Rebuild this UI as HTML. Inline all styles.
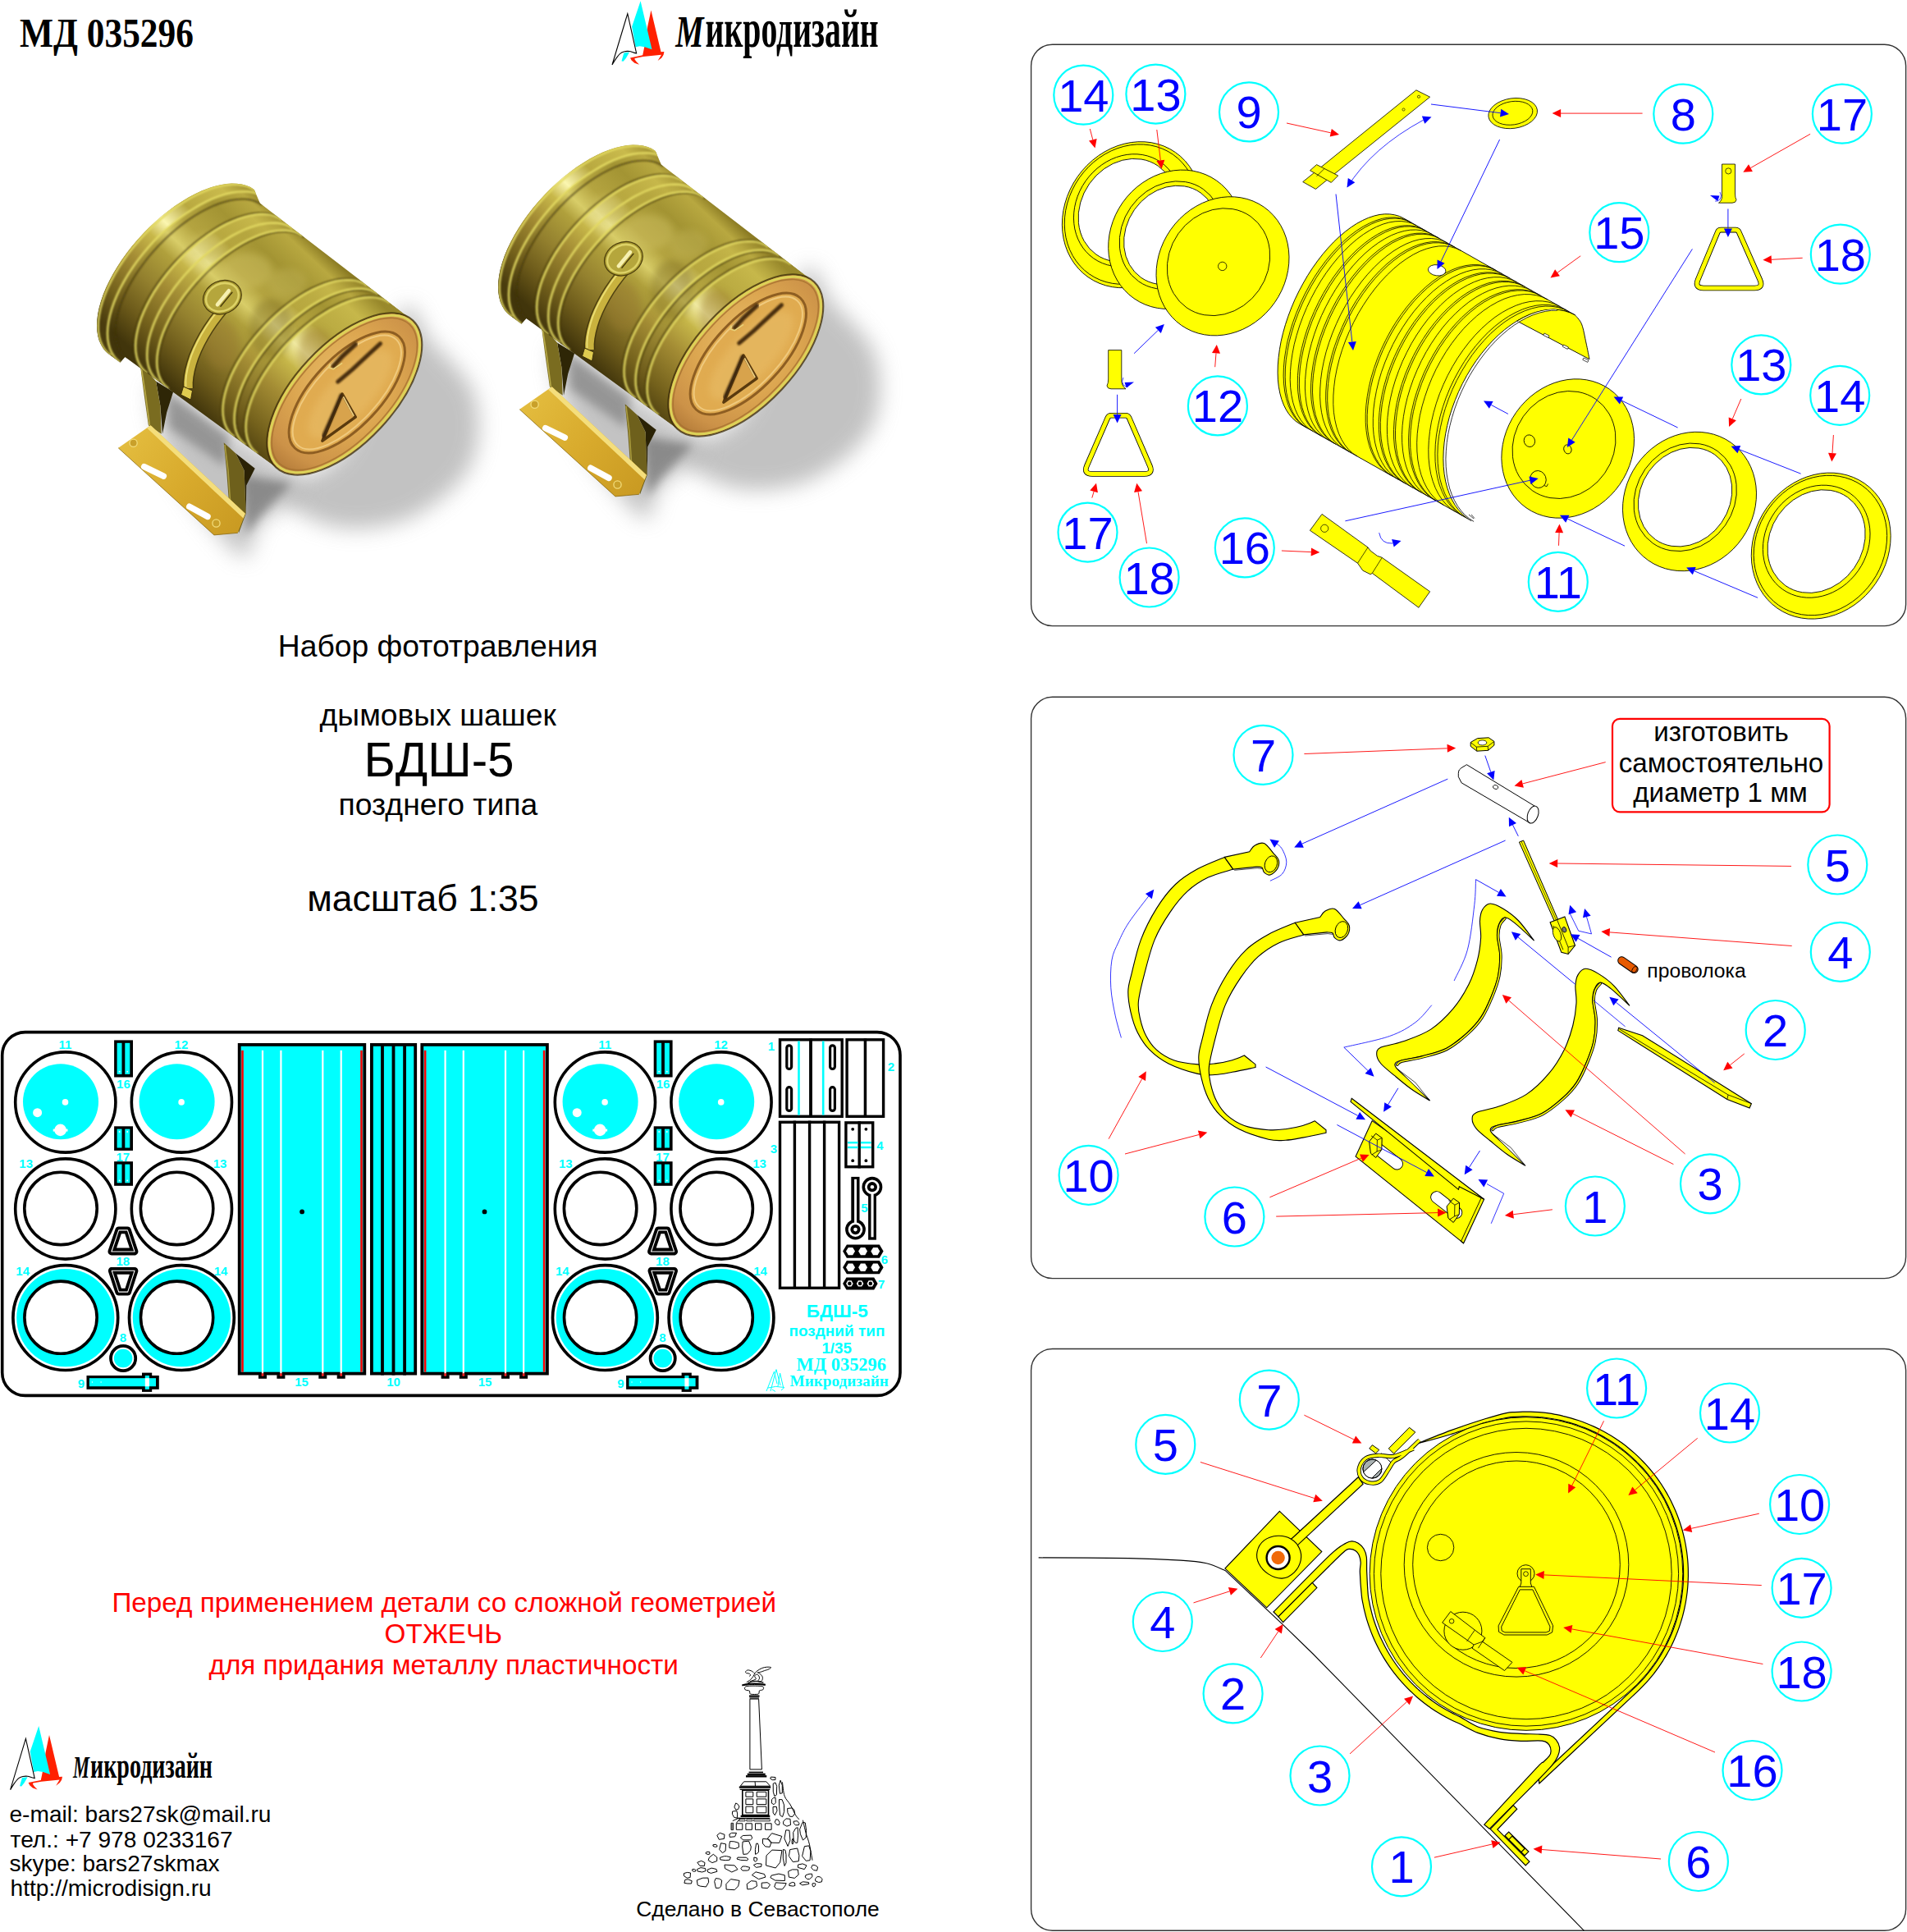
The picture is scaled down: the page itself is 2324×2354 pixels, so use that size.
<!DOCTYPE html>
<html><head><meta charset="utf-8"><title>МД 035296</title>
<style>
html,body{margin:0;padding:0;background:#fff;}
body{width:2324px;height:2354px;overflow:hidden;font-family:"Liberation Sans",sans-serif;}
svg{display:block;position:absolute;left:0;top:0;}
svg text{font-family:"Liberation Sans",sans-serif;}
svg text.sf{font-family:"Liberation Serif",serif;}
</style></head><body>
<svg xmlns="http://www.w3.org/2000/svg" width="2324" height="2354" viewBox="0 0 2324 2354">
<defs>
<linearGradient id="gBody" gradientUnits="userSpaceOnUse" x1="406.4" y1="316.4" x2="237.2" y2="497.6">
<stop offset="0" stop-color="#8c7c24"/><stop offset="0.07" stop-color="#b8a840"/><stop offset="0.2" stop-color="#a39433"/>
<stop offset="0.36" stop-color="#b4a440"/><stop offset="0.46" stop-color="#d8cd68"/><stop offset="0.54" stop-color="#b0a03c"/>
<stop offset="0.7" stop-color="#93802e"/><stop offset="0.86" stop-color="#6c5a1a"/><stop offset="1" stop-color="#41350b"/>
</linearGradient>
<linearGradient id="gBand" gradientUnits="userSpaceOnUse" x1="406.4" y1="316.4" x2="237.2" y2="497.6">
<stop offset="0" stop-color="#9a8a2c"/><stop offset="0.12" stop-color="#c9ba4c"/><stop offset="0.3" stop-color="#b9a940"/><stop offset="0.43" stop-color="#fbf6b0"/>
<stop offset="0.52" stop-color="#c8b84a"/><stop offset="0.66" stop-color="#a48c34"/><stop offset="0.85" stop-color="#75621c"/><stop offset="1" stop-color="#4a3c0e"/>
</linearGradient>
<radialGradient id="gFace" gradientUnits="userSpaceOnUse" cx="430" cy="470" r="125">
<stop offset="0" stop-color="#e8bd68"/><stop offset="0.5" stop-color="#dca650"/><stop offset="0.85" stop-color="#cc9248"/><stop offset="1" stop-color="#b9803c"/>
</radialGradient>
<linearGradient id="gPlate" gradientUnits="userSpaceOnUse" x1="150" y1="540" x2="290" y2="650">
<stop offset="0" stop-color="#e3bc3e"/><stop offset="0.5" stop-color="#d8aa2c"/><stop offset="1" stop-color="#c99a22"/>
</linearGradient>
<filter id="fBlur1" x="-10%" y="-10%" width="120%" height="120%"><feGaussianBlur stdDeviation="0.9"/></filter>
<filter id="fBlur3" x="-20%" y="-20%" width="140%" height="140%"><feGaussianBlur stdDeviation="4"/></filter>
<filter id="fSh" x="-30%" y="-30%" width="160%" height="160%"><feGaussianBlur stdDeviation="13"/></filter>
<filter id="fSh2" x="-30%" y="-30%" width="160%" height="160%"><feGaussianBlur stdDeviation="6"/></filter>
<clipPath id="cBody"><path d="M309.7 230.9 L305.2 228.1 L300.2 226 L294.7 224.5 L288.7 223.7 L282.3 223.5 L275.6 224 L268.5 225.2 L261.1 227 L253.5 229.5 L245.6 232.6 L237.7 236.3 L229.6 240.6 L221.5 245.4 L213.3 250.8 L205.3 256.7 L197.3 263.1 L189.5 269.8 L181.8 277 L174.5 284.4 L167.4 292.2 L160.6 300.2 L154.2 308.4 L148.3 316.8 L142.8 325.2 L137.7 333.7 L133.2 342.2 L129.2 350.6 L125.8 358.8 L123 367 L120.8 374.8 L119.2 382.5 L118.3 389.8 L118 396.7 L118.3 403.3 L119.3 409.4 L120.8 415 L123.1 420.1 L125.9 424.7 L129.3 428.7 L133.3 432.1 L146.5 441.7 L152.4 435 L339.4 571.6 L343.5 574.1 L348.1 576 L353.1 577.3 L358.5 578 L364.3 578.1 L370.4 577.6 L376.8 576.6 L383.5 574.9 L390.4 572.6 L397.5 569.8 L404.8 566.4 L412.1 562.5 L419.5 558 L426.9 553.1 L434.2 547.7 L441.5 542 L448.6 535.8 L455.5 529.3 L462.2 522.5 L468.7 515.4 L474.8 508.1 L480.6 500.6 L486.1 493 L491.1 485.4 L495.7 477.7 L499.8 470 L503.5 462.3 L506.6 454.8 L509.2 447.5 L511.2 440.3 L512.7 433.4 L513.6 426.7 L513.9 420.4 L513.6 414.5 L512.8 409 L511.3 403.9 L509.4 399.2 L506.8 395.1 L503.8 391.5 L500.2 388.4 L316.8 247.6Z"/></clipPath>
<g id="barrel">
<path d="M489 379.3 C506.5 357.4 510.8 399 525.7 416 C540.6 433 570.3 456.2 578.2 481.5 C586.1 506.8 586 543.1 572.9 568 C559.8 592.9 527 618.8 499.5 631 C472 643.2 433.9 646.8 407.7 641.5 C381.5 636.2 340 615.2 342.2 599.5 C344.4 583.8 396.3 583.8 420.8 547.1 C445.3 510.4 471.5 401.2 489 379.3Z" fill="#9a9a9a" filter="url(#fSh)" opacity="0.6"/>
<path d="M192.7 468.4 C208.4 468.4 260.5 513.9 289.8 534 C319.1 554.1 364 571.5 368.4 589 C372.8 606.5 328.2 623.9 316 638.8 C303.8 653.7 309.9 684.8 295 678.2 C280.1 671.7 243.4 623.5 226.8 599.5 C210.2 575.5 201.1 555.9 195.4 534 C189.7 512.1 177 468.4 192.7 468.4Z" fill="#a4a4a4" filter="url(#fSh)" opacity="0.65"/>
<path d="M203.2 476.3 L279.3 531.3 L274 568 L205.9 520.8Z" fill="#6e6e6e" filter="url(#fSh2)" opacity="0.55"/>
<path d="M295 578.5 L355.3 589 L316 631 L300.2 651.9Z" fill="#5c5c5c" filter="url(#fSh2)" opacity="0.55"/>
<path d="M190.1 464.5 L211.1 477.6 L203.2 502.5 L198 528.7 L195.4 494.6Z" fill="#2e2606"/>
<path d="M170.5 442.2 L190.1 464.5 L195.4 494.6 L196.7 528.7 L180.9 518.2 L175.7 481.5Z" fill="#7a6c20"/>
<path d="M171.8 444.8 L177.5 481.5 L182.3 518.2" fill="none" stroke="#b8aa48" stroke-width="1.6"/>
<path d="M287.1 552.3 L310.7 570.7 L300.2 591.6 L299.7 625.7 L297.6 573.3Z" fill="#2a2205"/>
<path d="M272.7 539.2 L287.1 552.3 L297.6 573.3 L299.7 625.7 L291.1 649.3 L279.8 623.1 L276.1 573.3Z" fill="#6e601c"/>
<path d="M274 541.8 L278 573.3 L281.4 623.1" fill="none" stroke="#a89a3e" stroke-width="1.6"/>
<path d="M144.2 545.8 L183.6 518.2 L298.9 625.7 L289.8 649.3 L260.9 651.9Z" fill="url(#gPlate)"/>
<path d="M183.6 518.2 L298.9 625.7 L296.6 631.5 L179.1 521.6Z" fill="#f4de7c"/>
<path d="M144.2 545.8 L260.9 651.9 L289.8 649.3" fill="none" stroke="#8a6a10" stroke-width="0.8"/>
<path d="M175.7 568.6 L199.3 580.1" stroke="#fff" stroke-width="7.5" stroke-linecap="round"/>
<path d="M230.8 617.3 L253 629.4" stroke="#fff" stroke-width="7.5" stroke-linecap="round"/>
<circle cx="162.6" cy="539.7" r="4.6" fill="#c9a02a" stroke="#f2dc7a" stroke-width="1.3"/>
<circle cx="263.5" cy="637.5" r="4.6" fill="#c9a02a" stroke="#f2dc7a" stroke-width="1.3"/>
<path d="M309.7 230.9 L305.2 228.1 L300.2 226 L294.7 224.5 L288.7 223.7 L282.3 223.5 L275.6 224 L268.5 225.2 L261.1 227 L253.5 229.5 L245.6 232.6 L237.7 236.3 L229.6 240.6 L221.5 245.4 L213.3 250.8 L205.3 256.7 L197.3 263.1 L189.5 269.8 L181.8 277 L174.5 284.4 L167.4 292.2 L160.6 300.2 L154.2 308.4 L148.3 316.8 L142.8 325.2 L137.7 333.7 L133.2 342.2 L129.2 350.6 L125.8 358.8 L123 367 L120.8 374.8 L119.2 382.5 L118.3 389.8 L118 396.7 L118.3 403.3 L119.3 409.4 L120.8 415 L123.1 420.1 L125.9 424.7 L129.3 428.7 L133.3 432.1 L146.5 441.7 L152.4 435 L339.4 571.6 L343.5 574.1 L348.1 576 L353.1 577.3 L358.5 578 L364.3 578.1 L370.4 577.6 L376.8 576.6 L383.5 574.9 L390.4 572.6 L397.5 569.8 L404.8 566.4 L412.1 562.5 L419.5 558 L426.9 553.1 L434.2 547.7 L441.5 542 L448.6 535.8 L455.5 529.3 L462.2 522.5 L468.7 515.4 L474.8 508.1 L480.6 500.6 L486.1 493 L491.1 485.4 L495.7 477.7 L499.8 470 L503.5 462.3 L506.6 454.8 L509.2 447.5 L511.2 440.3 L512.7 433.4 L513.6 426.7 L513.9 420.4 L513.6 414.5 L512.8 409 L511.3 403.9 L509.4 399.2 L506.8 395.1 L503.8 391.5 L500.2 388.4 L316.8 247.6Z" fill="url(#gBody)"/>
<g clip-path="url(#cBody)">
<path d="M309.7 230.9 L305.2 228.1 L300.2 226 L294.7 224.5 L288.7 223.7 L282.3 223.5 L275.6 224 L268.5 225.2 L261.1 227 L253.5 229.5 L245.6 232.6 L237.7 236.3 L229.6 240.6 L221.5 245.4 L213.3 250.8 L205.3 256.7 L197.3 263.1 L189.5 269.8 L181.8 277 L174.5 284.4 L167.4 292.2 L160.6 300.2 L154.2 308.4 L148.3 316.8 L142.8 325.2 L137.7 333.7 L133.2 342.2 L129.2 350.6 L125.8 358.8 L123 367 L120.8 374.8 L119.2 382.5 L118.3 389.8 L118 396.7 L118.3 403.3 L119.3 409.4 L120.8 415 L123.1 420.1 L125.9 424.7 L129.3 428.7 L133.3 432.1 L146.3 441.6 L142.3 438.2 L138.9 434.2 L136.1 429.7 L133.9 424.6 L132.3 418.9 L131.3 412.8 L131 406.3 L131.3 399.4 L132.3 392.1 L133.9 384.5 L136.1 376.6 L138.9 368.5 L142.3 360.2 L146.3 351.8 L150.8 343.4 L155.8 334.9 L161.3 326.5 L167.2 318.1 L173.6 309.9 L180.4 301.9 L187.4 294.2 L194.8 286.7 L202.4 279.6 L210.2 272.8 L218.2 266.5 L226.3 260.6 L234.4 255.2 L242.5 250.4 L250.5 246.1 L258.5 242.4 L266.3 239.3 L273.9 236.9 L281.3 235 L288.4 233.9 L295.1 233.4 L301.5 233.5 L307.5 234.3 L313 235.8 L318 237.9 L322.5 240.7Z" fill="url(#gBand)" opacity="1"/>
<path d="M343.1 267.8 L338.9 265.3 L334.2 263.3 L329.1 261.9 L323.6 261.2 L317.7 261 L311.4 261.5 L304.8 262.6 L298 264.3 L290.9 266.6 L283.6 269.5 L276.2 272.9 L268.7 276.9 L261.2 281.4 L253.7 286.4 L246.2 291.9 L238.8 297.7 L231.5 304 L224.4 310.7 L217.6 317.6 L211 324.8 L204.7 332.3 L198.8 339.9 L193.3 347.6 L188.1 355.5 L183.5 363.3 L179.3 371.2 L175.6 379 L172.4 386.7 L169.8 394.2 L167.8 401.5 L166.3 408.6 L165.4 415.4 L165.1 421.8 L165.4 427.9 L166.3 433.5 L167.7 438.8 L169.8 443.5 L172.4 447.7 L175.5 451.4 L179.2 454.6 L193.2 464.8 L189.6 461.7 L186.4 458 L183.8 453.8 L181.8 449 L180.3 443.8 L179.4 438.2 L179.2 432.1 L179.5 425.7 L180.3 418.9 L181.8 411.8 L183.9 404.5 L186.5 397 L189.6 389.4 L193.3 381.6 L197.5 373.7 L202.2 365.9 L207.3 358.1 L212.8 350.3 L218.7 342.7 L225 335.3 L231.6 328.1 L238.4 321.2 L245.5 314.5 L252.7 308.3 L260.1 302.4 L267.6 296.9 L275.1 291.9 L282.6 287.4 L290.1 283.5 L297.5 280 L304.7 277.1 L311.8 274.8 L318.6 273.2 L325.2 272.1 L331.5 271.6 L337.4 271.7 L342.9 272.5 L348 273.8 L352.7 275.8 L356.8 278.4Z" fill="url(#gBand)" opacity="0.9"/>
<path d="M356.8 278.4 L352.7 275.8 L348 273.8 L342.9 272.5 L337.4 271.7 L331.5 271.6 L325.2 272.1 L318.6 273.2 L311.8 274.8 L304.7 277.1 L297.5 280 L290.1 283.5 L282.6 287.4 L275.1 291.9 L267.6 296.9 L260.1 302.4 L252.7 308.3 L245.5 314.5 L238.4 321.2 L231.6 328.1 L225 335.3 L218.7 342.7 L212.8 350.3 L207.3 358.1 L202.2 365.9 L197.5 373.7 L193.3 381.6 L189.6 389.4 L186.5 397 L183.9 404.5 L181.8 411.8 L180.3 418.9 L179.5 425.7 L179.2 432.1 L179.4 438.2 L180.3 443.8 L181.8 449 L183.8 453.8 L186.4 458 L189.6 461.7 L193.2 464.8 L205.3 473.6 L201.6 470.5 L198.5 466.8 L195.9 462.6 L193.8 457.8 L192.4 452.6 L191.5 447 L191.2 440.9 L191.5 434.5 L192.4 427.8 L193.9 420.7 L195.9 413.4 L198.5 405.9 L201.7 398.3 L205.4 390.5 L209.5 382.7 L214.2 374.8 L219.3 367 L224.8 359.3 L230.7 351.7 L237 344.3 L243.6 337.1 L250.4 330.2 L257.4 323.6 L264.7 317.3 L272.1 311.4 L279.5 306 L287 301 L294.5 296.5 L302 292.5 L309.4 289.1 L316.6 286.2 L323.7 283.9 L330.5 282.2 L337 281.1 L343.3 280.6 L349.2 280.8 L354.7 281.5 L359.8 282.9 L364.4 284.9 L368.6 287.4Z" fill="url(#gBand)" opacity="0.6"/>
<path d="M447.2 347.7 L443 345.2 L438.4 343.3 L433.4 341.9 L428 341.2 L422.1 341.1 L416 341.6 L409.5 342.6 L402.7 344.3 L395.8 346.6 L388.6 349.5 L381.3 352.9 L373.9 356.8 L366.5 361.3 L359.1 366.2 L351.7 371.6 L344.4 377.4 L337.2 383.6 L330.2 390.2 L323.5 397.1 L317 404.2 L310.8 411.5 L304.9 419 L299.4 426.7 L294.4 434.4 L289.7 442.2 L285.6 449.9 L281.9 457.6 L278.8 465.2 L276.2 472.6 L274.2 479.8 L272.7 486.8 L271.8 493.5 L271.5 499.8 L271.8 505.8 L272.7 511.4 L274.1 516.5 L276.1 521.2 L278.6 525.4 L281.7 529 L285.4 532.1 L299.4 542.3 L295.8 539.2 L292.7 535.6 L290.1 531.4 L288.1 526.8 L286.7 521.7 L285.8 516.1 L285.6 510.1 L285.9 503.8 L286.8 497.1 L288.2 490.2 L290.3 483 L292.9 475.5 L296 468 L299.6 460.3 L303.8 452.6 L308.4 444.8 L313.5 437.1 L318.9 429.5 L324.8 422 L330.9 414.7 L337.4 407.5 L344.2 400.7 L351.2 394.2 L358.3 388 L365.6 382.2 L373 376.8 L380.4 371.8 L387.8 367.4 L395.2 363.4 L402.5 360 L409.6 357.2 L416.6 354.9 L423.3 353.2 L429.8 352.1 L435.9 351.7 L441.7 351.8 L447.2 352.5 L452.2 353.8 L456.8 355.8 L460.9 358.3Z" fill="url(#gBand)" opacity="0.8"/>
<path d="M474.6 368.8 L470.5 366.3 L466 364.4 L461 363.1 L455.5 362.4 L449.7 362.2 L443.6 362.7 L437.1 363.8 L430.4 365.5 L423.4 367.8 L416.3 370.6 L409.1 374 L401.7 377.9 L394.3 382.4 L386.9 387.3 L379.5 392.7 L372.3 398.5 L365.1 404.7 L358.2 411.2 L351.4 418 L344.9 425.1 L338.8 432.5 L332.9 439.9 L327.5 447.6 L322.4 455.3 L317.8 463 L313.7 470.7 L310 478.4 L306.9 485.9 L304.3 493.3 L302.3 500.5 L300.8 507.4 L299.9 514.1 L299.6 520.4 L299.9 526.4 L300.8 531.9 L302.2 537.1 L304.2 541.7 L306.7 545.9 L309.8 549.5 L313.4 552.5 L339.4 571.6 L335.8 568.5 L332.8 564.9 L330.2 560.8 L328.3 556.1 L326.8 551 L326 545.5 L325.7 539.6 L326 533.3 L326.9 526.6 L328.4 519.7 L330.4 512.5 L333 505.2 L336.1 497.7 L339.8 490 L343.9 482.3 L348.5 474.6 L353.5 467 L359 459.4 L364.8 451.9 L370.9 444.6 L377.4 437.5 L384.1 430.7 L391 424.2 L398.1 418 L405.4 412.3 L412.7 406.9 L420.1 402 L427.5 397.5 L434.8 393.6 L442.1 390.2 L449.2 387.4 L456.1 385.1 L462.8 383.4 L469.2 382.4 L475.3 381.9 L481.1 382 L486.5 382.7 L491.5 384 L496.1 385.9 L500.2 388.4Z" fill="url(#gBand)" opacity="0.9"/>
<g filter="url(#fBlur3)" opacity="0.4">
<ellipse cx="300" cy="330" rx="32" ry="22" fill="#d2c466"/>
<ellipse cx="330" cy="400" rx="26" ry="36" fill="#7a6a22"/>
<ellipse cx="270" cy="420" rx="20" ry="30" fill="#9a7a30"/>
<ellipse cx="350" cy="345" rx="24" ry="18" fill="#c4b658"/>
<ellipse cx="385" cy="430" rx="22" ry="30" fill="#9c7c34"/>
<ellipse cx="250" cy="300" rx="22" ry="16" fill="#c9bc5c"/>
</g>
<g fill="none" stroke="#40340a" stroke-width="1.8" opacity="0.75" filter="url(#fBlur1)">
<path d="M319.1 249.4 L314.9 246.9 L310.3 244.9 L305.1 243.5 L299.6 242.7 L293.6 242.6 L287.3 243.1 L280.7 244.1 L273.9 245.8 L266.8 248.1 L259.5 251 L252.1 254.5 L244.5 258.5 L237 263 L229.4 268 L221.9 273.5 L214.5 279.4 L207.2 285.7 L200.1 292.4 L193.2 299.3 L186.6 306.6 L180.3 314 L174.4 321.7 L168.8 329.4 L163.7 337.3 L159 345.2 L154.8 353.1 L151.1 360.9 L147.9 368.6 L145.3 376.1 L143.3 383.5 L141.8 390.6 L140.9 397.4 L140.6 403.8 L140.9 409.9 L141.8 415.6 L143.3 420.9 L145.3 425.6 L147.9 429.9 L151.1 433.6 L154.8 436.7"/>
<path d="M341.1 266.3 L336.9 263.7 L332.3 261.8 L327.2 260.4 L321.6 259.6 L315.7 259.5 L309.4 260 L302.8 261.1 L296 262.8 L288.9 265.1 L281.7 267.9 L274.3 271.4 L266.8 275.4 L259.2 279.9 L251.7 284.9 L244.2 290.4 L236.8 296.2 L229.5 302.5 L222.5 309.2 L215.6 316.1 L209 323.3 L202.7 330.8 L196.8 338.4 L191.3 346.1 L186.1 354 L181.5 361.8 L177.3 369.7 L173.6 377.5 L170.4 385.2 L167.8 392.7 L165.8 400 L164.3 407.1 L163.4 413.9 L163.1 420.3 L163.4 426.4 L164.3 432.1 L165.7 437.3 L167.8 442 L170.4 446.3 L173.5 450 L177.2 453.1"/>
<path d="M370.6 288.9 L366.4 286.4 L361.8 284.4 L356.7 283.1 L351.2 282.3 L345.3 282.2 L339 282.6 L332.5 283.7 L325.6 285.4 L318.6 287.7 L311.4 290.6 L304 294 L296.5 298 L289 302.5 L281.5 307.5 L274 312.9 L266.7 318.8 L259.4 325.1 L252.4 331.7 L245.6 338.6 L239 345.8 L232.7 353.2 L226.8 360.8 L221.3 368.5 L216.2 376.3 L211.5 384.2 L207.4 392 L203.7 399.7 L200.5 407.4 L197.9 414.9 L195.9 422.2 L194.4 429.2 L193.5 436 L193.2 442.4 L193.5 448.5 L194.4 454.1 L195.8 459.3 L197.9 464 L200.5 468.2 L203.6 471.9 L207.3 475"/>
<path d="M445.2 346.2 L441.1 343.7 L436.5 341.8 L431.4 340.4 L426 339.7 L420.2 339.6 L414 340 L407.5 341.1 L400.7 342.8 L393.8 345.1 L386.6 348 L379.3 351.4 L371.9 355.3 L364.5 359.8 L357.1 364.7 L349.7 370.1 L342.4 375.9 L335.2 382.1 L328.2 388.7 L321.5 395.6 L315 402.7 L308.8 410 L302.9 417.5 L297.4 425.2 L292.4 432.9 L287.7 440.7 L283.6 448.4 L279.9 456.1 L276.8 463.7 L274.2 471.1 L272.2 478.3 L270.7 485.3 L269.8 492 L269.5 498.4 L269.8 504.3 L270.6 509.9 L272.1 515.1 L274.1 519.7 L276.6 523.9 L279.7 527.5 L283.4 530.6"/>
<path d="M462.9 359.8 L458.8 357.3 L454.2 355.4 L449.2 354 L443.7 353.3 L437.9 353.2 L431.7 353.6 L425.3 354.7 L418.5 356.4 L411.6 358.7 L404.4 361.5 L397.2 365 L389.8 368.9 L382.4 373.3 L375 378.3 L367.6 383.7 L360.3 389.5 L353.2 395.7 L346.2 402.2 L339.4 409 L332.9 416.2 L326.8 423.5 L320.9 431 L315.5 438.6 L310.4 446.3 L305.8 454.1 L301.6 461.8 L298 469.5 L294.9 477 L292.3 484.4 L290.3 491.6 L288.8 498.6 L287.9 505.3 L287.6 511.6 L287.9 517.6 L288.7 523.1 L290.1 528.3 L292.1 532.9 L294.7 537.1 L297.8 540.7 L301.4 543.8"/>
<path d="M472.7 367.3 L468.6 364.8 L464 362.9 L459 361.6 L453.6 360.8 L447.8 360.7 L441.6 361.2 L435.1 362.3 L428.4 364 L421.5 366.2 L414.3 369.1 L407.1 372.5 L399.7 376.4 L392.3 380.9 L384.9 385.8 L377.5 391.2 L370.3 397 L363.1 403.2 L356.2 409.7 L349.4 416.5 L342.9 423.6 L336.8 431 L330.9 438.5 L325.5 446.1 L320.4 453.8 L315.8 461.5 L311.7 469.2 L308 476.9 L304.9 484.4 L302.3 491.8 L300.3 499 L298.8 506 L297.9 512.6 L297.6 519 L297.9 524.9 L298.7 530.5 L300.2 535.6 L302.2 540.2 L304.7 544.4 L307.8 548 L311.4 551.1"/>
</g>
<g fill="none" stroke="#e3da62" stroke-width="2.4" filter="url(#fBlur1)">
<path d="M311.3 232.1 L306.8 229.3 L301.8 227.2 L296.2 225.7 L290.3 224.9 L283.9 224.7 L277.1 225.2 L270 226.4 L262.7 228.2 L255 230.7 L247.2 233.8 L239.2 237.5 L231.2 241.8 L223.1 246.7 L214.9 252 L206.9 257.9 L198.9 264.3 L191.1 271 L183.4 278.2 L176.1 285.6 L169 293.4 L162.2 301.4 L155.8 309.6 L149.9 318 L144.4 326.4 L139.3 334.9 L134.8 343.4 L130.8 351.7 L127.4 360 L124.6 368.1 L122.4 376 L120.9 383.7 L119.9 391 L119.6 397.9 L119.9 404.5 L120.9 410.6 L122.5 416.2 L124.7 421.3 L127.5 425.9 L130.9 429.9 L134.9 433.3"/>
<path d="M322.5 240.7 L318 237.9 L313 235.8 L307.5 234.3 L301.5 233.5 L295.1 233.4 L288.4 233.9 L281.3 235 L273.9 236.9 L266.3 239.3 L258.5 242.4 L250.5 246.1 L242.5 250.4 L234.4 255.2 L226.3 260.6 L218.2 266.5 L210.2 272.8 L202.4 279.6 L194.8 286.7 L187.4 294.2 L180.4 301.9 L173.6 309.9 L167.2 318.1 L161.3 326.5 L155.8 334.9 L150.8 343.4 L146.3 351.8 L142.3 360.2 L138.9 368.5 L136.1 376.6 L133.9 384.5 L132.3 392.1 L131.3 399.4 L131 406.3 L131.3 412.8 L132.3 418.9 L133.9 424.6 L136.1 429.7 L138.9 434.2 L142.3 438.2 L146.3 441.6"/>
<path d="M343.1 267.8 L338.9 265.3 L334.2 263.3 L329.1 261.9 L323.6 261.2 L317.7 261 L311.4 261.5 L304.8 262.6 L298 264.3 L290.9 266.6 L283.6 269.5 L276.2 272.9 L268.7 276.9 L261.2 281.4 L253.7 286.4 L246.2 291.9 L238.8 297.7 L231.5 304 L224.4 310.7 L217.6 317.6 L211 324.8 L204.7 332.3 L198.8 339.9 L193.3 347.6 L188.1 355.5 L183.5 363.3 L179.3 371.2 L175.6 379 L172.4 386.7 L169.8 394.2 L167.8 401.5 L166.3 408.6 L165.4 415.4 L165.1 421.8 L165.4 427.9 L166.3 433.5 L167.7 438.8 L169.8 443.5 L172.4 447.7 L175.5 451.4 L179.2 454.6"/>
<path d="M356.8 278.4 L352.7 275.8 L348 273.8 L342.9 272.5 L337.4 271.7 L331.5 271.6 L325.2 272.1 L318.6 273.2 L311.8 274.8 L304.7 277.1 L297.5 280 L290.1 283.5 L282.6 287.4 L275.1 291.9 L267.6 296.9 L260.1 302.4 L252.7 308.3 L245.5 314.5 L238.4 321.2 L231.6 328.1 L225 335.3 L218.7 342.7 L212.8 350.3 L207.3 358.1 L202.2 365.9 L197.5 373.7 L193.3 381.6 L189.6 389.4 L186.5 397 L183.9 404.5 L181.8 411.8 L180.3 418.9 L179.5 425.7 L179.2 432.1 L179.4 438.2 L180.3 443.8 L181.8 449 L183.8 453.8 L186.4 458 L189.6 461.7 L193.2 464.8"/>
<path d="M368.6 287.4 L364.4 284.9 L359.8 282.9 L354.7 281.5 L349.2 280.8 L343.3 280.6 L337 281.1 L330.5 282.2 L323.7 283.9 L316.6 286.2 L309.4 289.1 L302 292.5 L294.5 296.5 L287 301 L279.5 306 L272.1 311.4 L264.7 317.3 L257.4 323.6 L250.4 330.2 L243.6 337.1 L237 344.3 L230.7 351.7 L224.8 359.3 L219.3 367 L214.2 374.8 L209.5 382.7 L205.4 390.5 L201.7 398.3 L198.5 405.9 L195.9 413.4 L193.9 420.7 L192.4 427.8 L191.5 434.5 L191.2 440.9 L191.5 447 L192.4 452.6 L193.8 457.8 L195.9 462.6 L198.5 466.8 L201.6 470.5 L205.3 473.6"/>
<path d="M447.2 347.7 L443 345.2 L438.4 343.3 L433.4 341.9 L428 341.2 L422.1 341.1 L416 341.6 L409.5 342.6 L402.7 344.3 L395.8 346.6 L388.6 349.5 L381.3 352.9 L373.9 356.8 L366.5 361.3 L359.1 366.2 L351.7 371.6 L344.4 377.4 L337.2 383.6 L330.2 390.2 L323.5 397.1 L317 404.2 L310.8 411.5 L304.9 419 L299.4 426.7 L294.4 434.4 L289.7 442.2 L285.6 449.9 L281.9 457.6 L278.8 465.2 L276.2 472.6 L274.2 479.8 L272.7 486.8 L271.8 493.5 L271.5 499.8 L271.8 505.8 L272.7 511.4 L274.1 516.5 L276.1 521.2 L278.6 525.4 L281.7 529 L285.4 532.1"/>
<path d="M460.9 358.3 L456.8 355.8 L452.2 353.8 L447.2 352.5 L441.7 351.8 L435.9 351.7 L429.8 352.1 L423.3 353.2 L416.6 354.9 L409.6 357.2 L402.5 360 L395.2 363.4 L387.8 367.4 L380.4 371.8 L373 376.8 L365.6 382.2 L358.3 388 L351.2 394.2 L344.2 400.7 L337.4 407.5 L330.9 414.7 L324.8 422 L318.9 429.5 L313.5 437.1 L308.4 444.8 L303.8 452.6 L299.6 460.3 L296 468 L292.9 475.5 L290.3 483 L288.2 490.2 L286.8 497.1 L285.9 503.8 L285.6 510.1 L285.8 516.1 L286.7 521.7 L288.1 526.8 L290.1 531.4 L292.7 535.6 L295.8 539.2 L299.4 542.3"/>
<path d="M474.6 368.8 L470.5 366.3 L466 364.4 L461 363.1 L455.5 362.4 L449.7 362.2 L443.6 362.7 L437.1 363.8 L430.4 365.5 L423.4 367.8 L416.3 370.6 L409.1 374 L401.7 377.9 L394.3 382.4 L386.9 387.3 L379.5 392.7 L372.3 398.5 L365.1 404.7 L358.2 411.2 L351.4 418 L344.9 425.1 L338.8 432.5 L332.9 439.9 L327.5 447.6 L322.4 455.3 L317.8 463 L313.7 470.7 L310 478.4 L306.9 485.9 L304.3 493.3 L302.3 500.5 L300.8 507.4 L299.9 514.1 L299.6 520.4 L299.9 526.4 L300.8 531.9 L302.2 537.1 L304.2 541.7 L306.7 545.9 L309.8 549.5 L313.4 552.5"/>
</g>
</g>
<path d="M272.9 375.2 L266.1 383.5 L259.8 391.9 L253.9 400.5 L248.6 409.2 L243.9 417.9 L239.8 426.4 L236.3 434.9 L233.6 443.2 L231.5 451.2 L230.1 458.8 L229.4 466.1 L229.5 473" fill="none" stroke="#3e320a" stroke-width="13.5" opacity="0.8"/>
<path d="M272.9 375.2 L266.1 383.5 L259.8 391.9 L253.9 400.5 L248.6 409.2 L243.9 417.9 L239.8 426.4 L236.3 434.9 L233.6 443.2 L231.5 451.2 L230.1 458.8 L229.4 466.1 L229.5 473" fill="none" stroke="#c9b23e" stroke-width="10.5"/>
<path d="M272.9 375.2 L266.1 383.5 L259.8 391.9 L253.9 400.5 L248.6 409.2 L243.9 417.9 L239.8 426.4 L236.3 434.9 L233.6 443.2 L231.5 451.2 L230.1 458.8 L229.4 466.1 L229.5 473" fill="none" stroke="#e9dc70" stroke-width="2" transform="translate(-3,-2)"/>
<path d="M223.5 471 l11 5 l-2 11 l-12 -6Z" fill="#e0cc50" stroke="#3e320a" stroke-width="1"/>
<ellipse cx="270.9" cy="362.2" rx="24" ry="20" fill="#a5962f" stroke="#4a3c0c" stroke-width="1.2" transform="rotate(-25 270.9 362.2)"/>
<ellipse cx="270.9" cy="362.2" rx="20.5" ry="16.5" fill="#b5a63c" stroke="#ddd266" stroke-width="2.6" transform="rotate(-25 270.9 362.2)"/>
<path d="M264.9 371.2 l14 -17" stroke="#f6f0b0" stroke-width="4.5" stroke-linecap="round"/>
<path d="M268.9 373.2 l14 -17" stroke="#4a3c0c" stroke-width="1.4" stroke-linecap="round"/>
<ellipse cx="419.8" cy="480.0" rx="122.0" ry="60.0" fill="url(#gFace)" transform="rotate(-47 419.8 480.0)"/>
<ellipse cx="419.8" cy="480.0" rx="122.5" ry="60.5" fill="none" stroke="#3a2c08" stroke-width="2" opacity="0.75" transform="rotate(-47 419.8 480.0)"/>
<ellipse cx="419.8" cy="480.0" rx="119.5" ry="57.5" fill="none" stroke="#dcd257" stroke-width="3" transform="rotate(-47 419.8 480.0)"/>
<ellipse cx="419.8" cy="480.0" rx="116.0" ry="54.5" fill="none" stroke="#a5702e" stroke-width="1.6" opacity="0.8" transform="rotate(-47 419.8 480.0)"/>
<ellipse cx="422.8" cy="478.0" rx="93" ry="42" fill="#e0ab50" stroke="#8e5e22" stroke-width="3" transform="rotate(-47 422.8 478.0)"/>
<ellipse cx="422.8" cy="478.0" rx="88" ry="37.5" fill="none" stroke="#f2cf86" stroke-width="2" opacity="0.85" transform="rotate(-47 422.8 478.0)"/>
<ellipse cx="426.8" cy="480.0" rx="70" ry="26" fill="#e8bc66" opacity="0.6" filter="url(#fBlur3)" transform="rotate(-47 426.8 480.0)"/>
<path d="M463.5 418.7 L448 432.9 L429.2 450.4 L411.7 465.2" fill="none" stroke="#4a2e0a" stroke-width="5" stroke-linecap="round" filter="url(#fBlur1)"/>
<path d="M433.2 419.4 L417.1 434.2 L406.3 446.3" fill="none" stroke="#4a2e0a" stroke-width="5.5" stroke-linecap="round" filter="url(#fBlur1)"/>
<path d="M417.1 442.3 L406.3 449.7 L400.3 447.7 L402.3 443.6" fill="none" stroke="#e8d27a" stroke-width="1.6"/>
<path d="M417.1 480 L433.2 508.2 L392.9 537.2Z" fill="#d8a34c" stroke="#5a3a0e" stroke-width="3.5" stroke-linejoin="round"/>
<path d="M418.4 483.3 L431.2 506.9" fill="none" stroke="#f0d486" stroke-width="1.6"/>
<path d="M415.7 481.3 L407.7 500.2 L394.2 531.1" fill="none" stroke="#3c260a" stroke-width="4" stroke-linecap="round" filter="url(#fBlur1)"/>
</g><clipPath id="cPin"><circle cx="1672.4" cy="1789.6" r="11.5"/></clipPath></defs>
<rect width="2324" height="2354" fill="#fff"/>
<g id="sec_photo">
<use href="#barrel"/>
<use href="#barrel" transform="translate(489,-47)"/>
</g>
<g id="sec_text">
<text x="24" y="57.2" class="sf" font-weight="bold" font-size="50" textLength="212" lengthAdjust="spacingAndGlyphs" fill="#000">МД 035296</text>
<text x="823.2" y="56.8" class="sf" font-weight="bold" font-style="italic" font-size="54.4" textLength="34.3" lengthAdjust="spacingAndGlyphs" fill="#000">М</text><text x="859.5" y="56.8" class="sf" font-weight="bold" font-size="65.5" textLength="211.2" lengthAdjust="spacingAndGlyphs" fill="#000">икродизайн</text>
<text x="533.6" y="799.8" font-size="37.3" fill="#000" text-anchor="middle" >Набор фототравления</text>
<text x="533.7" y="883.7" font-size="37.3" fill="#000" text-anchor="middle" >дымовых шашек</text>
<text x="535" y="945.8" font-size="58.3" fill="#000" text-anchor="middle" >БДШ-5</text>
<text x="533.9" y="993" font-size="37.3" fill="#000" text-anchor="middle" >позднего типа</text>
<text x="515.4" y="1109.7" font-size="44.5" fill="#000" text-anchor="middle" >масштаб 1:35</text>
<text x="541.2" y="1964" font-size="33.25" fill="#f00" text-anchor="middle" >Перед применением детали со сложной геометрией</text>
<text x="540.3" y="2001.5" font-size="33.25" fill="#f00" text-anchor="middle" >ОТЖЕЧЬ</text>
<text x="540.7" y="2039.8" font-size="33.25" fill="#f00" text-anchor="middle" >для придания металлу пластичности</text>
<text x="89.1" y="2165.6" class="sf" font-weight="bold" font-style="italic" font-size="37.5" textLength="20" lengthAdjust="spacingAndGlyphs" fill="#000">М</text><text x="110.1" y="2165.6" class="sf" font-weight="bold" font-size="43.5" textLength="148.9" lengthAdjust="spacingAndGlyphs" fill="#000">икродизайн</text>
<text x="11.5" y="2219.5" font-size="28.1" fill="#000" text-anchor="start" >e-mail: bars27sk@mail.ru</text>
<text x="12.6" y="2251" font-size="28.1" fill="#000" text-anchor="start" >тел.: +7 978 0233167</text>
<text x="11.5" y="2280.3" font-size="28.1" fill="#000" text-anchor="start" >skype: bars27skmax</text>
<text x="12.6" y="2310.3" font-size="28.1" fill="#000" text-anchor="start" >http://microdisign.ru</text>
<text x="775.2" y="2335.1" font-size="26.4" fill="#000" text-anchor="start" >Сделано в Севастополе</text>
</g>
<g id="sec_logo">
<path d="M60 2114.1 L72.1 2165 L76 2164.7 L75.2 2168.4 L72.9 2172.1 L68.2 2175.8 L72.6 2168.4 L50.3 2170.8 L40.4 2172.6 L39.9 2173.7 L42 2176.8 L45.6 2180.5 L39.9 2178.4 L36.2 2175.2 L34.6 2172.1 L49.8 2168.9 L51.9 2158.7 L55.8 2134.3Z" fill="#ff2000"/>
<path d="M47.2 2102.9 L61.1 2161.9 L52.4 2158.9 L46.1 2157.9 L41.2 2159 L36.7 2134.3Z" fill="#0ff"/>
<path d="M27 2166.1 L33.6 2165.3 L29.4 2172.6 L26.2 2176.5 L24.1 2176.3 L25.2 2172.1Z" fill="#0ff"/>
<path d="M42.2 2166.6 L31.4 2118.3 L12.6 2180.7 L12.6 2180.7 C13.4 2179.4 15.7 2175.4 17.3 2173.1 C18.9 2170.8 20.8 2168.2 22.5 2166.8 C24.2 2165.4 25.9 2164.9 27.8 2164.5 C29.7 2164.1 31.8 2164 33.6 2164.2 C35.4 2164.4 37.4 2165.4 38.8 2165.8 C40.2 2166.2 41.6 2166.5 42.2 2166.6Z" fill="#fff" stroke="#000" stroke-width="1.1" stroke-linejoin="miter"/>
<path d="M793.4 12.4 L805.5 63.3 L809.4 63 L808.6 66.7 L806.3 70.4 L801.6 74.1 L806 66.7 L783.7 69.1 L773.8 70.9 L773.3 72 L775.4 75.1 L779 78.8 L773.3 76.7 L769.6 73.5 L768 70.4 L783.2 67.2 L785.3 57 L789.2 32.6Z" fill="#ff2000"/>
<path d="M780.6 1.2 L794.5 60.2 L785.8 57.2 L779.5 56.2 L774.6 57.3 L770.1 32.6Z" fill="#0ff"/>
<path d="M760.4 64.4 L767 63.6 L762.8 70.9 L759.6 74.8 L757.5 74.6 L758.6 70.4Z" fill="#0ff"/>
<path d="M775.6 64.9 L764.8 16.6 L746 79 L746 79 C746.8 77.7 749.1 73.7 750.7 71.4 C752.4 69.1 754.1 66.5 755.9 65.1 C757.6 63.7 759.4 63.2 761.2 62.8 C763.1 62.4 765.2 62.3 767 62.5 C768.8 62.7 770.8 63.7 772.2 64.1 C773.6 64.5 775 64.8 775.6 64.9Z" fill="#fff" stroke="#000" stroke-width="1.1" stroke-linejoin="miter"/>
</g>
<g id="sec_fret">
<rect x="2.7" y="1257.6" width="1094.3" height="442.8" rx="28" ry="28" fill="#fff" stroke="#000" stroke-width="3.6"/>
<circle cx="79.8" cy="1343" r="61.1" fill="#fff" stroke="#000" stroke-width="3.6"/>
<circle cx="74" cy="1342.3" r="46" fill="#0ff"/>
<circle cx="221.4" cy="1343" r="61.1" fill="#fff" stroke="#000" stroke-width="3.6"/>
<circle cx="215.6" cy="1342.3" r="46" fill="#0ff"/>
<circle cx="79.5" cy="1342.9" r="3.8" fill="#fff"/>
<circle cx="45.6" cy="1355.7" r="5.5" fill="#fff"/>
<circle cx="73.6" cy="1376.9" r="7.3" fill="#fff"/>
<rect x="64.7" y="1375.6" width="17.8" height="3" fill="#fff"/>
<circle cx="221.1" cy="1342.9" r="3.8" fill="#fff"/>
<circle cx="79.8" cy="1473" r="61.1" fill="#fff" stroke="#000" stroke-width="3.6"/>
<circle cx="74" cy="1472.4" r="44.2" fill="#fff" stroke="#000" stroke-width="3.6"/>
<circle cx="221.4" cy="1473" r="61.1" fill="#fff" stroke="#000" stroke-width="3.6"/>
<circle cx="215.6" cy="1472.4" r="44.2" fill="#fff" stroke="#000" stroke-width="3.6"/>
<circle cx="79.8" cy="1605.6" r="63.9" fill="#fff" stroke="#000" stroke-width="3.7"/>
<circle cx="79.8" cy="1605.6" r="59.6" fill="#0ff"/>
<circle cx="74" cy="1605.2" r="44.1" fill="#fff" stroke="#000" stroke-width="3.6"/>
<circle cx="221.4" cy="1605.6" r="63.9" fill="#fff" stroke="#000" stroke-width="3.7"/>
<circle cx="221.4" cy="1605.6" r="59.6" fill="#0ff"/>
<circle cx="215.6" cy="1605.2" r="44.1" fill="#fff" stroke="#000" stroke-width="3.6"/>
<rect x="139.1" y="1267.4" width="22.9" height="45.1" fill="#000"/>
<rect x="142.6" y="1270.8" width="5.9" height="38.1" fill="#0ff"/>
<rect x="152.3" y="1270.8" width="6" height="38.1" fill="#0ff"/>
<circle cx="145.6" cy="1305.7" r="0.9" fill="#fff"/>
<circle cx="155.2" cy="1305.7" r="0.9" fill="#fff"/>
<rect x="139.1" y="1372.3" width="22.9" height="29.6" fill="#000"/>
<rect x="142.6" y="1375.6" width="5.9" height="22.9" fill="#0ff"/>
<rect x="152.3" y="1375.6" width="6" height="22.9" fill="#0ff"/>
<circle cx="145.6" cy="1379" r="0.9" fill="#fff"/>
<circle cx="155.2" cy="1379" r="0.9" fill="#fff"/>
<rect x="139.1" y="1415.2" width="22.9" height="29.6" fill="#000"/>
<rect x="142.6" y="1418.6" width="5.9" height="22.7" fill="#0ff"/>
<rect x="152.3" y="1418.6" width="6" height="22.7" fill="#0ff"/>
<circle cx="145.6" cy="1438.4" r="0.9" fill="#fff"/>
<circle cx="155.2" cy="1438.4" r="0.9" fill="#fff"/>
<path d="M144.7 1498.9 L155.4 1498.9 L164 1525 L135.9 1525Z" fill="#fff" stroke="#000" stroke-width="8.8" stroke-linejoin="round"/>
<path d="M144.7 1498.9 L155.4 1498.9 L164 1525 L135.9 1525Z" fill="none" stroke="#fff" stroke-width="1.1" stroke-linejoin="round"/>
<path d="M136.3 1548.3 L164 1548.3 L155.7 1574.1 L144.7 1574.1Z" fill="#fff" stroke="#000" stroke-width="8.8" stroke-linejoin="round"/>
<path d="M136.3 1548.3 L164 1548.3 L155.7 1574.1 L144.7 1574.1Z" fill="none" stroke="#fff" stroke-width="1.1" stroke-linejoin="round"/>
<circle cx="150.1" cy="1655" r="15.1" fill="#fff" stroke="#000" stroke-width="3.8"/>
<circle cx="150.1" cy="1655" r="11.3" fill="#0ff"/>
<rect x="105.5" y="1676" width="88.3" height="16.8" fill="#000"/>
<rect x="173" y="1672.6" width="12.2" height="23.3" fill="#000"/>
<rect x="108.9" y="1679.2" width="81.1" height="10" fill="#0ff"/>
<rect x="176.8" y="1676" width="5.1" height="16.8" fill="#0ff"/>
<rect x="176.8" y="1679.2" width="5.1" height="10" fill="#fff"/>
<circle cx="112.4" cy="1684" r="0.7" fill="#fff"/><circle cx="123.1" cy="1684" r="0.7" fill="#fff"/>
<text x="79.5" y="1277.7" font-size="15" font-weight="bold" fill="#0ff" text-anchor="middle">11</text>
<text x="220.9" y="1278.3" font-size="15" font-weight="bold" fill="#0ff" text-anchor="middle">12</text>
<text x="150.4" y="1325.5" font-size="15" font-weight="bold" fill="#0ff" text-anchor="middle">16</text>
<text x="149.8" y="1414.9" font-size="15" font-weight="bold" fill="#0ff" text-anchor="middle">17</text>
<text x="31.7" y="1423.4" font-size="15" font-weight="bold" fill="#0ff" text-anchor="middle">13</text>
<text x="268" y="1423.4" font-size="15" font-weight="bold" fill="#0ff" text-anchor="middle">13</text>
<text x="27.7" y="1554.3" font-size="15" font-weight="bold" fill="#0ff" text-anchor="middle">14</text>
<text x="269" y="1554.3" font-size="15" font-weight="bold" fill="#0ff" text-anchor="middle">14</text>
<text x="149.8" y="1542.4" font-size="15" font-weight="bold" fill="#0ff" text-anchor="middle">18</text>
<text x="149.8" y="1634.9" font-size="15" font-weight="bold" fill="#0ff" text-anchor="middle">8</text>
<text x="98.8" y="1690.5" font-size="15" font-weight="bold" fill="#0ff" text-anchor="middle">9</text>
<circle cx="737.4" cy="1343" r="61.1" fill="#fff" stroke="#000" stroke-width="3.6"/>
<circle cx="731.6" cy="1342.3" r="46" fill="#0ff"/>
<circle cx="879" cy="1343" r="61.1" fill="#fff" stroke="#000" stroke-width="3.6"/>
<circle cx="873.2" cy="1342.3" r="46" fill="#0ff"/>
<circle cx="737.1" cy="1342.9" r="3.8" fill="#fff"/>
<circle cx="703.2" cy="1355.7" r="5.5" fill="#fff"/>
<circle cx="731.2" cy="1376.9" r="7.3" fill="#fff"/>
<rect x="722.3" y="1375.6" width="17.8" height="3" fill="#fff"/>
<circle cx="878.7" cy="1342.9" r="3.8" fill="#fff"/>
<circle cx="737.4" cy="1473" r="61.1" fill="#fff" stroke="#000" stroke-width="3.6"/>
<circle cx="731.6" cy="1472.4" r="44.2" fill="#fff" stroke="#000" stroke-width="3.6"/>
<circle cx="879" cy="1473" r="61.1" fill="#fff" stroke="#000" stroke-width="3.6"/>
<circle cx="873.2" cy="1472.4" r="44.2" fill="#fff" stroke="#000" stroke-width="3.6"/>
<circle cx="737.4" cy="1605.6" r="63.9" fill="#fff" stroke="#000" stroke-width="3.7"/>
<circle cx="737.4" cy="1605.6" r="59.6" fill="#0ff"/>
<circle cx="731.6" cy="1605.2" r="44.1" fill="#fff" stroke="#000" stroke-width="3.6"/>
<circle cx="879" cy="1605.6" r="63.9" fill="#fff" stroke="#000" stroke-width="3.7"/>
<circle cx="879" cy="1605.6" r="59.6" fill="#0ff"/>
<circle cx="873.2" cy="1605.2" r="44.1" fill="#fff" stroke="#000" stroke-width="3.6"/>
<rect x="796.7" y="1267.4" width="22.9" height="45.1" fill="#000"/>
<rect x="800.2" y="1270.8" width="5.9" height="38.1" fill="#0ff"/>
<rect x="809.9" y="1270.8" width="6" height="38.1" fill="#0ff"/>
<circle cx="803.2" cy="1305.7" r="0.9" fill="#fff"/>
<circle cx="812.8" cy="1305.7" r="0.9" fill="#fff"/>
<rect x="796.7" y="1372.3" width="22.9" height="29.6" fill="#000"/>
<rect x="800.2" y="1375.6" width="5.9" height="22.9" fill="#0ff"/>
<rect x="809.9" y="1375.6" width="6" height="22.9" fill="#0ff"/>
<circle cx="803.2" cy="1379" r="0.9" fill="#fff"/>
<circle cx="812.8" cy="1379" r="0.9" fill="#fff"/>
<rect x="796.7" y="1415.2" width="22.9" height="29.6" fill="#000"/>
<rect x="800.2" y="1418.6" width="5.9" height="22.7" fill="#0ff"/>
<rect x="809.9" y="1418.6" width="6" height="22.7" fill="#0ff"/>
<circle cx="803.2" cy="1438.4" r="0.9" fill="#fff"/>
<circle cx="812.8" cy="1438.4" r="0.9" fill="#fff"/>
<path d="M802.3 1498.9 L813 1498.9 L821.6 1525 L793.5 1525Z" fill="#fff" stroke="#000" stroke-width="8.8" stroke-linejoin="round"/>
<path d="M802.3 1498.9 L813 1498.9 L821.6 1525 L793.5 1525Z" fill="none" stroke="#fff" stroke-width="1.1" stroke-linejoin="round"/>
<path d="M793.9 1548.3 L821.6 1548.3 L813.3 1574.1 L802.3 1574.1Z" fill="#fff" stroke="#000" stroke-width="8.8" stroke-linejoin="round"/>
<path d="M793.9 1548.3 L821.6 1548.3 L813.3 1574.1 L802.3 1574.1Z" fill="none" stroke="#fff" stroke-width="1.1" stroke-linejoin="round"/>
<circle cx="807.7" cy="1655" r="15.1" fill="#fff" stroke="#000" stroke-width="3.8"/>
<circle cx="807.7" cy="1655" r="11.3" fill="#0ff"/>
<rect x="763.1" y="1676" width="88.3" height="16.8" fill="#000"/>
<rect x="830.6" y="1672.6" width="12.2" height="23.3" fill="#000"/>
<rect x="766.5" y="1679.2" width="81.1" height="10" fill="#0ff"/>
<rect x="834.4" y="1676" width="5.1" height="16.8" fill="#0ff"/>
<rect x="834.4" y="1679.2" width="5.1" height="10" fill="#fff"/>
<circle cx="770" cy="1684" r="0.7" fill="#fff"/><circle cx="780.7" cy="1684" r="0.7" fill="#fff"/>
<text x="737.1" y="1277.7" font-size="15" font-weight="bold" fill="#0ff" text-anchor="middle">11</text>
<text x="878.5" y="1278.3" font-size="15" font-weight="bold" fill="#0ff" text-anchor="middle">12</text>
<text x="808" y="1325.5" font-size="15" font-weight="bold" fill="#0ff" text-anchor="middle">16</text>
<text x="807.4" y="1414.9" font-size="15" font-weight="bold" fill="#0ff" text-anchor="middle">17</text>
<text x="689.3" y="1423.4" font-size="15" font-weight="bold" fill="#0ff" text-anchor="middle">13</text>
<text x="925.6" y="1423.4" font-size="15" font-weight="bold" fill="#0ff" text-anchor="middle">13</text>
<text x="685.3" y="1554.3" font-size="15" font-weight="bold" fill="#0ff" text-anchor="middle">14</text>
<text x="926.6" y="1554.3" font-size="15" font-weight="bold" fill="#0ff" text-anchor="middle">14</text>
<text x="807.4" y="1542.4" font-size="15" font-weight="bold" fill="#0ff" text-anchor="middle">18</text>
<text x="807.4" y="1634.9" font-size="15" font-weight="bold" fill="#0ff" text-anchor="middle">8</text>
<text x="756.4" y="1690.5" font-size="15" font-weight="bold" fill="#0ff" text-anchor="middle">9</text>
<rect x="291.7" y="1272.9" width="152.6" height="400.7" fill="#0ff" stroke="#000" stroke-width="3.8"/>
<rect x="318.9" y="1279.8" width="2.2" height="393.8" fill="#fff"/>
<rect x="315" y="1675.2" width="10" height="4.6" fill="#000"/>
<rect x="318.7" y="1673.3" width="2.6" height="3.4" fill="#f22"/>
<rect x="341.3" y="1279.8" width="2.2" height="393.8" fill="#fff"/>
<rect x="337.4" y="1675.2" width="10" height="4.6" fill="#000"/>
<rect x="341.1" y="1673.3" width="2.6" height="3.4" fill="#f22"/>
<rect x="392.2" y="1279.8" width="2.2" height="393.8" fill="#fff"/>
<rect x="388.3" y="1675.2" width="10" height="4.6" fill="#000"/>
<rect x="392" y="1673.3" width="2.6" height="3.4" fill="#f22"/>
<rect x="414.6" y="1279.8" width="2.2" height="393.8" fill="#fff"/>
<rect x="410.7" y="1675.2" width="10" height="4.6" fill="#000"/>
<rect x="414.4" y="1673.3" width="2.6" height="3.4" fill="#f22"/>
<rect x="294.2" y="1279.8" width="2.6" height="391.9" fill="#f00"/>
<rect x="439.2" y="1279.8" width="2.6" height="391.9" fill="#f00"/>
<circle cx="368.1" cy="1476.4" r="2.9" fill="#000"/>
<rect x="514.3" y="1272.9" width="152.6" height="400.7" fill="#0ff" stroke="#000" stroke-width="3.8"/>
<rect x="541.5" y="1279.8" width="2.2" height="393.8" fill="#fff"/>
<rect x="537.6" y="1675.2" width="10" height="4.6" fill="#000"/>
<rect x="541.3" y="1673.3" width="2.6" height="3.4" fill="#f22"/>
<rect x="563.7" y="1279.8" width="2.2" height="393.8" fill="#fff"/>
<rect x="559.8" y="1675.2" width="10" height="4.6" fill="#000"/>
<rect x="563.5" y="1673.3" width="2.6" height="3.4" fill="#f22"/>
<rect x="614.9" y="1279.8" width="2.2" height="393.8" fill="#fff"/>
<rect x="611" y="1675.2" width="10" height="4.6" fill="#000"/>
<rect x="614.7" y="1673.3" width="2.6" height="3.4" fill="#f22"/>
<rect x="637" y="1279.8" width="2.2" height="393.8" fill="#fff"/>
<rect x="633.1" y="1675.2" width="10" height="4.6" fill="#000"/>
<rect x="636.8" y="1673.3" width="2.6" height="3.4" fill="#f22"/>
<rect x="516.8" y="1279.8" width="2.6" height="391.9" fill="#f00"/>
<rect x="661.8" y="1279.8" width="2.6" height="391.9" fill="#f00"/>
<circle cx="590.5" cy="1476.4" r="2.9" fill="#000"/>
<rect x="452.9" y="1272.9" width="53.3" height="400.7" fill="#0ff" stroke="#000" stroke-width="3.8"/>
<rect x="464.1" y="1271" width="3.8" height="404.5" fill="#000"/>
<rect x="477.6" y="1271" width="3.8" height="404.5" fill="#000"/>
<rect x="491.2" y="1271" width="3.8" height="404.5" fill="#000"/>
<text x="367.6" y="1688.5" font-size="15" font-weight="bold" fill="#0ff" text-anchor="middle">15</text>
<text x="479.5" y="1688.5" font-size="15" font-weight="bold" fill="#0ff" text-anchor="middle">10</text>
<text x="591" y="1688.5" font-size="15" font-weight="bold" fill="#0ff" text-anchor="middle">15</text>
<rect x="950.5" y="1266.8" width="75.7" height="93.5" fill="#fff" stroke="#000" stroke-width="3.4"/>
<rect x="986.1" y="1265.1" width="3.8" height="96.9" fill="#000"/>
<path d="M961.7 1276.7 V1299.6" stroke="#000" stroke-width="9" stroke-linecap="round"/>
<path d="M961.7 1276.7 V1299.6" stroke="#fff" stroke-width="2.6" stroke-linecap="round"/>
<path d="M961.7 1327.6 V1350.5" stroke="#000" stroke-width="9" stroke-linecap="round"/>
<path d="M961.7 1327.6 V1350.5" stroke="#fff" stroke-width="2.6" stroke-linecap="round"/>
<path d="M1014.5 1276.7 V1299.6" stroke="#000" stroke-width="9" stroke-linecap="round"/>
<path d="M1014.5 1276.7 V1299.6" stroke="#fff" stroke-width="2.6" stroke-linecap="round"/>
<path d="M1014.5 1327.6 V1350.5" stroke="#000" stroke-width="9" stroke-linecap="round"/>
<path d="M1014.5 1327.6 V1350.5" stroke="#fff" stroke-width="2.6" stroke-linecap="round"/>
<rect x="972.2" y="1268.5" width="2.6" height="90.1" fill="#0ff"/>
<rect x="1001.9" y="1268.5" width="2.6" height="90.1" fill="#0ff"/>
<rect x="1032.1" y="1266.8" width="44.5" height="93.5" fill="#fff" stroke="#000" stroke-width="3.4"/>
<rect x="1052.7" y="1265.1" width="3.5" height="96.9" fill="#000"/>
<rect x="950.5" y="1367.3" width="72.1" height="202" fill="#fff" stroke="#000" stroke-width="3.4"/>
<rect x="966.7" y="1365.6" width="3.4" height="205.4" fill="#000"/>
<rect x="984.9" y="1365.6" width="3.4" height="205.4" fill="#000"/>
<rect x="1002.9" y="1365.6" width="3.4" height="205.4" fill="#000"/>
<rect x="1030.9" y="1367.9" width="32.8" height="53.8" fill="#fff" stroke="#000" stroke-width="3.4"/>
<rect x="1045.5" y="1366.2" width="3.4" height="57.2" fill="#000"/>
<circle cx="1039.2" cy="1375.8" r="1.9" fill="#000"/>
<circle cx="1039.2" cy="1414.2" r="1.9" fill="#000"/>
<circle cx="1055.4" cy="1375.8" r="1.9" fill="#000"/>
<circle cx="1055.4" cy="1414.2" r="1.9" fill="#000"/>
<rect x="1033.1" y="1391" width="12.4" height="2.4" fill="#0ff"/>
<rect x="1048.9" y="1391" width="12.7" height="2.4" fill="#0ff"/>
<rect x="1033.1" y="1396.8" width="12.4" height="2.4" fill="#0ff"/>
<rect x="1048.9" y="1396.8" width="12.7" height="2.4" fill="#0ff"/>
<rect x="1037.3" y="1433.9" width="10.2" height="60" fill="#000"/>
<circle cx="1042.5" cy="1498.1" r="12.4" fill="#000"/>
<circle cx="1042.5" cy="1498.1" r="8.8" fill="#fff"/>
<rect x="1041.1" y="1436.8" width="2.9" height="54" fill="#fff"/>
<circle cx="1042.5" cy="1498.1" r="6.1" fill="#000"/>
<circle cx="1042.5" cy="1498.1" r="2.3" fill="#fff"/>
<rect x="1058.1" y="1450" width="9.8" height="60.7" fill="#000"/>
<circle cx="1062.9" cy="1446.2" r="12.4" fill="#000"/>
<circle cx="1062.9" cy="1446.2" r="8.8" fill="#fff"/>
<rect x="1061.5" y="1453" width="3.1" height="54.3" fill="#fff"/>
<circle cx="1062.9" cy="1446.2" r="6.1" fill="#000"/>
<circle cx="1062.9" cy="1446.2" r="2.3" fill="#fff"/>
<path d="M1027.1 1524.6 L1031.9 1516.5 L1071.8 1516.5 L1076.6 1524.6 L1071.8 1532.7 L1031.9 1532.7Z" fill="#000"/>
<path d="M1042 1524.6 L1039.2 1529.3 L1033.8 1529.3 L1031 1524.6 L1033.8 1519.9 L1039.2 1519.9Z" fill="#fff"/>
<path d="M1057 1524.6 L1054.3 1529.3 L1048.9 1529.3 L1046.1 1524.6 L1048.9 1519.9 L1054.3 1519.9Z" fill="#fff"/>
<path d="M1072.2 1524.6 L1069.5 1529.3 L1064.1 1529.3 L1061.3 1524.6 L1064.1 1519.9 L1069.5 1519.9Z" fill="#fff"/>
<path d="M1027.1 1544.2 L1031.9 1536.1 L1071.8 1536.1 L1076.6 1544.2 L1071.8 1552.3 L1031.9 1552.3Z" fill="#000"/>
<path d="M1042 1544.2 L1039.2 1548.9 L1033.8 1548.9 L1031 1544.2 L1033.8 1539.5 L1039.2 1539.5Z" fill="#fff"/>
<path d="M1057 1544.2 L1054.3 1548.9 L1048.9 1548.9 L1046.1 1544.2 L1048.9 1539.5 L1054.3 1539.5Z" fill="#fff"/>
<path d="M1072.2 1544.2 L1069.5 1548.9 L1064.1 1548.9 L1061.3 1544.2 L1064.1 1539.5 L1069.5 1539.5Z" fill="#fff"/>
<path d="M1027.1 1563.9 L1031.5 1556.4 L1065.2 1556.4 L1069.6 1563.9 L1065.2 1571.4 L1031.5 1571.4Z" fill="#000"/>
<path d="M1039.7 1563.9 L1037.6 1567.6 L1033.2 1567.6 L1031.1 1563.9 L1033.2 1560.2 L1037.6 1560.2Z" fill="#fff"/>
<circle cx="1035.4" cy="1563.9" r="2.3" fill="#000"/>
<path d="M1052.4 1563.9 L1050.2 1567.6 L1045.9 1567.6 L1043.8 1563.9 L1045.9 1560.2 L1050.2 1560.2Z" fill="#fff"/>
<circle cx="1048.1" cy="1563.9" r="2.3" fill="#000"/>
<path d="M1065.1 1563.9 L1063 1567.6 L1058.6 1567.6 L1056.5 1563.9 L1058.6 1560.2 L1063 1560.2Z" fill="#fff"/>
<circle cx="1060.8" cy="1563.9" r="2.3" fill="#000"/>
<text x="939.8" y="1280" font-size="15" font-weight="bold" fill="#0ff" text-anchor="middle">1</text>
<text x="1085.8" y="1304.9" font-size="15" font-weight="bold" fill="#0ff" text-anchor="middle">2</text>
<text x="942.9" y="1404.5" font-size="15" font-weight="bold" fill="#0ff" text-anchor="middle">3</text>
<text x="1072.4" y="1401.4" font-size="15" font-weight="bold" fill="#0ff" text-anchor="middle">4</text>
<text x="1053.3" y="1476.7" font-size="15" font-weight="bold" fill="#0ff" text-anchor="middle">5</text>
<text x="1078" y="1539.6" font-size="15" font-weight="bold" fill="#0ff" text-anchor="middle">6</text>
<text x="1074.2" y="1570" font-size="15" font-weight="bold" fill="#0ff" text-anchor="middle">7</text>
<text x="1020.3" y="1604.9" font-size="22.6" font-weight="bold" fill="#0ff" text-anchor="middle">БДШ-5</text>
<text x="1020" y="1627.8" font-size="19" font-weight="bold" fill="#0ff" text-anchor="middle">поздний тип</text>
<text x="1019.7" y="1649.1" font-size="18.8" font-weight="bold" fill="#0ff" text-anchor="middle">1/35</text>
<text x="970.5" y="1670" class="sf" font-weight="bold" font-size="24" textLength="109.5" lengthAdjust="spacingAndGlyphs" fill="#0ff">МД 035296</text>
<text x="962.5" y="1689.4" class="sf" font-weight="bold" font-size="19" textLength="120.3" lengthAdjust="spacingAndGlyphs" fill="#0ff">Микродизайн</text>
<path d="M934 1695 L943.5 1671 L947 1686 M939 1695 L946 1668.6 L951 1688 M948 1689 L950.6 1673 L954.5 1690 M936 1691 Q945 1688 955.9 1690.5 L952 1694 M941 1693 L945 1695.5" fill="none" stroke="#0ff" stroke-width="1"/>
</g>
<g id="sec_monument">
<path d="M913.9 2070.1 L924.6 2070.1 L928.4 2155.9 L913.9 2155.9Z" fill="none" stroke="#000" stroke-width="1.0" />
<path d="M913 2066.6 L925.5 2066.6" fill="none" stroke="#000" stroke-width="2.2" />
<path d="M913.4 2069 L925 2069" fill="none" stroke="#000" stroke-width="1.2" />
<path d="M914.5 2064.1 C913.2 2063.6 914.1 2060.8 913.4 2060.2 C912.7 2059.6 909.2 2059.5 908.5 2059.1 C907.8 2058.7 907.3 2057 907.4 2056.5 C907.5 2056 908.5 2054.9 909.7 2054.6 C910.9 2054.3 915.9 2054.1 918 2054.1 C920.1 2054.1 926.4 2054.2 927.9 2054.4 C929.4 2054.6 930.4 2055.5 930.6 2056 C930.8 2056.5 930.2 2058.4 929.6 2058.9 C929 2059.4 926.1 2059.3 925.5 2059.9 C924.9 2060.5 925.5 2063.6 924.2 2064.1 C922.9 2064.6 915.8 2064.6 914.5 2064.1Z" fill="none" stroke="#000" stroke-width="1.0" />
<path d="M904.3 2053.3 C905.5 2053.1 908.8 2052.2 911.4 2051.9 C914 2051.6 917 2051.3 919.7 2051.3 C922.5 2051.3 925.7 2051.7 927.9 2051.9 C930.1 2052.1 932.1 2052.6 932.9 2052.7" fill="none" stroke="#000" stroke-width="1.8" />
<path d="M904.7 2053.8 C906.1 2053.6 910.5 2052.9 913 2052.7 C915.5 2052.5 917.5 2052.5 919.7 2052.5 C921.9 2052.5 924.2 2052.6 926.3 2052.7 C928.4 2052.8 931.5 2053.2 932.5 2053.3" fill="none" stroke="#000" stroke-width="1.0" />
<path d="M909.7 2049.8 C910.5 2049.2 913.3 2047.7 914.7 2046.5 C916.1 2045.3 917.2 2043.6 918 2042.4 C918.8 2041.2 918.9 2040.2 919.7 2039.1 C920.5 2038 921.5 2036.8 923 2035.7 C924.5 2034.6 926.9 2033.2 928.8 2032.4 C930.7 2031.7 932.8 2031.3 934.6 2031.2 C936.4 2031.1 939.1 2031.2 939.5 2031.6 C939.9 2032 938.5 2033 937.1 2033.7 C935.7 2034.4 933.1 2035.1 931.3 2035.7 C929.5 2036.3 927.7 2037.1 926.3 2037.4 C924.9 2037.8 923.5 2037.7 923 2037.8" fill="none" stroke="#000" stroke-width="1.0" />
<path d="M919.7 2039.1 C919.1 2038.6 917.7 2036.9 916.3 2036.2 C914.9 2035.5 912.7 2034.8 911.4 2034.9 C910.1 2035 908.8 2036.4 908.5 2037 C908.2 2037.6 909 2038.2 909.7 2038.6 C910.5 2038.9 912.2 2038.7 913 2039.1 C913.8 2039.5 914.7 2040.5 914.7 2041.1 C914.7 2041.6 913.3 2042.2 913 2042.4" fill="none" stroke="#000" stroke-width="1.0" />
<path d="M923 2037.8 C923.5 2038.1 925.3 2038.6 926.3 2039.5 C927.3 2040.4 928.8 2041.9 929.2 2043.2 C929.6 2044.5 929.3 2046.3 928.8 2047.3 C928.3 2048.3 927.1 2048.8 926.3 2049 C925.5 2049.2 923.9 2048.9 923.8 2048.2 C923.7 2047.5 925.4 2046.1 925.5 2044.9 C925.6 2043.7 924.9 2041.9 924.2 2041.1 C923.5 2040.3 922 2040.1 921.3 2040.3 C920.5 2040.5 919.7 2041.5 919.7 2042.4 C919.7 2043.3 921.6 2044.9 921.3 2045.7 C921 2046.5 919.2 2046.8 918 2047.3 C916.8 2047.8 914.6 2048.4 913.9 2048.6" fill="none" stroke="#000" stroke-width="1.0" />
<path d="M911.4 2050.7 C912.5 2050.3 915.8 2048.9 918 2048.6 C920.2 2048.2 922.5 2048.3 924.6 2048.6 C926.7 2048.9 929.4 2049.9 930.4 2050.2" fill="none" stroke="#000" stroke-width="1.4" />
<path d="M912.6 2159.4 L930 2159.4" fill="none" stroke="#000" stroke-width="1.6" />
<path d="M910.7 2161.8 L932.7 2161.8" fill="none" stroke="#000" stroke-width="2.2" />
<path d="M909 2164.3 L934.3 2164.3" fill="none" stroke="#000" stroke-width="2.4" />
<path d="M906.6 2170.8 L933.8 2170.8 L938.6 2176.2 L902.3 2176.2Z" fill="none" stroke="#000" stroke-width="1.0" />
<path d="M920.1 2170.8 L920.5 2176.2" fill="none" stroke="#000" stroke-width="1.0" />
<path d="M900.8 2177.6 L939.2 2177.6" fill="none" stroke="#000" stroke-width="2.2" />
<path d="M901.7 2180.3 L938.3 2180.3" fill="none" stroke="#000" stroke-width="1.2" />
<path d="M904.8 2181.2 L936.5 2181.2 L936.5 2211.5 L904.8 2211.5Z" fill="none" stroke="#000" stroke-width="1.6" />
<path d="M908.9 2183.3 L917.8 2183.3 L917.8 2189.2 L908.9 2189.2Z" fill="none" stroke="#000" stroke-width="1.0" />
<path d="M908.9 2191.9 L917.8 2191.9 L917.8 2198.6 L908.9 2198.6Z" fill="none" stroke="#000" stroke-width="1.0" />
<path d="M908.9 2201.1 L917.8 2201.1 L917.8 2208.8 L908.9 2208.8Z" fill="none" stroke="#000" stroke-width="1.0" />
<path d="M922.2 2183.3 L933.8 2183.3 L933.8 2189.2 L922.2 2189.2Z" fill="none" stroke="#000" stroke-width="1.0" />
<path d="M922.2 2191.9 L933.8 2191.9 L933.8 2198.6 L922.2 2198.6Z" fill="none" stroke="#000" stroke-width="1.0" />
<path d="M922.2 2201.1 L933.8 2201.1 L933.8 2208.8 L922.2 2208.8Z" fill="none" stroke="#000" stroke-width="1.0" />
<path d="M902.6 2212.9 L938.3 2212.9" fill="none" stroke="#000" stroke-width="2.4" />
<path d="M898.2 2215.4 L938.3 2215.4" fill="none" stroke="#000" stroke-width="1.2" />
<path d="M902.6 2215 L897.3 2221.3M900.8 2215 L892.8 2218.6" fill="none" stroke="#000" stroke-width="1.0" />
<path d="M897.3 2221.8 L904.8 2221.8 L904.8 2229.3 L897.3 2229.3Z" fill="none" stroke="#000" stroke-width="1.0" />
<path d="M908.9 2221.8 L916.4 2221.8 L916.4 2229.3 L908.9 2229.3Z" fill="none" stroke="#000" stroke-width="1.0" />
<path d="M920.5 2221.8 L927.9 2221.8 L927.9 2229.3 L920.5 2229.3Z" fill="none" stroke="#000" stroke-width="1.0" />
<path d="M932.6 2221.8 L940.1 2221.8 L940.1 2229.3 L932.6 2229.3Z" fill="none" stroke="#000" stroke-width="1.0" />
<path d="M891 2221.3 L893.7 2221.3 L893.7 2229.6 L891 2229.6Z" fill="#888" stroke="#000" stroke-width="0.8" />
<path d="M900.8 2216.8 L908 2216.8 L908 2218.9 L900.8 2218.9Z" fill="none" stroke="#000" stroke-width="0.8" />
<path d="M909.8 2216.8 L916.9 2216.8 L916.9 2218.9 L909.8 2218.9Z" fill="none" stroke="#000" stroke-width="0.8" />
<path d="M918.7 2216.8 L938.3 2216.8 L938.3 2218.9 L918.7 2218.9Z" fill="none" stroke="#000" stroke-width="0.8" />
<path d="M946.7 2176.4 L946.4 2186.8 L943.9 2188.6 L942.3 2183.2 L942.2 2173.2 L945 2172Z" fill="none" stroke="#000" stroke-width="1.0" stroke-linejoin="round"/>
<path d="M953.3 2175.2 L953.3 2184.8 L950.4 2185.3 L949.3 2175.1 L951.1 2169.2Z" fill="none" stroke="#000" stroke-width="1.0" stroke-linejoin="round"/>
<path d="M940.5 2192.6 L942.5 2190.7 L945 2190.1 L945.3 2196.4 L943.1 2198.7 L940.3 2197Z" fill="none" stroke="#000" stroke-width="1.0" stroke-linejoin="round"/>
<path d="M950.6 2211.7 L949.6 2201.1 L949.5 2192.6 L953.1 2192.7 L955.5 2199.1 L955.6 2207.3 L953.6 2213.7Z" fill="none" stroke="#000" stroke-width="1.0" stroke-linejoin="round"/>
<path d="M968.6 2209.7 L966 2213.4 L962.4 2213.2 L959.9 2208.7 L959.6 2203.5 L965.2 2202.9 L967.8 2205.1Z" fill="none" stroke="#000" stroke-width="1.0" stroke-linejoin="round"/>
<path d="M945.7 2216.7 L948.2 2217.1 L950.1 2220.3 L949.6 2223.4 L946.6 2223.3 L944.2 2220.3Z" fill="none" stroke="#000" stroke-width="1.0" stroke-linejoin="round"/>
<path d="M954.6 2222.7 L954.7 2219.2 L957.9 2215.9 L963 2216.3 L963.5 2223.5 L958.9 2225.2Z" fill="none" stroke="#000" stroke-width="1.0" stroke-linejoin="round"/>
<path d="M973.5 2223.6 L969.4 2223.8 L967.3 2221.4 L967.1 2219.2 L971.6 2218.7 L973.9 2221.6Z" fill="none" stroke="#000" stroke-width="1.0" stroke-linejoin="round"/>
<path d="M955.9 2240 L957.8 2229.8 L962 2230.2 L962.9 2242.3 L960.1 2249.5Z" fill="none" stroke="#000" stroke-width="1.0" stroke-linejoin="round"/>
<path d="M971.8 2245.2 L969.7 2245.5 L967.1 2242 L966.7 2232.6 L969.8 2227.4 L972.2 2226.8 L972.5 2236.9Z" fill="none" stroke="#000" stroke-width="1.0" stroke-linejoin="round"/>
<path d="M982.6 2230.3 L982.2 2238.9 L978.5 2242 L975.4 2234.7 L974.6 2228.9 L978 2220.5 L981.3 2220.9Z" fill="none" stroke="#000" stroke-width="1.0" stroke-linejoin="round"/>
<path d="M973.9 2260.8 L973.3 2267.7 L966.3 2268.6 L961.4 2261.5 L962.7 2253.6 L971.7 2252Z" fill="none" stroke="#000" stroke-width="1.0" stroke-linejoin="round"/>
<path d="M985.8 2248.9 L987.9 2255.7 L987.1 2266.7 L982.3 2267.3 L977.6 2261.6 L980.4 2249.7Z" fill="none" stroke="#000" stroke-width="1.0" stroke-linejoin="round"/>
<path d="M958 2259.8 L958 2269.8 L956.1 2273.5 L954.3 2264.1 L954.4 2253.4 L957 2254.3Z" fill="none" stroke="#000" stroke-width="1.0" stroke-linejoin="round"/>
<path d="M883 2235.3 L882.4 2240.4 L876.3 2241.3 L873.8 2236.3 L877.3 2233.3Z" fill="none" stroke="#000" stroke-width="1.0" stroke-linejoin="round"/>
<path d="M891.6 2233.3 L897.5 2233.4 L895.6 2237.8 L889.4 2238.4 L888.8 2235Z" fill="none" stroke="#000" stroke-width="1.0" stroke-linejoin="round"/>
<path d="M916.8 2239.7 L914.5 2241.8 L905.8 2241.9 L902.4 2239 L905.3 2236.5 L915.3 2236.1Z" fill="none" stroke="#000" stroke-width="1.0" stroke-linejoin="round"/>
<path d="M871.4 2250.4 L869 2249.3 L868.9 2247.8 L872.1 2247.3 L873.9 2248.5 L873.9 2250Z" fill="none" stroke="#000" stroke-width="1.0" stroke-linejoin="round"/>
<path d="M884.6 2246.9 L884.1 2255.1 L880.5 2257.6 L876.7 2253.5 L878.6 2245.7Z" fill="none" stroke="#000" stroke-width="1.0" stroke-linejoin="round"/>
<path d="M894.7 2243.8 L900.1 2245.4 L900.5 2250.7 L895.9 2252.5 L888.9 2251.5 L888.8 2247.8 L889.6 2243.6Z" fill="none" stroke="#000" stroke-width="1.0" stroke-linejoin="round"/>
<path d="M904.7 2250 L905.1 2244 L912.5 2243.2 L915.3 2250 L914.7 2254.3 L910.8 2258.9 L905.9 2259.4Z" fill="none" stroke="#000" stroke-width="1.0" stroke-linejoin="round"/>
<path d="M924.4 2256.8 L922.4 2258.5 L920.5 2259.3 L920.4 2253.7 L921.6 2246.3 L923.3 2246 L924.5 2248.9Z" fill="none" stroke="#000" stroke-width="1.0" stroke-linejoin="round"/>
<path d="M938.1 2250.4 L932.7 2249.9 L929.4 2246 L929.6 2240.4 L936.9 2241 L939.9 2244.7Z" fill="none" stroke="#000" stroke-width="1.0" stroke-linejoin="round"/>
<path d="M949.7 2245.4 L939.5 2245.2 L935.3 2240.2 L940.6 2233.7 L952.8 2237.4Z" fill="none" stroke="#000" stroke-width="1.0" stroke-linejoin="round"/>
<path d="M933.5 2272.9 L934 2260.8 L940.9 2254.1 L952.9 2254.6 L950.7 2269.2 L945.2 2276Z" fill="none" stroke="#000" stroke-width="1.0" stroke-linejoin="round"/>
<path d="M865 2258.9 L863 2259.5 L860.2 2258.5 L860 2257.4 L862 2256.3 L864.7 2256.4Z" fill="none" stroke="#000" stroke-width="1.0" stroke-linejoin="round"/>
<path d="M873.8 2263 L873.7 2267.5 L867.9 2269.6 L863.1 2266.6 L864.4 2263.2 L869.3 2259.3Z" fill="none" stroke="#000" stroke-width="1.0" stroke-linejoin="round"/>
<path d="M884.2 2266.7 L877.8 2265.9 L877.4 2263.4 L882.5 2261.7 L885.5 2261.7 L890.4 2262.9 L889.2 2266.2Z" fill="none" stroke="#000" stroke-width="1.0" stroke-linejoin="round"/>
<path d="M911.8 2265 L910.7 2266.8 L902.7 2266.4 L898 2265 L899 2263.1 L909.2 2263.2Z" fill="none" stroke="#000" stroke-width="1.0" stroke-linejoin="round"/>
<path d="M918.8 2267 L918.9 2263 L922.5 2263.9 L922.7 2266.5 L920.7 2268.2Z" fill="none" stroke="#000" stroke-width="1.0" stroke-linejoin="round"/>
<path d="M852.9 2273.4 L849.8 2269.3 L854.7 2267.3 L859 2269.5 L858.4 2273.5Z" fill="none" stroke="#000" stroke-width="1.0" stroke-linejoin="round"/>
<path d="M845.1 2280.2 L843.4 2279.1 L844 2277.4 L846.7 2277.6 L847.8 2278.4 L847.7 2280Z" fill="none" stroke="#000" stroke-width="1.0" stroke-linejoin="round"/>
<path d="M860 2279.6 L855.5 2281 L850 2279.9 L849.5 2277.6 L854 2275.6 L859.6 2276.5Z" fill="none" stroke="#000" stroke-width="1.0" stroke-linejoin="round"/>
<path d="M873.9 2280.3 L866.5 2282.4 L862.7 2281 L862 2278.2 L867.2 2276.1 L873 2277.5Z" fill="none" stroke="#000" stroke-width="1.0" stroke-linejoin="round"/>
<path d="M883 2272.1 L895.2 2272.9 L899 2277.7 L891.8 2281 L883.5 2276.6Z" fill="none" stroke="#000" stroke-width="1.0" stroke-linejoin="round"/>
<path d="M912.7 2278.5 L910.3 2279.1 L904.8 2279.1 L902.8 2276.7 L904.9 2274 L908.3 2274 L913.6 2275.3Z" fill="none" stroke="#000" stroke-width="1.0" stroke-linejoin="round"/>
<path d="M922.3 2270.6 L928.1 2271 L927.7 2274.4 L921.5 2275.3 L918.4 2272.4Z" fill="none" stroke="#000" stroke-width="1.0" stroke-linejoin="round"/>
<path d="M924.6 2289.6 L916.4 2284.6 L921 2280.8 L931.5 2283.5 L932.9 2287.1Z" fill="none" stroke="#000" stroke-width="1.0" stroke-linejoin="round"/>
<path d="M956.3 2284.8 L956.4 2291.5 L944.6 2291.1 L938.9 2287.7 L940 2285.2 L949 2283.1Z" fill="none" stroke="#000" stroke-width="1.0" stroke-linejoin="round"/>
<path d="M965.6 2277.9 L972.3 2278 L973.2 2284.2 L968.3 2288.4 L961.4 2287.1 L960.6 2280.2Z" fill="none" stroke="#000" stroke-width="1.0" stroke-linejoin="round"/>
<path d="M972.4 2275.4 L972.6 2272 L978.2 2270.9 L983 2273 L980.3 2277.6Z" fill="none" stroke="#000" stroke-width="1.0" stroke-linejoin="round"/>
<path d="M996.6 2274.9 L995.6 2279.2 L991.5 2278.6 L988.6 2275.8 L990.2 2272.3 L993.4 2272.7Z" fill="none" stroke="#000" stroke-width="1.0" stroke-linejoin="round"/>
<path d="M981.2 2287 L981.9 2284.8 L986 2283.3 L989.5 2283.2 L990 2286.5 L986.7 2289.5 L983.7 2289.5Z" fill="none" stroke="#000" stroke-width="1.0" stroke-linejoin="round"/>
<path d="M1001.4 2292.9 L997.7 2293.5 L993.9 2292 L993.5 2289.1 L996.2 2286.5 L999.6 2286.9 L1002 2289.5Z" fill="none" stroke="#000" stroke-width="1.0" stroke-linejoin="round"/>
<path d="M837.2 2288.2 L833.5 2285.7 L833.4 2282.6 L837.5 2281.4 L841.5 2282 L841.1 2287.6Z" fill="none" stroke="#000" stroke-width="1.0" stroke-linejoin="round"/>
<path d="M842.5 2295 L837.9 2295 L833.9 2294.3 L834.9 2290.3 L838.5 2289.9 L843.2 2291.7Z" fill="none" stroke="#000" stroke-width="1.0" stroke-linejoin="round"/>
<path d="M863.7 2293.2 L860.4 2299 L853.2 2298.1 L850.2 2296.9 L849.3 2290.9 L856.3 2288.2 L862.9 2288.1Z" fill="none" stroke="#000" stroke-width="1.0" stroke-linejoin="round"/>
<path d="M878.6 2298.4 L876.4 2300.3 L872.4 2300.5 L870.7 2292.4 L872.3 2288.6 L876.7 2289.2 L879.7 2291.1Z" fill="none" stroke="#000" stroke-width="1.0" stroke-linejoin="round"/>
<path d="M885.1 2302.1 L884.9 2295.6 L890.6 2289.6 L901.1 2291.4 L899.7 2298 L895.2 2302.7Z" fill="none" stroke="#000" stroke-width="1.0" stroke-linejoin="round"/>
<path d="M922.5 2298.1 L916.5 2301.5 L910.8 2301.9 L910.2 2295.6 L915.5 2291.7 L921.7 2292.3Z" fill="none" stroke="#000" stroke-width="1.0" stroke-linejoin="round"/>
<path d="M935.1 2293.7 L938.6 2296.4 L935.4 2300.7 L928.3 2300.1 L928.2 2294.2Z" fill="none" stroke="#000" stroke-width="1.0" stroke-linejoin="round"/>
<path d="M945.4 2293.8 L952.1 2294.3 L958.2 2294.7 L956.6 2298 L953.4 2302 L946.9 2301.7 L943.7 2299Z" fill="none" stroke="#000" stroke-width="1.0" stroke-linejoin="round"/>
<path d="M965.7 2293.4 L968.4 2294.1 L968.9 2297.5 L966.5 2298.1 L961.8 2297.5 L962 2295.1Z" fill="none" stroke="#000" stroke-width="1.0" stroke-linejoin="round"/>
<path d="M985.9 2295.4 L977.9 2296.9 L974.5 2294.8 L978.4 2292.8 L985.4 2293.5Z" fill="none" stroke="#000" stroke-width="1.0" stroke-linejoin="round"/>
<path d="M992.5 2298.6 L991 2298.8 L990 2296.9 L990.1 2294.9 L992.1 2294.6 L993.9 2295.1 L993.6 2296.8Z" fill="none" stroke="#000" stroke-width="1.0" stroke-linejoin="round"/>
<path d="M945 2165.5 L944.9 2168.6 L941.2 2168.7 L938.7 2167.1 L939.5 2165.1Z" fill="none" stroke="#000" stroke-width="1.0" stroke-linejoin="round"/>
<path d="M947 2206.2 L944.3 2211.7 L942.2 2208.9 L942 2201.5 L946.4 2201.5Z" fill="none" stroke="#000" stroke-width="1.0" stroke-linejoin="round"/>
<path d="M897.8 2206.3 L898.7 2210 L898.3 2215.1 L894.7 2214.4 L892.4 2210.3 L892.6 2207.1Z" fill="none" stroke="#000" stroke-width="1.0" stroke-linejoin="round"/>
<path d="M899.5 2204.6 L896.9 2205.1 L894.9 2201.9 L896.6 2197 L898.6 2197.8 L901 2201Z" fill="none" stroke="#000" stroke-width="1.0" stroke-linejoin="round"/>
<path d="M966.1 2240.1 L966.8 2240.3 L966.8 2245 L966 2247.1 L965.1 2246.1 L965.2 2242.3Z" fill="none" stroke="#000" stroke-width="1.0" stroke-linejoin="round"/>
<path d="M953.4 2171.3 C953.9 2174.1 954.5 2183.7 956.1 2188.3 C957.7 2192.9 961 2195.1 963.2 2199 C965.4 2202.9 967.7 2208.5 969.5 2211.5 C971.3 2214.5 973.2 2215.9 973.9 2216.8" fill="none" stroke="#000" stroke-width="1.0" />
<path d="M978.4 2217.7 C979 2220.2 980.7 2228 982 2232.9 C983.3 2237.8 985.1 2241.5 986.4 2247.1 C987.7 2252.7 989.4 2263.4 990 2266.7" fill="none" stroke="#000" stroke-width="1.0" />
</g>
<g id="sec_p1">
<rect x="1256.6" y="54.2" width="1066" height="708.4" rx="26" ry="26" fill="#fff" stroke="#333" stroke-width="1.4"/>
<ellipse cx="1379.3" cy="261.7" rx="92.8" ry="80.8" fill="#ff0" stroke="#000" stroke-width="0.8" transform="rotate(-55 1379.3 261.7)"/>
<ellipse cx="1378.5" cy="261.1" rx="88.9" ry="77.2" fill="none" stroke="#000" stroke-width="0.8" transform="rotate(-55 1378.5 261.1)"/>
<ellipse cx="1373.8" cy="256.3" rx="71.5" ry="62.1" fill="#ff0" stroke="#000" stroke-width="0.8" transform="rotate(-55 1373.8 256.3)"/>
<ellipse cx="1373.7" cy="256.2" rx="65.8" ry="56.3" fill="#fff" stroke="#000" stroke-width="0.8" transform="rotate(-55 1373.7 256.2)"/>
<ellipse cx="1432.2" cy="291.8" rx="87.7" ry="78.3" fill="#ff0" stroke="#000" stroke-width="0.8" transform="rotate(-55 1432.2 291.8)"/>
<ellipse cx="1426.9" cy="286.6" rx="68.6" ry="59.6" fill="#ff0" stroke="#000" stroke-width="0.8" transform="rotate(-55 1426.9 286.6)"/>
<ellipse cx="1426.8" cy="286.5" rx="63.1" ry="54.1" fill="#fff" stroke="#000" stroke-width="0.8" transform="rotate(-55 1426.8 286.5)"/>
<ellipse cx="1490" cy="324.3" rx="87.9" ry="77.4" fill="#ff0" stroke="#000" stroke-width="0.8" transform="rotate(-55 1490 324.3)"/>
<ellipse cx="1485" cy="319.2" rx="67.9" ry="60" fill="none" stroke="#000" stroke-width="0.8" transform="rotate(-55 1485 319.2)"/>
<circle cx="1489.7" cy="324.4" r="5.2" fill="#ff0" stroke="#000" stroke-width="0.8"/>
<ellipse cx="1910.7" cy="546.5" rx="88.3" ry="76.9" fill="#ff0" stroke="#000" stroke-width="0.8" transform="rotate(-55 1910.7 546.5)"/>
<ellipse cx="1906" cy="542" rx="67.8" ry="60.5" fill="none" stroke="#000" stroke-width="0.8" transform="rotate(-55 1906 542)"/>
<ellipse cx="1863.9" cy="537.2" rx="6.6" ry="7.4" fill="#ff0" stroke="#000" stroke-width="0.8" transform="rotate(-20 1863.9 537.2)"/>
<ellipse cx="1910.4" cy="547.4" rx="4.6" ry="5.6" fill="#ff0" stroke="#000" stroke-width="0.8" transform="rotate(-20 1910.4 547.4)"/>
<ellipse cx="1874.5" cy="584" rx="9.6" ry="10.6" fill="#ff0" stroke="#000" stroke-width="0.8" transform="rotate(-20 1874.5 584)"/>
<path d="M1881.5 591.5 l3.5 1.2 l1.5 -3.2" fill="#ff0" stroke="#000" stroke-width="0.8"/>
<ellipse cx="2059" cy="611" rx="87.7" ry="78.3" fill="#ff0" stroke="#000" stroke-width="0.8" transform="rotate(-55 2059 611)"/>
<ellipse cx="2053.7" cy="605.8" rx="68.6" ry="59.6" fill="#ff0" stroke="#000" stroke-width="0.8" transform="rotate(-55 2053.7 605.8)"/>
<ellipse cx="2053.6" cy="605.7" rx="63.1" ry="54.1" fill="#fff" stroke="#000" stroke-width="0.8" transform="rotate(-55 2053.6 605.7)"/>
<ellipse cx="2219.2" cy="665.1" rx="92.8" ry="80.8" fill="#ff0" stroke="#000" stroke-width="0.8" transform="rotate(-55 2219.2 665.1)"/>
<ellipse cx="2218.4" cy="664.5" rx="88.9" ry="77.2" fill="none" stroke="#000" stroke-width="0.8" transform="rotate(-55 2218.4 664.5)"/>
<ellipse cx="2213.7" cy="659.7" rx="71.5" ry="62.1" fill="#ff0" stroke="#000" stroke-width="0.8" transform="rotate(-55 2213.7 659.7)"/>
<ellipse cx="2213.6" cy="659.6" rx="65.8" ry="56.3" fill="#fff" stroke="#000" stroke-width="0.8" transform="rotate(-55 2213.6 659.6)"/>
<path d="M1710.5 265.9 L1705.3 263.4 L1699.6 261.8 L1693.7 260.9 L1687.5 260.8 L1681 261.5 L1674.4 263.1 L1667.5 265.4 L1660.6 268.5 L1653.5 272.3 L1646.5 276.9 L1639.4 282.2 L1632.3 288.2 L1625.4 294.8 L1618.6 302 L1612 309.7 L1605.6 318 L1599.4 326.7 L1593.6 335.7 L1588.1 345.2 L1582.9 354.9 L1578.1 364.8 L1573.8 374.9 L1569.9 385.2 L1566.5 395.4 L1563.6 405.6 L1561.2 415.7 L1559.4 425.7 L1558.1 435.5 L1557.3 445 L1557.1 454.1 L1557.4 462.9 L1558.3 471.2 L1559.8 479.1 L1561.8 486.4 L1564.3 493.1 L1567.3 499.2 L1570.8 504.6 L1574.8 509.3 L1579.2 513.3 L1584.1 516.5 L1793.1 634.5 L1787.5 630.8 L1782.3 626.4 L1777.6 621.3 L1773.3 615.5 L1769.6 609 L1766.4 601.9 L1763.7 594.2 L1761.6 586 L1760.1 577.4 L1759.2 568.3 L1758.9 558.8 L1759.2 549.1 L1760.1 539.1 L1761.6 528.9 L1763.7 518.6 L1766.3 508.2 L1769.5 497.9 L1773.3 487.6 L1777.5 477.4 L1782.2 467.5 L1787.4 457.8 L1793 448.4 L1799 439.4 L1805.4 430.8 L1812.1 422.7 L1819 415.1 L1826.2 408.1 L1833.5 401.8 L1841 396.1 L1848.6 391.1 L1856.3 386.8 L1863.9 383.3 L1871.5 380.6 L1879 378.6 L1886.3 377.5 L1893.5 377.1 L1900.5 377.6 L1907.1 378.9 L1913.5 381 L1919.5 383.9Z" fill="#ff0" stroke="#000" stroke-width="0.9" />
<path d="M1919.5 383.9 C1920.8 385.7 1925.2 389.2 1927.5 394.9 C1929.8 400.6 1931.4 410.9 1933 418 C1934.6 425.1 1936.3 434.4 1937 437.7 L1848.7 391.1 L1856.3 386.8 L1863.9 383.3 L1871.5 380.5 L1879 378.6 L1886.4 377.5 L1893.5 377.1 L1900.5 377.6 L1907.1 378.9 L1913.5 381 L1919.5 383.9Z" fill="#ff0" stroke="#000" stroke-width="0.9" />
<path d="M1717.8 270 L1711.9 267.3 L1705.6 265.6 L1698.9 264.9 L1691.9 265.1 L1684.5 266.3 L1677 268.6 L1669.3 271.8 L1661.4 275.9 L1653.5 280.9 L1645.6 286.8 L1637.8 293.6 L1630.2 301.1 L1622.7 309.3 L1615.4 318.2 L1608.4 327.7 L1601.8 337.6 L1595.6 348.1 L1589.9 358.8 L1584.6 369.9 L1579.9 381.2 L1575.7 392.5 L1572.2 403.9 L1569.2 415.2 L1567 426.4 L1565.3 437.3 L1564.4 447.9 L1564.1 458.1 L1564.6 467.9 L1565.7 477 L1567.5 485.6 L1570 493.5 L1573.1 500.6 L1576.8 506.9 L1581.1 512.4 L1586 517 L1591.4 520.6" fill="none" stroke="#000" stroke-width="0.8" />
<path d="M1719.9 271.2 L1714 268.5 L1707.7 266.8 L1701 266 L1693.9 266.3 L1686.6 267.5 L1679 269.7 L1671.3 272.9 L1663.4 277 L1655.5 282.1 L1647.7 288 L1639.8 294.7 L1632.2 302.2 L1624.7 310.4 L1617.4 319.3 L1610.4 328.8 L1603.8 338.8 L1597.6 349.2 L1591.9 360 L1586.6 371 L1581.9 382.3 L1577.7 393.6 L1574.2 405 L1571.2 416.3 L1569 427.5 L1567.3 438.4 L1566.4 449.1 L1566.2 459.3 L1566.6 469 L1567.7 478.2 L1569.6 486.8 L1572 494.6 L1575.1 501.8 L1578.9 508.1 L1583.2 513.6 L1588.1 518.1 L1593.5 521.8" fill="none" stroke="#000" stroke-width="0.8" />
<path d="M1726.2 274.8 L1720.3 272 L1713.9 270.3 L1707.2 269.5 L1700.1 269.8 L1692.7 271 L1685.1 273.2 L1677.4 276.4 L1669.5 280.5 L1661.6 285.5 L1653.7 291.4 L1645.9 298.1 L1638.2 305.6 L1630.7 313.8 L1623.4 322.7 L1616.4 332.2 L1609.8 342.1 L1603.6 352.6 L1597.9 363.3 L1592.6 374.4 L1587.9 385.7 L1583.7 397 L1580.2 408.4 L1577.2 419.7 L1575 430.9 L1573.4 441.8 L1572.5 452.5 L1572.2 462.7 L1572.7 472.4 L1573.9 481.6 L1575.7 490.2 L1578.2 498.1 L1581.3 505.2 L1585.1 511.6 L1589.4 517.1 L1594.3 521.7 L1599.8 525.4" fill="none" stroke="#000" stroke-width="0.8" />
<path d="M1735.6 280.1 L1729.6 277.3 L1723.2 275.5 L1716.5 274.8 L1709.3 275 L1702 276.2 L1694.3 278.4 L1686.5 281.5 L1678.7 285.6 L1670.7 290.6 L1662.8 296.5 L1654.9 303.2 L1647.2 310.7 L1639.7 318.9 L1632.4 327.8 L1625.4 337.2 L1618.8 347.2 L1612.6 357.6 L1606.8 368.4 L1601.6 379.5 L1596.8 390.7 L1592.7 402.1 L1589.2 413.5 L1586.3 424.8 L1584 436 L1582.4 447 L1581.5 457.6 L1581.3 467.8 L1581.8 477.6 L1583 486.8 L1584.9 495.4 L1587.4 503.3 L1590.6 510.5 L1594.4 516.8 L1598.8 522.3 L1603.7 527 L1609.2 530.7" fill="none" stroke="#000" stroke-width="0.8" />
<path d="M1737.7 281.2 L1731.7 278.5 L1725.3 276.7 L1718.5 275.9 L1711.4 276.1 L1704 277.3 L1696.4 279.5 L1688.6 282.7 L1680.7 286.8 L1672.7 291.8 L1664.8 297.6 L1656.9 304.4 L1649.2 311.8 L1641.7 320 L1634.4 328.9 L1627.4 338.4 L1620.8 348.3 L1614.6 358.8 L1608.8 369.5 L1603.6 380.6 L1598.8 391.9 L1594.7 403.2 L1591.2 414.6 L1588.3 426 L1586 437.1 L1584.4 448.1 L1583.6 458.7 L1583.4 469 L1583.9 478.7 L1585 488 L1586.9 496.5 L1589.4 504.5 L1592.6 511.6 L1596.4 518 L1600.8 523.5 L1605.8 528.1 L1611.3 531.8" fill="none" stroke="#000" stroke-width="0.8" />
<path d="M1745 285.4 L1739 282.6 L1732.6 280.8 L1725.8 280 L1718.6 280.2 L1711.2 281.4 L1703.5 283.6 L1695.7 286.7 L1687.8 290.8 L1679.8 295.8 L1671.9 301.6 L1664 308.3 L1656.2 315.8 L1648.7 324 L1641.4 332.9 L1634.4 342.3 L1627.8 352.3 L1621.6 362.7 L1615.8 373.5 L1610.5 384.5 L1605.8 395.8 L1601.7 407.2 L1598.2 418.6 L1595.3 429.9 L1593 441.1 L1591.5 452.1 L1590.6 462.7 L1590.4 473 L1591 482.7 L1592.2 492 L1594.1 500.6 L1596.6 508.5 L1599.8 515.7 L1603.7 522.1 L1608.1 527.6 L1613.1 532.3 L1618.6 536" fill="none" stroke="#000" stroke-width="0.8" />
<path d="M1752.3 289.5 L1746.3 286.7 L1739.8 284.9 L1733 284.1 L1725.8 284.3 L1718.3 285.4 L1710.7 287.6 L1702.8 290.7 L1694.9 294.8 L1686.9 299.8 L1678.9 305.6 L1671 312.3 L1663.3 319.8 L1655.7 328 L1648.4 336.8 L1641.4 346.3 L1634.8 356.2 L1628.5 366.6 L1622.8 377.4 L1617.5 388.5 L1612.8 399.7 L1608.7 411.1 L1605.2 422.5 L1602.3 433.9 L1600.1 445.1 L1598.5 456 L1597.7 466.7 L1597.5 477 L1598 486.8 L1599.3 496 L1601.2 504.6 L1603.8 512.6 L1607 519.8 L1610.9 526.2 L1615.3 531.7 L1620.4 536.4 L1625.9 540.1" fill="none" stroke="#000" stroke-width="0.8" />
<path d="M1754.4 290.7 L1748.4 287.9 L1741.9 286.1 L1735 285.3 L1727.9 285.4 L1720.4 286.6 L1712.7 288.7 L1704.9 291.9 L1696.9 295.9 L1688.9 300.9 L1680.9 306.8 L1673 313.4 L1665.3 320.9 L1657.7 329.1 L1650.4 337.9 L1643.4 347.4 L1636.7 357.3 L1630.5 367.8 L1624.8 378.5 L1619.5 389.6 L1614.8 400.9 L1610.7 412.2 L1607.2 423.6 L1604.3 435 L1602.1 446.2 L1600.5 457.2 L1599.7 467.8 L1599.5 478.1 L1600.1 487.9 L1601.3 497.1 L1603.2 505.8 L1605.8 513.7 L1609.1 520.9 L1613 527.3 L1617.4 532.9 L1622.4 537.5 L1628 541.3" fill="none" stroke="#000" stroke-width="0.8" />
<path d="M1763.8 296 L1757.7 293.2 L1751.2 291.3 L1744.3 290.5 L1737.1 290.7 L1729.6 291.8 L1721.9 293.9 L1714 297 L1706 301.1 L1698 306 L1690 311.9 L1682.1 318.5 L1674.3 326 L1666.7 334.2 L1659.4 343 L1652.4 352.5 L1645.7 362.4 L1639.5 372.8 L1633.7 383.6 L1628.5 394.7 L1623.8 405.9 L1619.7 417.3 L1616.1 428.7 L1613.3 440.1 L1611.1 451.3 L1609.6 462.3 L1608.8 473 L1608.6 483.2 L1609.2 493 L1610.5 502.3 L1612.4 511 L1615.1 518.9 L1618.3 526.1 L1622.2 532.6 L1626.7 538.1 L1631.8 542.8 L1637.4 546.6" fill="none" stroke="#000" stroke-width="0.8" />
<path d="M1771.1 300.1 L1765 297.3 L1758.5 295.4 L1751.6 294.6 L1744.3 294.7 L1736.8 295.9 L1729 298 L1721.1 301.1 L1713.1 305.1 L1705.1 310 L1697.1 315.9 L1689.1 322.5 L1681.3 330 L1673.7 338.1 L1666.4 347 L1659.4 356.4 L1652.7 366.4 L1646.5 376.8 L1640.7 387.5 L1635.5 398.6 L1630.8 409.9 L1626.6 421.3 L1623.1 432.7 L1620.3 444 L1618.1 455.3 L1616.6 466.3 L1615.8 476.9 L1615.7 487.2 L1616.3 497.1 L1617.6 506.3 L1619.6 515 L1622.2 523 L1625.5 530.2 L1629.5 536.6 L1634 542.2 L1639.1 546.9 L1644.7 550.7" fill="none" stroke="#000" stroke-width="0.8" />
<path d="M1773.2 301.3 L1767.1 298.5 L1760.6 296.6 L1753.6 295.8 L1746.4 295.9 L1738.8 297 L1731.1 299.1 L1723.2 302.2 L1715.2 306.2 L1707.1 311.2 L1699.1 317 L1691.1 323.7 L1683.3 331.1 L1675.7 339.3 L1668.4 348.1 L1661.4 357.5 L1654.7 367.5 L1648.5 377.9 L1642.7 388.7 L1637.4 399.7 L1632.7 411 L1628.6 422.4 L1625.1 433.8 L1622.3 445.2 L1620.1 456.4 L1618.6 467.4 L1617.8 478.1 L1617.7 488.4 L1618.3 498.2 L1619.6 507.5 L1621.6 516.1 L1624.3 524.1 L1627.6 531.4 L1631.5 537.8 L1636.1 543.4 L1641.2 548.1 L1646.8 551.9" fill="none" stroke="#000" stroke-width="0.8" />
<path d="M1780.5 305.4 L1774.4 302.6 L1767.8 300.7 L1760.9 299.8 L1753.6 299.9 L1746 301.1 L1738.2 303.2 L1730.3 306.2 L1722.3 310.2 L1714.2 315.2 L1706.1 321 L1698.2 327.6 L1690.3 335.1 L1682.7 343.2 L1675.4 352 L1668.3 361.5 L1661.7 371.4 L1655.4 381.8 L1649.7 392.6 L1644.4 403.7 L1639.7 414.9 L1635.6 426.3 L1632.1 437.8 L1629.3 449.1 L1627.1 460.4 L1625.7 471.4 L1624.9 482.1 L1624.8 492.4 L1625.4 502.2 L1626.8 511.5 L1628.8 520.2 L1631.5 528.2 L1634.8 535.4 L1638.8 541.9 L1643.3 547.5 L1648.5 552.2 L1654.1 556" fill="none" stroke="#000" stroke-width="0.8" />
<path d="M1821.3 328.4 L1815 325.5 L1808.2 323.5 L1801.1 322.6 L1793.7 322.6 L1786 323.6 L1778 325.6 L1770 328.6 L1761.8 332.6 L1753.6 337.4 L1745.4 343.2 L1737.4 349.8 L1729.5 357.2 L1721.8 365.3 L1714.4 374.1 L1707.3 383.5 L1700.6 393.4 L1694.3 403.8 L1688.6 414.6 L1683.3 425.6 L1678.6 436.9 L1674.6 448.3 L1671.1 459.8 L1668.4 471.2 L1666.3 482.5 L1664.9 493.5 L1664.2 504.3 L1664.2 514.6 L1665 524.5 L1666.4 533.9 L1668.6 542.7 L1671.4 550.7 L1674.9 558.1 L1679 564.6 L1683.8 570.3 L1689.1 575.1 L1694.9 579" fill="none" stroke="#000" stroke-width="0.8" />
<path d="M1823.4 329.6 L1817.1 326.7 L1810.3 324.7 L1803.2 323.7 L1795.7 323.8 L1788 324.8 L1780.1 326.8 L1772 329.8 L1763.8 333.7 L1755.6 338.6 L1747.5 344.3 L1739.4 350.9 L1731.5 358.3 L1723.8 366.4 L1716.4 375.2 L1709.3 384.6 L1702.6 394.5 L1696.3 404.9 L1690.5 415.7 L1685.3 426.7 L1680.6 438 L1676.6 449.4 L1673.1 460.9 L1670.4 472.3 L1668.3 483.6 L1666.9 494.6 L1666.2 505.4 L1666.2 515.8 L1667 525.7 L1668.5 535.1 L1670.6 543.8 L1673.5 551.9 L1677 559.2 L1681.1 565.8 L1685.8 571.5 L1691.1 576.3 L1697 580.2" fill="none" stroke="#000" stroke-width="0.8" />
<path d="M1830.7 333.7 L1824.3 330.8 L1817.6 328.8 L1810.4 327.8 L1802.9 327.8 L1795.2 328.8 L1787.2 330.8 L1779.1 333.8 L1770.9 337.7 L1762.7 342.6 L1754.5 348.3 L1746.4 354.9 L1738.5 362.3 L1730.8 370.4 L1723.4 379.1 L1716.3 388.5 L1709.6 398.5 L1703.3 408.8 L1697.5 419.6 L1692.3 430.7 L1687.6 442 L1683.5 453.4 L1680.1 464.9 L1677.4 476.3 L1675.3 487.6 L1673.9 498.6 L1673.3 509.4 L1673.3 519.8 L1674.1 529.7 L1675.6 539.1 L1677.8 547.8 L1680.6 555.9 L1684.2 563.3 L1688.3 569.9 L1693.1 575.6 L1698.4 580.4 L1704.3 584.3" fill="none" stroke="#000" stroke-width="0.8" />
<path d="M1838 337.9 L1831.6 334.9 L1824.8 332.9 L1817.6 331.9 L1810.1 331.9 L1802.4 332.9 L1794.4 334.9 L1786.2 337.8 L1778 341.7 L1769.8 346.6 L1761.6 352.3 L1753.5 358.9 L1745.5 366.2 L1737.8 374.3 L1730.4 383.1 L1723.2 392.5 L1716.5 402.4 L1710.3 412.8 L1704.5 423.6 L1699.3 434.6 L1694.6 445.9 L1690.5 457.3 L1687.1 468.8 L1684.4 480.2 L1682.3 491.5 L1681 502.6 L1680.3 513.4 L1680.4 523.8 L1681.2 533.7 L1682.7 543.1 L1684.9 551.9 L1687.8 560 L1691.4 567.4 L1695.6 574 L1700.3 579.7 L1705.7 584.5 L1711.6 588.5" fill="none" stroke="#000" stroke-width="0.8" />
<path d="M1840.1 339.1 L1833.7 336.1 L1826.9 334.1 L1819.7 333.1 L1812.2 333 L1804.4 334 L1796.4 336 L1788.3 339 L1780 342.9 L1771.8 347.7 L1763.6 353.4 L1755.5 360 L1747.5 367.3 L1739.8 375.4 L1732.4 384.2 L1725.2 393.6 L1718.5 403.5 L1712.3 413.9 L1706.5 424.7 L1701.3 435.8 L1696.6 447 L1692.5 458.5 L1689.1 469.9 L1686.4 481.4 L1684.3 492.6 L1683 503.7 L1682.3 514.5 L1682.4 524.9 L1683.2 534.8 L1684.7 544.2 L1687 553 L1689.9 561.2 L1693.4 568.5 L1697.6 575.1 L1702.4 580.9 L1707.8 585.7 L1713.7 589.7" fill="none" stroke="#000" stroke-width="0.8" />
<path d="M1848.4 343.8 L1842 340.8 L1835.2 338.8 L1828 337.7 L1820.4 337.7 L1812.6 338.7 L1804.6 340.6 L1796.4 343.6 L1788.2 347.5 L1779.9 352.3 L1771.6 358 L1763.5 364.5 L1755.5 371.9 L1747.8 380 L1740.3 388.7 L1733.2 398.1 L1726.5 408 L1720.2 418.4 L1714.5 429.2 L1709.2 440.3 L1704.6 451.6 L1700.5 463 L1697.1 474.4 L1694.4 485.9 L1692.3 497.2 L1691 508.3 L1690.4 519.1 L1690.5 529.5 L1691.3 539.4 L1692.9 548.8 L1695.1 557.6 L1698.1 565.8 L1701.6 573.2 L1705.9 579.8 L1710.7 585.5 L1716.1 590.4 L1722 594.4" fill="none" stroke="#000" stroke-width="0.8" />
<path d="M1856.8 348.5 L1850.4 345.5 L1843.5 343.4 L1836.2 342.4 L1828.6 342.3 L1820.8 343.3 L1812.8 345.2 L1804.6 348.2 L1796.3 352 L1788 356.8 L1779.7 362.5 L1771.6 369.1 L1763.6 376.4 L1755.8 384.5 L1748.3 393.3 L1741.2 402.6 L1734.5 412.5 L1728.2 422.9 L1722.4 433.7 L1717.2 444.8 L1712.5 456.1 L1708.5 467.5 L1705.1 479 L1702.4 490.4 L1700.4 501.7 L1699.1 512.8 L1698.5 523.6 L1698.6 534 L1699.4 544 L1701 553.4 L1703.3 562.3 L1706.2 570.4 L1709.9 577.8 L1714.1 584.4 L1719 590.2 L1724.4 595.1 L1730.4 599.1" fill="none" stroke="#000" stroke-width="0.8" />
<path d="M1858.9 349.7 L1852.4 346.7 L1845.6 344.6 L1838.3 343.6 L1830.7 343.5 L1822.9 344.4 L1814.8 346.4 L1806.6 349.3 L1798.3 353.2 L1790 358 L1781.7 363.7 L1773.6 370.2 L1765.6 377.5 L1757.8 385.6 L1750.3 394.4 L1743.2 403.8 L1736.5 413.7 L1730.2 424 L1724.4 434.8 L1719.2 445.9 L1714.5 457.2 L1710.5 468.6 L1707.1 480.1 L1704.4 491.5 L1702.4 502.8 L1701.1 513.9 L1700.5 524.8 L1700.6 535.2 L1701.5 545.1 L1703 554.6 L1705.3 563.4 L1708.3 571.6 L1711.9 579 L1716.2 585.6 L1721.1 591.4 L1726.5 596.3 L1732.5 600.3" fill="none" stroke="#000" stroke-width="0.8" />
<path d="M1867.2 354.4 L1860.8 351.4 L1853.8 349.3 L1846.6 348.2 L1838.9 348.1 L1831.1 349.1 L1823 351 L1814.7 353.9 L1806.4 357.8 L1798.1 362.5 L1789.8 368.2 L1781.6 374.8 L1773.6 382.1 L1765.8 390.1 L1758.3 398.9 L1751.2 408.3 L1744.5 418.2 L1738.2 428.5 L1732.4 439.3 L1727.2 450.4 L1722.5 461.7 L1718.5 473.1 L1715.1 484.6 L1712.4 496.1 L1710.4 507.4 L1709.1 518.5 L1708.5 529.3 L1708.7 539.7 L1709.6 549.7 L1711.2 559.2 L1713.5 568 L1716.5 576.2 L1720.2 583.6 L1724.5 590.3 L1729.4 596.1 L1734.8 601 L1740.8 605" fill="none" stroke="#000" stroke-width="0.8" />
<path d="M1875.6 359.1 L1869.1 356.1 L1862.1 354 L1854.8 352.9 L1847.2 352.8 L1839.2 353.7 L1831.1 355.6 L1822.9 358.5 L1814.5 362.3 L1806.2 367.1 L1797.9 372.8 L1789.7 379.3 L1781.6 386.6 L1773.8 394.7 L1766.3 403.4 L1759.2 412.8 L1752.4 422.7 L1746.2 433.1 L1740.4 443.8 L1735.1 454.9 L1730.5 466.2 L1726.5 477.6 L1723.1 489.1 L1720.4 500.6 L1718.4 511.9 L1717.2 523 L1716.6 533.9 L1716.8 544.3 L1717.7 554.3 L1719.3 563.8 L1721.7 572.6 L1724.7 580.8 L1728.4 588.3 L1732.7 594.9 L1737.7 600.8 L1743.2 605.7 L1749.2 609.7" fill="none" stroke="#000" stroke-width="0.8" />
<path d="M1877.7 360.3 L1871.2 357.2 L1864.2 355.1 L1856.9 354 L1849.2 354 L1841.3 354.9 L1833.2 356.8 L1824.9 359.6 L1816.6 363.5 L1808.2 368.3 L1799.9 373.9 L1791.7 380.4 L1783.6 387.7 L1775.8 395.8 L1768.3 404.5 L1761.2 413.9 L1754.4 423.8 L1748.2 434.2 L1742.4 444.9 L1737.1 456 L1732.5 467.3 L1728.5 478.8 L1725.1 490.3 L1722.4 501.7 L1720.4 513 L1719.2 524.2 L1718.6 535 L1718.8 545.5 L1719.7 555.5 L1721.4 564.9 L1723.7 573.8 L1726.7 582 L1730.4 589.4 L1734.8 596.1 L1739.7 601.9 L1745.3 606.9 L1751.3 610.9" fill="none" stroke="#000" stroke-width="0.8" />
<path d="M1886.1 365 L1879.5 361.9 L1872.5 359.8 L1865.1 358.7 L1857.4 358.6 L1849.5 359.5 L1841.3 361.4 L1833 364.2 L1824.7 368.1 L1816.3 372.8 L1807.9 378.5 L1799.7 385 L1791.7 392.3 L1783.8 400.3 L1776.3 409.1 L1769.2 418.4 L1762.4 428.3 L1756.1 438.7 L1750.3 449.4 L1745.1 460.5 L1740.5 471.8 L1736.5 483.3 L1733.1 494.8 L1730.4 506.2 L1728.5 517.6 L1727.2 528.7 L1726.7 539.6 L1726.9 550 L1727.8 560 L1729.5 569.5 L1731.9 578.4 L1734.9 586.6 L1738.7 594.1 L1743 600.8 L1748 606.6 L1753.6 611.6 L1759.7 615.6" fill="none" stroke="#000" stroke-width="0.8" />
<path d="M1900.7 373.3 L1894.1 370.2 L1887 368 L1879.6 366.9 L1871.8 366.7 L1863.8 367.6 L1855.6 369.4 L1847.3 372.3 L1838.9 376.1 L1830.4 380.8 L1822 386.4 L1813.8 392.9 L1805.7 400.2 L1797.9 408.2 L1790.3 417 L1783.2 426.3 L1776.4 436.2 L1770.1 446.6 L1764.3 457.3 L1759.1 468.4 L1754.4 479.7 L1750.4 491.2 L1747.1 502.7 L1744.4 514.1 L1742.5 525.5 L1741.3 536.7 L1740.8 547.5 L1741 558 L1742 568 L1743.7 577.6 L1746.2 586.5 L1749.3 594.7 L1753.1 602.2 L1757.5 608.9 L1762.5 614.8 L1768.2 619.8 L1774.3 623.9" fill="none" stroke="#000" stroke-width="0.8" />
<path d="M1909 378 L1902.4 374.9 L1895.3 372.7 L1887.9 371.5 L1880.1 371.4 L1872 372.2 L1863.8 374.1 L1855.4 376.9 L1847 380.7 L1838.5 385.4 L1830.1 391 L1821.8 397.5 L1813.7 404.7 L1805.9 412.8 L1798.3 421.5 L1791.1 430.8 L1784.4 440.7 L1778.1 451.1 L1772.3 461.8 L1767 472.9 L1762.4 484.2 L1758.4 495.7 L1755.1 507.2 L1752.5 518.7 L1750.5 530 L1749.3 541.2 L1748.9 552.1 L1749.1 562.6 L1750.1 572.6 L1751.9 582.2 L1754.3 591.1 L1757.5 599.3 L1761.3 606.9 L1765.8 613.6 L1770.8 619.5 L1776.5 624.5 L1782.6 628.6" fill="none" stroke="#000" stroke-width="0.8" />
<path d="M1912.2 379.8 L1905.5 376.6 L1898.4 374.5 L1891 373.3 L1883.2 373.1 L1875.1 373.9 L1866.9 375.8 L1858.5 378.6 L1850 382.4 L1841.5 387.1 L1833.1 392.7 L1824.8 399.2 L1816.7 406.4 L1808.9 414.5 L1801.3 423.2 L1794.1 432.5 L1787.4 442.4 L1781.1 452.8 L1775.3 463.5 L1770 474.6 L1765.4 485.9 L1761.4 497.4 L1758.1 508.9 L1755.5 520.4 L1753.5 531.7 L1752.3 542.9 L1751.9 553.8 L1752.2 564.3 L1753.2 574.3 L1754.9 583.9 L1757.4 592.8 L1760.6 601.1 L1764.4 608.6 L1768.9 615.3 L1773.9 621.3 L1779.6 626.3 L1785.8 630.4" fill="none" stroke="#000" stroke-width="0.8" />
<path d="M1896.8 377.7 L1889.6 377.8 L1882.3 378.9 L1874.7 380.7 L1867.1 383.3 L1859.4 386.7 L1851.8 390.9 L1844.1 395.8 L1836.6 401.4 L1829.2 407.7 L1821.9 414.7 L1814.9 422.2 L1808.2 430.3 L1801.8 438.8 L1795.7 447.9 L1790 457.2 L1784.7 467 L1779.9 477 L1775.6 487.1 L1771.8 497.5 L1768.6 507.9 L1765.9 518.3 L1763.7 528.7 L1762.2 538.9 L1761.3 549 L1760.9 558.8 L1761.2 568.3 L1762.1 577.5 L1763.6 586.2 L1765.6 594.4 L1768.3 602.2 L1771.5 609.3 L1775.2 615.8 L1779.5 621.7 L1784.2 626.9 L1789.5 631.3 L1795.1 635" fill="none" stroke="#fff" stroke-width="1.2" />
<path d="M1897.8 378.2 L1890.6 378.3 L1883.3 379.4 L1875.7 381.2 L1868.1 383.8 L1860.4 387.2 L1852.8 391.4 L1845.1 396.3 L1837.6 401.9 L1830.2 408.2 L1822.9 415.2 L1815.9 422.7 L1809.2 430.8 L1802.8 439.3 L1796.7 448.4 L1791 457.7 L1785.7 467.5 L1780.9 477.5 L1776.6 487.6 L1772.8 498 L1769.6 508.4 L1766.9 518.8 L1764.7 529.2 L1763.2 539.4 L1762.3 549.5 L1761.9 559.3 L1762.2 568.8 L1763.1 578 L1764.6 586.7 L1766.6 594.9 L1769.3 602.7 L1772.5 609.8 L1776.2 616.3 L1780.5 622.2 L1785.2 627.4 L1790.5 631.8 L1796.1 635.5" fill="none" stroke="#000" stroke-width="0.8" />
<path d="M1793 627 L1797 631.5 M1790 627 L1796 632" fill="none" stroke="#000" stroke-width="0.7" />
<path d="M1882 406 l6 3 l-1.2 2.4 l-6 -3 Z" fill="#fff" stroke="#000" stroke-width="0.7"/>
<path d="M1905.5 420 l6 3 l-1.2 2.4 l-6 -3 Z" fill="#fff" stroke="#000" stroke-width="0.7"/>
<path d="M1930 436 l6 3 l-1.2 2.4 l-6 -3 Z" fill="#fff" stroke="#000" stroke-width="0.7"/>
<ellipse cx="1751.2" cy="329.3" rx="10.8" ry="6.6" fill="#fff" stroke="#000" stroke-width="0.8" transform="rotate(8 1751.2 329.3)"/>
<path d="M1725.9 109.8 L1742.6 118.2 L1603.4 230.4 L1587.7 221.6Z" fill="#ff0" stroke="#000" stroke-width="0.8" />
<path d="M1604.5 200.6 L1630.7 214 L1622.3 222.4 L1596.5 207.7Z" fill="#ff0" stroke="#000" stroke-width="0.8" />
<path d="M1613.9 205.6 L1604.5 214.7" fill="none" stroke="#000" stroke-width="0.7" />
<circle cx="1729" cy="117.8" r="1.6" fill="#ff0" stroke="#000" stroke-width="0.6"/>
<circle cx="1710.5" cy="133.5" r="1.6" fill="#ff0" stroke="#000" stroke-width="0.6"/>
<ellipse cx="1843.7" cy="138.1" rx="30" ry="18.3" fill="#ff0" stroke="#000" stroke-width="0.8" transform="rotate(-8 1843.7 138.1)"/>
<ellipse cx="1843.4" cy="137.8" rx="24.6" ry="14.2" fill="none" stroke="#000" stroke-width="0.8" transform="rotate(-8 1843.4 137.8)"/>
<path d="M2098.5 200 H2114.5 V236 Q2114.5 241 2116 243.5 Q2115.5 247.2 2111 247.2 H2094.5 Q2099.5 244 2098.5 236 Z" fill="#ff0" stroke="#000" stroke-width="0.8" />
<circle cx="2106.3" cy="208.4" r="3.6" fill="#ff0" stroke="#000" stroke-width="0.7"/>
<path d="M2093.2 282.9 Q2094.3 280.1 2097.3 280.1 L2115 280.1 Q2118 280.1 2119.2 282.8 L2144.8 340.9 Q2149.2 351 2138.2 351 L2076 351 Q2065 351 2069.2 340.8Z" fill="none" stroke="#000" stroke-width="6.6" stroke-linejoin="round"/><path d="M2093.2 282.9 Q2094.3 280.1 2097.3 280.1 L2115 280.1 Q2118 280.1 2119.2 282.8 L2144.8 340.9 Q2149.2 351 2138.2 351 L2076 351 Q2065 351 2069.2 340.8Z" fill="none" stroke="#ff0" stroke-width="5" stroke-linejoin="round"/>
<path d="M1350.7 426.6 H1366.8 V462 Q1366.5 470 1372 473.8 H1354 Q1349.5 473.8 1349 470 Q1350.7 467 1350.7 462 Z" fill="#ff0" stroke="#000" stroke-width="0.8" />
<path d="M1349.9 509.1 Q1351.1 506.3 1354.1 506.3 L1371.8 506.3 Q1374.8 506.3 1376 509.1 L1401.2 567.4 Q1405.6 577.5 1394.6 577.5 L1331.1 577.5 Q1320.1 577.5 1324.5 567.4Z" fill="none" stroke="#000" stroke-width="6.6" stroke-linejoin="round"/><path d="M1349.9 509.1 Q1351.1 506.3 1354.1 506.3 L1371.8 506.3 Q1374.8 506.3 1376 509.1 L1401.2 567.4 Q1405.6 577.5 1394.6 577.5 L1331.1 577.5 Q1320.1 577.5 1324.5 567.4Z" fill="none" stroke="#ff0" stroke-width="5" stroke-linejoin="round"/>
<path d="M1611 626.4 L1667 666.9 L1670.2 671.1 L1678.6 677.4 L1683.8 679.1 L1742.6 720.8 L1728.9 740.3 L1672.3 698.4 L1670.2 699.8 L1660.8 695.2 L1654.5 686.2 L1596.4 646.3Z" fill="#ff0" stroke="#000" stroke-width="0.8" />
<path d="M1667 666.9 L1654.5 686.2M1684.2 679.5 L1672.3 698.4" fill="none" stroke="#000" stroke-width="0.7" />
<circle cx="1614.2" cy="643.8" r="4.6" fill="#ff0" stroke="#000" stroke-width="0.7"/>
<path d="M1328.3 157 L1331.8 170.3" stroke="#f00" stroke-width="0.9" fill="none"/><path d="M1334.5 180.4 L1327 171.5 L1336.6 169 Z" fill="#f00"/>
<path d="M1409.8 158 L1414.3 195.3" stroke="#f00" stroke-width="0.9" fill="none"/><path d="M1415.6 205.7 L1409.4 195.9 L1419.3 194.7 Z" fill="#f00"/>
<path d="M1568 150 L1621.7 161.8" stroke="#f00" stroke-width="0.9" fill="none"/><path d="M1632 164 L1620.7 166.6 L1622.8 156.9 Z" fill="#f00"/>
<path d="M2001.6 138.1 L1902.1 138.1" stroke="#f00" stroke-width="0.9" fill="none"/><path d="M1891.6 138.1 L1902.1 133.1 L1902.1 143.1 Z" fill="#f00"/>
<path d="M2206.1 163.3 L2133.4 204.6" stroke="#f00" stroke-width="0.9" fill="none"/><path d="M2124.3 209.8 L2131 200.3 L2135.9 209 Z" fill="#f00"/>
<path d="M2196.7 314.3 L2158.9 316.3" stroke="#f00" stroke-width="0.9" fill="none"/><path d="M2148.4 316.8 L2158.6 311.3 L2159.1 321.3 Z" fill="#f00"/>
<path d="M1926.2 311.8 L1898 332.2" stroke="#f00" stroke-width="0.9" fill="none"/><path d="M1889.5 338.4 L1895.1 328.2 L1900.9 336.3 Z" fill="#f00"/>
<path d="M2121.8 486 L2111.3 510.4" stroke="#f00" stroke-width="0.9" fill="none"/><path d="M2107.1 520 L2106.7 508.4 L2115.9 512.3 Z" fill="#f00"/>
<path d="M2234.4 530 L2233 552.1" stroke="#f00" stroke-width="0.9" fill="none"/><path d="M2232.3 562.6 L2228 551.8 L2238 552.4 Z" fill="#f00"/>
<path d="M1480.7 447.2 L1482 430.4" stroke="#f00" stroke-width="0.9" fill="none"/><path d="M1482.8 419.9 L1487 430.8 L1477 430 Z" fill="#f00"/>
<path d="M1330.8 606.6 L1333.1 598.9" stroke="#f00" stroke-width="0.9" fill="none"/><path d="M1336 588.8 L1337.9 600.3 L1328.3 597.5 Z" fill="#f00"/>
<path d="M1397.5 662.2 L1387 599.2" stroke="#f00" stroke-width="0.9" fill="none"/><path d="M1385.3 588.8 L1392 598.3 L1382.1 600 Z" fill="#f00"/>
<path d="M1561.9 671 L1597.8 672.6" stroke="#f00" stroke-width="0.9" fill="none"/><path d="M1608.3 673.1 L1597.6 677.6 L1598 667.6 Z" fill="#f00"/>
<path d="M1899.5 664.8 L1900.1 649.1" stroke="#f00" stroke-width="0.9" fill="none"/><path d="M1900.5 638.6 L1905.1 649.3 L1895.1 648.9 Z" fill="#f00"/>
<path d="M1744 127 L1828.6 137.7" stroke="#00f" stroke-width="0.9" fill="none"/><path d="M1839 139 L1828 142.6 L1829.2 132.7 Z" fill="#00f"/>
<path d="M1628 236.5 L1647.8 416.6" stroke="#00f" stroke-width="0.9" fill="none"/><path d="M1649 427 L1642.9 417.1 L1652.8 416 Z" fill="#00f"/>
<path d="M1827.6 170 L1756.1 318.5" stroke="#00f" stroke-width="0.9" fill="none"/><path d="M1751.5 328 L1751.6 316.4 L1760.6 320.7 Z" fill="#00f"/>
<path d="M2105.9 254.5 L2105.9 278.6" stroke="#00f" stroke-width="0.9" fill="none"/><path d="M2105.9 289.1 L2100.9 278.6 L2110.9 278.6 Z" fill="#00f"/>
<path d="M2062.4 303.4 L1915.5 536.1" stroke="#00f" stroke-width="0.9" fill="none"/><path d="M1909.9 545 L1911.3 533.5 L1919.7 538.8 Z" fill="#00f"/>
<path d="M1382.1 430.7 L1411.4 402.3" stroke="#00f" stroke-width="0.9" fill="none"/><path d="M1418.9 395 L1414.8 405.9 L1407.9 398.7 Z" fill="#00f"/>
<path d="M1361.6 480.8 L1361.6 504.9" stroke="#00f" stroke-width="0.9" fill="none"/><path d="M1361.6 515.4 L1356.6 504.9 L1366.6 504.9 Z" fill="#00f"/>
<path d="M1639.4 634.8 L1864.4 585.3" stroke="#00f" stroke-width="0.9" fill="none"/><path d="M1874.7 583 L1865.5 590.1 L1863.4 580.4 Z" fill="#00f"/>
<path d="M1980 665.2 L1910.4 632.2" stroke="#00f" stroke-width="0.9" fill="none"/><path d="M1900.9 627.7 L1912.5 627.7 L1908.2 636.7 Z" fill="#00f"/>
<path d="M2044.6 521 L1976.1 488" stroke="#00f" stroke-width="0.9" fill="none"/><path d="M1966.6 483.5 L1978.2 483.5 L1973.9 492.6 Z" fill="#00f"/>
<path d="M2194.6 577.2 L2119.4 547.6" stroke="#00f" stroke-width="0.9" fill="none"/><path d="M2109.6 543.7 L2121.2 542.9 L2117.5 552.2 Z" fill="#00f"/>
<path d="M2142.1 728.3 L2064.8 695.7" stroke="#00f" stroke-width="0.9" fill="none"/><path d="M2055.1 691.6 L2066.7 691.1 L2062.8 700.3 Z" fill="#00f"/>
<path d="M1837.9 504.4 L1817.3 493.4" stroke="#00f" stroke-width="0.9" fill="none"/><path d="M1808 488.4 L1819.6 488.9 L1814.9 497.8 Z" fill="#00f"/>
<path d="M1642 228 Q1672 180 1735 146" fill="none" stroke="#00f" stroke-width="0.8" />
<path d="M1744.5 142.5 L1736.3 150.8 L1732.9 141.4 Z" fill="#00f"/>
<path d="M1641.5 228.5 L1642.8 216.9 L1651.3 222.2 Z" fill="#00f"/>
<path d="M2096 234 q3 5 0 9 q-3 3 -6 2" fill="none" stroke="#00f" stroke-width="0.7" />
<path d="M2084 238 L2095.5 238.6 L2093.2 245 Z" fill="#00f"/>
<path d="M1369 460 q-3 5 0 9 q3 3 6 2" fill="none" stroke="#00f" stroke-width="0.7" />
<path d="M1382 465.5 L1372.8 472.5 L1370.5 466.1 Z" fill="#00f"/>
<path d="M1680.7 649.1 Q1683 663 1697 662" fill="none" stroke="#00f" stroke-width="0.8" />
<path d="M1707.5 659 L1698.7 666.5 L1696.1 656.9 Z" fill="#00f"/>
<circle cx="1320.3" cy="115.7" r="36" fill="#fff" stroke="#0ff" stroke-width="2.2"/><text x="1320.3" y="135.7" font-size="56" fill="#00f" text-anchor="middle">14</text>
<circle cx="1408.4" cy="114.6" r="36" fill="#fff" stroke="#0ff" stroke-width="2.2"/><text x="1408.4" y="134.6" font-size="56" fill="#00f" text-anchor="middle">13</text>
<circle cx="1522" cy="136.4" r="36" fill="#fff" stroke="#0ff" stroke-width="2.2"/><text x="1522" y="156.4" font-size="56" fill="#00f" text-anchor="middle">9</text>
<circle cx="2051.3" cy="138.7" r="36" fill="#fff" stroke="#0ff" stroke-width="2.2"/><text x="2051.3" y="158.7" font-size="56" fill="#00f" text-anchor="middle">8</text>
<circle cx="2244.9" cy="138.7" r="36" fill="#fff" stroke="#0ff" stroke-width="2.2"/><text x="2244.9" y="158.7" font-size="56" fill="#00f" text-anchor="middle">17</text>
<circle cx="1973.3" cy="283.2" r="36" fill="#fff" stroke="#0ff" stroke-width="2.2"/><text x="1973.3" y="303.2" font-size="56" fill="#00f" text-anchor="middle">15</text>
<circle cx="2242.8" cy="309.7" r="36" fill="#fff" stroke="#0ff" stroke-width="2.2"/><text x="2242.8" y="329.7" font-size="56" fill="#00f" text-anchor="middle">18</text>
<circle cx="2146.3" cy="444.4" r="36" fill="#fff" stroke="#0ff" stroke-width="2.2"/><text x="2146.3" y="464.4" font-size="56" fill="#00f" text-anchor="middle">13</text>
<circle cx="2242.2" cy="481.8" r="36" fill="#fff" stroke="#0ff" stroke-width="2.2"/><text x="2242.2" y="501.8" font-size="56" fill="#00f" text-anchor="middle">14</text>
<circle cx="1483.9" cy="494.4" r="36" fill="#fff" stroke="#0ff" stroke-width="2.2"/><text x="1483.9" y="514.4" font-size="56" fill="#00f" text-anchor="middle">12</text>
<circle cx="1325.5" cy="648.6" r="36" fill="#fff" stroke="#0ff" stroke-width="2.2"/><text x="1325.5" y="668.6" font-size="56" fill="#00f" text-anchor="middle">17</text>
<circle cx="1400.6" cy="703.5" r="36" fill="#fff" stroke="#0ff" stroke-width="2.2"/><text x="1400.6" y="723.5" font-size="56" fill="#00f" text-anchor="middle">18</text>
<circle cx="1516.8" cy="667.4" r="36" fill="#fff" stroke="#0ff" stroke-width="2.2"/><text x="1516.8" y="687.4" font-size="56" fill="#00f" text-anchor="middle">16</text>
<circle cx="1898.8" cy="708.9" r="36" fill="#fff" stroke="#0ff" stroke-width="2.2"/><text x="1898.8" y="728.9" font-size="56" fill="#00f" text-anchor="middle">11</text>
</g>
<g id="sec_p2">
<rect x="1256.6" y="849.3" width="1066" height="708.3" rx="26" ry="26" fill="#fff" stroke="#333" stroke-width="1.4"/>
<rect x="1965" y="875.8" width="264.6" height="113.5" rx="9" ry="9" fill="#fff" stroke="#f00" stroke-width="2.2"/>
<text x="2097.6" y="902.5" font-size="33.15" fill="#000" text-anchor="middle" >изготовить</text>
<text x="2097.5" y="940.7" font-size="33.15" fill="#000" text-anchor="middle" >самостоятельно</text>
<text x="2096.5" y="977.4" font-size="33.15" fill="#000" text-anchor="middle" >диаметр 1 мм</text>
<text x="2007.3" y="1191.3" font-size="24.7" fill="#000" text-anchor="start" >проволока</text>
<path d="M1492.3 1044.4 C1486.9 1046.8 1469.8 1053.1 1459.8 1058.6 C1449.8 1064.1 1440.9 1069.5 1432.5 1077.5 C1424.1 1085.5 1416.4 1095.7 1409.4 1106.9 C1402.4 1118.1 1395.6 1131.3 1390.5 1144.6 C1385.4 1157.9 1381.6 1176.1 1379 1186.6 C1376.4 1197.1 1375 1200.1 1374.8 1207.8 C1374.6 1215.5 1376 1224.5 1377.9 1232.9 C1379.8 1241.3 1382.5 1250.4 1386.3 1258.1 C1390.1 1265.8 1394.7 1272.8 1401 1279.1 C1407.3 1285.4 1414.3 1291 1424.1 1295.9 C1433.9 1300.8 1450.4 1306.1 1459.8 1308.4 C1469.2 1310.7 1473.7 1309.8 1480.7 1309.5 C1487.7 1309.2 1493.5 1307.8 1501.7 1306.3 C1509.9 1304.8 1525.3 1301.5 1530 1300.5 L1530 1296.9 L1516.4 1286 C1514 1287 1507.7 1290 1501.7 1291.7 C1495.8 1293.4 1487.7 1295 1480.7 1295.9 C1473.7 1296.8 1468.2 1297.6 1459.8 1296.9 C1451.4 1296.2 1438.8 1294.7 1430.4 1291.7 C1422 1288.7 1415 1284 1409.4 1279.1 C1403.8 1274.2 1400.1 1268.6 1396.8 1262.3 C1393.5 1256 1391.1 1248.3 1389.5 1241.3 C1387.9 1234.3 1386.5 1229.4 1387.4 1220.3 C1388.3 1211.2 1391.4 1199.2 1394.7 1186.6 C1398 1174 1402 1157.2 1407.3 1144.6 C1412.5 1132 1419.5 1120.9 1426.2 1111.1 C1432.9 1101.3 1439.5 1092.9 1447.2 1085.9 C1454.9 1078.9 1463 1073.6 1472.3 1069.1 C1481.6 1064.6 1497.7 1060.8 1502.8 1059.1Z" fill="#ff0" stroke="#000" stroke-width="1.1" />
<path d="M1492.3 1044.4 L1522.7 1037.7 L1522.7 1037.7 C1523.8 1036.5 1526 1032 1529 1030.3 C1532 1028.6 1536.7 1026 1540.5 1027.6 C1544.3 1029.2 1549 1036.4 1552 1039.8 C1555 1043.2 1557.5 1045 1558.3 1048.1 C1559.1 1051.2 1558.4 1055.6 1556.7 1058.6 C1555 1061.6 1550.6 1065.3 1547.9 1066 C1545.2 1066.7 1542.2 1064.3 1540.5 1062.8 C1538.8 1061.3 1539.4 1058.1 1537.8 1057 C1536.2 1055.9 1532.2 1056.2 1531.1 1056.1 L1502.8 1059.1 Z" fill="#ff0" stroke="#000" stroke-width="1.1" />
<ellipse cx="1548.9" cy="1052.8" rx="7.4" ry="10.2" fill="#ff0" stroke="#000" stroke-width="0.9" transform="rotate(20 1548.9 1052.8)"/>
<path d="M1504.2 1060.3 L1532.1 1057.8 L1538.4 1058.6" fill="none" stroke="#000" stroke-width="0.7" />
<path d="M1578.3 1124.2 C1572.9 1126.6 1555.8 1132.9 1545.8 1138.4 C1535.8 1143.9 1526.9 1149.2 1518.5 1157.3 C1510.1 1165.3 1502.4 1175.5 1495.4 1186.7 C1488.4 1197.9 1481.6 1211.1 1476.5 1224.4 C1471.4 1237.7 1467.6 1255.9 1465 1266.4 C1462.4 1276.9 1461 1279.9 1460.8 1287.6 C1460.6 1295.3 1462 1304.3 1463.9 1312.7 C1465.8 1321.1 1468.5 1330.2 1472.3 1337.9 C1476.1 1345.6 1480.7 1352.6 1487 1358.9 C1493.3 1365.2 1500.3 1370.8 1510.1 1375.7 C1519.9 1380.6 1536.4 1385.9 1545.8 1388.2 C1555.2 1390.5 1559.7 1389.7 1566.7 1389.3 C1573.7 1388.9 1579.5 1387.6 1587.7 1386.1 C1595.9 1384.6 1611.3 1381.3 1616 1380.3 L1616 1376.7 L1602.4 1365.8 C1600 1366.8 1593.7 1369.8 1587.7 1371.5 C1581.8 1373.2 1573.7 1374.8 1566.7 1375.7 C1559.7 1376.6 1554.2 1377.4 1545.8 1376.7 C1537.4 1376 1524.8 1374.5 1516.4 1371.5 C1508 1368.5 1501 1363.8 1495.4 1358.9 C1489.8 1354 1486.1 1348.4 1482.8 1342.1 C1479.5 1335.8 1477.1 1328.1 1475.5 1321.1 C1473.9 1314.1 1472.5 1309.2 1473.4 1300.1 C1474.3 1291 1477.4 1279 1480.7 1266.4 C1484 1253.8 1488 1237 1493.3 1224.4 C1498.5 1211.8 1505.5 1200.7 1512.2 1190.9 C1518.9 1181.1 1525.5 1172.7 1533.2 1165.7 C1540.9 1158.7 1549 1153.4 1558.3 1148.9 C1567.6 1144.4 1583.7 1140.6 1588.8 1138.9Z" fill="#ff0" stroke="#000" stroke-width="1.1" />
<path d="M1578.3 1124.2 L1608.7 1117.5 L1608.7 1117.5 C1609.8 1116.3 1612 1111.8 1615 1110.1 C1618 1108.4 1622.7 1105.8 1626.5 1107.4 C1630.3 1109 1635 1116.2 1638 1119.6 C1641 1123 1643.5 1124.8 1644.3 1127.9 C1645.1 1131 1644.4 1135.4 1642.7 1138.4 C1641 1141.4 1636.6 1145.1 1633.9 1145.8 C1631.2 1146.5 1628.2 1144.1 1626.5 1142.6 C1624.8 1141.1 1625.4 1137.9 1623.8 1136.8 C1622.2 1135.7 1618.2 1136.1 1617.1 1135.9 L1588.8 1138.9 Z" fill="#ff0" stroke="#000" stroke-width="1.1" />
<ellipse cx="1634.9" cy="1132.6" rx="7.4" ry="10.2" fill="#ff0" stroke="#000" stroke-width="0.9" transform="rotate(20 1634.9 1132.6)"/>
<path d="M1590.2 1140.1 L1618.1 1137.6 L1624.4 1138.4" fill="none" stroke="#000" stroke-width="0.7" />
<path d="M1869.6 1146.1 C1866.4 1142.1 1857 1128.5 1850.7 1122 C1844.4 1115.5 1837.7 1110.8 1831.9 1107.3 C1826.1 1103.8 1820.3 1100.8 1816.1 1101 C1811.9 1101.2 1808.8 1104.8 1806.7 1108.3 C1804.6 1111.8 1803.8 1116.2 1803.5 1122 C1803.2 1127.8 1805.1 1134.9 1804.6 1142.9 C1804.1 1150.9 1802.9 1160.8 1800.4 1170.2 C1798 1179.7 1794.8 1189.8 1789.9 1199.6 C1785 1209.4 1778.7 1219.8 1771 1228.9 C1763.3 1238 1753.9 1247.4 1743.8 1254.1 C1733.7 1260.8 1720.3 1265.1 1710.2 1268.8 C1700.1 1272.5 1688.3 1273.5 1682.9 1276.1 C1677.5 1278.7 1677.7 1281.2 1677.7 1284.5 C1677.7 1287.8 1679.2 1291.6 1682.9 1296 C1686.6 1300.4 1693.4 1305.5 1699.7 1310.7 C1706 1316 1713.5 1322.4 1720.7 1327.5 C1727.9 1332.6 1739 1338.8 1742.7 1341.1 L1742.7 1341.1 C1738.7 1337.1 1725.4 1323.6 1718.6 1317 C1711.8 1310.4 1704.8 1305 1701.8 1301.3 C1698.8 1297.6 1699.8 1296.6 1700.8 1295 C1701.8 1293.4 1702.7 1293.3 1708.1 1291.9 C1713.5 1290.5 1724.2 1289 1733.3 1286.6 C1742.4 1284.1 1753.5 1281.9 1762.6 1277.2 C1771.7 1272.5 1780.8 1264.6 1787.8 1258.3 C1794.8 1252 1799.7 1246.8 1804.6 1239.4 C1809.5 1232.1 1813.7 1222.6 1817.2 1214.2 C1820.7 1205.8 1823.8 1197.5 1825.6 1189.1 C1827.3 1180.7 1827.9 1172 1827.7 1163.9 C1827.5 1155.9 1824.7 1147.1 1824.5 1140.8 C1824.3 1134.5 1825 1129.9 1826.6 1126.1 C1828.2 1122.3 1830.6 1118 1833.9 1117.8 C1837.2 1117.6 1840.5 1120.4 1846.5 1125.1 C1852.5 1129.8 1865.8 1142.6 1869.6 1146.1Z" fill="#ff0" stroke="#000" stroke-width="1.1" />
<path d="M1702.6 1297.3 C1703.6 1296.6 1703.3 1294.7 1708.5 1293.1 C1713.7 1291.5 1724.6 1290.4 1733.7 1287.9 C1742.8 1285.5 1754.1 1283.2 1763.3 1278.4 C1772.5 1273.6 1781.8 1265.7 1788.9 1259.3 C1796 1252.9 1800.9 1247.7 1805.8 1240.3 C1810.7 1232.9 1814.9 1223.2 1818.4 1214.7 C1821.9 1206.2 1825 1197.8 1826.8 1189.3 C1828.5 1180.8 1829.1 1172 1828.9 1163.9 C1828.7 1155.8 1826 1147 1825.8 1140.8 C1825.6 1134.6 1826.6 1130.6 1827.9 1127 C1829.2 1123.4 1832.9 1120.5 1833.9 1119.2" fill="none" stroke="#000" stroke-width="3.4" stroke-linecap="round"/>
<path d="M1702.6 1297.3 C1703.6 1296.6 1703.3 1294.7 1708.5 1293.1 C1713.7 1291.5 1724.6 1290.4 1733.7 1287.9 C1742.8 1285.5 1754.1 1283.2 1763.3 1278.4 C1772.5 1273.6 1781.8 1265.7 1788.9 1259.3 C1796 1252.9 1800.9 1247.7 1805.8 1240.3 C1810.7 1232.9 1814.9 1223.2 1818.4 1214.7 C1821.9 1206.2 1825 1197.8 1826.8 1189.3 C1828.5 1180.8 1829.1 1172 1828.9 1163.9 C1828.7 1155.8 1826 1147 1825.8 1140.8 C1825.6 1134.6 1826.6 1130.6 1827.9 1127 C1829.2 1123.4 1832.9 1120.5 1833.9 1119.2" fill="none" stroke="#ff0" stroke-width="1.6" stroke-linecap="round"/>
<path d="M1703.5 1302.8 L1724.9 1319.1 L1741.7 1340.1Z" fill="#fff" stroke="#000" stroke-width="0.7" />
<path d="M1986 1225.4 C1982.8 1221.4 1973.4 1207.8 1967.1 1201.3 C1960.8 1194.8 1954.1 1190.1 1948.3 1186.6 C1942.5 1183.1 1936.7 1180.1 1932.5 1180.3 C1928.3 1180.5 1925.2 1184.1 1923.1 1187.6 C1921 1191.1 1920.2 1195.5 1919.9 1201.3 C1919.6 1207.1 1921.5 1214.2 1921 1222.2 C1920.5 1230.2 1919.2 1240 1916.8 1249.5 C1914.3 1259 1911.2 1269.1 1906.3 1278.9 C1901.4 1288.7 1895.1 1299.1 1887.4 1308.2 C1879.7 1317.3 1870.3 1326.8 1860.2 1333.4 C1850.1 1340.1 1836.8 1344.4 1826.6 1348.1 C1816.4 1351.8 1804.7 1352.8 1799.3 1355.4 C1793.9 1358 1794.1 1360.5 1794.1 1363.8 C1794.1 1367.1 1795.6 1370.9 1799.3 1375.3 C1803 1379.7 1809.8 1384.8 1816.1 1390 C1822.4 1395.2 1829.9 1401.7 1837.1 1406.8 C1844.3 1411.9 1855.4 1418.1 1859.1 1420.4 L1859.1 1420.4 C1855.1 1416.4 1841.8 1402.9 1835 1396.3 C1828.2 1389.7 1821.2 1384.3 1818.2 1380.6 C1815.2 1376.9 1816.2 1375.9 1817.2 1374.3 C1818.2 1372.7 1819.1 1372.6 1824.5 1371.2 C1829.9 1369.8 1840.6 1368.4 1849.7 1365.9 C1858.8 1363.5 1869.9 1361.2 1879 1356.5 C1888.1 1351.8 1897.2 1343.9 1904.2 1337.6 C1911.2 1331.3 1916.1 1326 1921 1318.7 C1925.9 1311.4 1930.1 1301.9 1933.6 1293.5 C1937.1 1285.1 1940.2 1276.8 1942 1268.4 C1943.8 1260 1944.3 1251.2 1944.1 1243.2 C1943.9 1235.2 1941.1 1226.4 1940.9 1220.1 C1940.7 1213.8 1941.4 1209.2 1943 1205.4 C1944.6 1201.6 1947 1197.3 1950.3 1197.1 C1953.6 1196.9 1957 1199.7 1962.9 1204.4 C1968.9 1209.1 1982.2 1221.9 1986 1225.4Z" fill="#ff0" stroke="#000" stroke-width="1.1" />
<path d="M1819 1376.6 C1820 1375.9 1819.7 1374 1824.9 1372.4 C1830.1 1370.8 1841 1369.7 1850.1 1367.2 C1859.2 1364.8 1870.5 1362.5 1879.7 1357.7 C1888.9 1352.9 1898.2 1344.9 1905.3 1338.6 C1912.4 1332.2 1917.3 1327 1922.2 1319.6 C1927.1 1312.2 1931.3 1302.5 1934.8 1294 C1938.3 1285.5 1941.5 1277.1 1943.2 1268.6 C1945 1260.1 1945.5 1251.3 1945.3 1243.2 C1945.1 1235.1 1942.4 1226.2 1942.2 1220.1 C1942 1213.9 1943 1209.9 1944.3 1206.3 C1945.6 1202.7 1949.3 1199.8 1950.3 1198.5" fill="none" stroke="#000" stroke-width="3.4" stroke-linecap="round"/>
<path d="M1819 1376.6 C1820 1375.9 1819.7 1374 1824.9 1372.4 C1830.1 1370.8 1841 1369.7 1850.1 1367.2 C1859.2 1364.8 1870.5 1362.5 1879.7 1357.7 C1888.9 1352.9 1898.2 1344.9 1905.3 1338.6 C1912.4 1332.2 1917.3 1327 1922.2 1319.6 C1927.1 1312.2 1931.3 1302.5 1934.8 1294 C1938.3 1285.5 1941.5 1277.1 1943.2 1268.6 C1945 1260.1 1945.5 1251.3 1945.3 1243.2 C1945.1 1235.1 1942.4 1226.2 1942.2 1220.1 C1942 1213.9 1943 1209.9 1944.3 1206.3 C1945.6 1202.7 1949.3 1199.8 1950.3 1198.5" fill="none" stroke="#ff0" stroke-width="1.6" stroke-linecap="round"/>
<path d="M1819.9 1382.1 L1841.3 1398.4 L1858.1 1419.4Z" fill="#fff" stroke="#000" stroke-width="0.7" />
<path d="M1672.2 1365.6 L1808.6 1461.3 L1783.6 1514.8 L1652.1 1409.1Z" fill="#ff0" stroke="#000" stroke-width="1.1" />
<path d="M1647.2 1338.3 L1808.6 1461.3 L1778.3 1445.8 L1777.4 1449.4 L1646 1342.4Z" fill="#ff0" stroke="#000" stroke-width="1.1" />
<path d="M1805 1459.9 L1780.4 1512.7 L1783.6 1514.8" fill="none" stroke="#000" stroke-width="0.9" />
<path d="M1677.9 1398.9 L1702.5 1418" stroke="#000" stroke-width="15" stroke-linecap="round"/>
<path d="M1677.9 1398.9 L1702.5 1418" stroke="#fff" stroke-width="13.2" stroke-linecap="round"/>
<path d="M1750.7 1458.7 L1774.7 1477.4" stroke="#000" stroke-width="15" stroke-linecap="round"/>
<path d="M1750.7 1458.7 L1774.7 1477.4" stroke="#fff" stroke-width="13.2" stroke-linecap="round"/>
<path d="M1676.7 1381.1 L1684.2 1386.5 L1683.8 1400.7 L1676.7 1410.5 L1670.4 1405.2 L1668.6 1390.9Z" fill="#ff0" stroke="#000" stroke-width="1" />
<path d="M1671 1383.8 L1678.4 1389.1 L1678.1 1403 L1671.7 1407" fill="none" stroke="#000" stroke-width="0.8" />
<path d="M1678.4 1389.1 L1684.2 1386.5M1678.1 1403 L1683.8 1400.7" fill="none" stroke="#000" stroke-width="0.8" />
<path d="M1771.2 1460.1 L1778.6 1465.4 L1778.3 1479.7 L1771.2 1489.5 L1764.9 1484.2 L1763.1 1469.9Z" fill="#ff0" stroke="#000" stroke-width="1" />
<path d="M1765.4 1462.8 L1772.9 1468.1 L1772.6 1482 L1766.2 1486" fill="none" stroke="#000" stroke-width="0.8" />
<path d="M1772.9 1468.1 L1778.6 1465.4M1772.6 1482 L1778.3 1479.7" fill="none" stroke="#000" stroke-width="0.8" />
<path d="M1972.7 1252.2 L2001.6 1261.7 L2134.4 1344.7 L2132.1 1350 L2104.8 1339.5 L1971.8 1255.6Z" fill="#ff0" stroke="#000" stroke-width="1.1" />
<path d="M1973.5 1253.9 L2106.1 1334 L2104.8 1339.5M2106.1 1334 L2134.4 1344.7" fill="none" stroke="#000" stroke-width="0.8" />
<path d="M1792.2 904.5 L1800.6 899.6 L1814.2 898.8 L1820.9 903.4 L1820.9 908 L1813.6 914.3 L1799.8 915.2 L1792.2 909.3Z" fill="#ff0" stroke="#000" stroke-width="1" />
<path d="M1792.2 904.5 L1799.3 910.1 L1813.2 909.3 L1820.9 903.4M1799.3 910.1 L1799.8 915.2M1813.2 909.3 L1813.6 914.3" fill="none" stroke="#000" stroke-width="0.8" />
<ellipse cx="1806.5" cy="904.9" rx="5.3" ry="3" fill="#fff" stroke="#000" stroke-width="0.8"/>
<path d="M1787.4 931.7 L1870.2 982.1 L1865 1003 L1781.1 953.8 L1777.3 946.4 C1777.5 945 1776.7 940.5 1778.4 938 C1780.1 935.5 1785.9 932.8 1787.4 931.7Z" fill="#fff" stroke="#000" stroke-width="1" />
<ellipse cx="1868.1" cy="992.6" rx="6.3" ry="10.9" fill="#fff" stroke="#000" stroke-width="1" transform="rotate(20 1868.1 992.6)"/>
<ellipse cx="1822.6" cy="959" rx="3.2" ry="2.4" fill="#fff" stroke="#000" stroke-width="0.8" transform="rotate(20 1822.6 959)"/>
<path d="M1851.4 1026.1 L1856.6 1024 L1898.6 1120.5 L1894.4 1122.6Z" fill="#ff0" stroke="#000" stroke-width="1" />
<path d="M1853.9 1025.1 L1896.7 1121.6" fill="none" stroke="#000" stroke-width="0.6" />
<path d="M1889.1 1123.7 L1906.9 1116.9 L1919.5 1152 L1911.1 1162.5 L1902.8 1160.4Z" fill="#ff0" stroke="#000" stroke-width="1.1" />
<path d="M1897.5 1120.5 L1911.1 1154.1 L1919.5 1152M1911.1 1154.1 L1911.1 1162.5M1892.9 1127.9 L1904.9 1157.2" fill="none" stroke="#000" stroke-width="0.8" />
<ellipse cx="1906.3" cy="1132.7" rx="2.4" ry="3.4" fill="#777" stroke="#000" stroke-width="0.8" transform="rotate(-20 1906.3 1132.7)"/>
<ellipse cx="1897.5" cy="1138.3" rx="4.5" ry="9" fill="#ff0" stroke="#000" stroke-width="0.8" transform="rotate(-20 1897.5 1138.3)"/>
<path d="M1976.4 1170.4 L1991.5 1180.9" stroke="#000" stroke-width="10.4" stroke-linecap="round"/>
<path d="M1976.4 1170.4 L1991.5 1180.9" stroke="#e85a00" stroke-width="8.4" stroke-linecap="round"/>
<ellipse cx="1992" cy="1181.3" rx="2.6" ry="4.2" fill="#e85a00" stroke="#000" stroke-width="0.8" transform="rotate(35 1992 1181.3)"/>
<path d="M1764.3 949.1 L1586.8 1028.1" stroke="#00f" stroke-width="0.9" fill="none"/><path d="M1577.2 1032.4 L1584.8 1023.6 L1588.8 1032.7 Z" fill="#00f"/>
<path d="M1834.6 1024 L1657.6 1102.7" stroke="#00f" stroke-width="0.9" fill="none"/><path d="M1648 1107 L1655.6 1098.2 L1659.6 1107.3 Z" fill="#00f"/>
<path d="M1850.3 1018.8 L1843.5 1005.1" stroke="#00f" stroke-width="0.9" fill="none"/><path d="M1838.8 995.7 L1848 1002.9 L1839 1007.3 Z" fill="#00f"/>
<path d="M1809.8 920.6 L1816.8 940.7" stroke="#00f" stroke-width="0.9" fill="none"/><path d="M1820.3 950.6 L1812.1 942.3 L1821.6 939 Z" fill="#00f"/>
<path d="M1919.5 1199.2 L1850 1141.9" stroke="#00f" stroke-width="0.9" fill="none"/><path d="M1841.9 1135.2 L1853.2 1138 L1846.8 1145.7 Z" fill="#00f"/>
<path d="M1963.6 1166.2 L1923.1 1143.4" stroke="#00f" stroke-width="0.9" fill="none"/><path d="M1913.9 1138.3 L1925.5 1139.1 L1920.6 1147.8 Z" fill="#00f"/>
<path d="M2089.7 1319.3 L1969.4 1221.3" stroke="#00f" stroke-width="0.9" fill="none"/><path d="M1961.3 1214.7 L1972.6 1217.5 L1966.3 1225.2 Z" fill="#00f"/>
<path d="M1703.9 1325.8 L1691.6 1345.9" stroke="#00f" stroke-width="0.9" fill="none"/><path d="M1686.1 1354.8 L1687.3 1343.2 L1695.9 1348.5 Z" fill="#00f"/>
<path d="M1542.6 1300 L1654.7 1359.3" stroke="#00f" stroke-width="0.9" fill="none"/><path d="M1664 1364.2 L1652.4 1363.7 L1657.1 1354.9 Z" fill="#00f"/>
<path d="M1629.4 1370.5 L1738.6 1428.5" stroke="#00f" stroke-width="0.9" fill="none"/><path d="M1747.9 1433.4 L1736.3 1432.9 L1741 1424.1 Z" fill="#00f"/>
<path d="M1803.5 1402 L1790.4 1422.5" stroke="#00f" stroke-width="0.9" fill="none"/><path d="M1784.7 1431.3 L1786.2 1419.8 L1794.6 1425.2 Z" fill="#00f"/>
<path d="M1798.5 1071.6 L1826.5 1087.4" stroke="#00f" stroke-width="0.9" fill="none"/><path d="M1835.6 1092.6 L1824 1091.8 L1828.9 1083.1 Z" fill="#00f"/>
<path d="M1637.8 1276.1 L1667 1304.5" stroke="#00f" stroke-width="0.9" fill="none"/><path d="M1674.5 1311.8 L1663.5 1308.1 L1670.5 1300.9 Z" fill="#00f"/>
<path d="M1980.6 1250.8 L1941.8 1218.7" fill="none" stroke="#00f" stroke-width="0.8" />
<path d="M1772.1 1195 C1774.8 1188.7 1784.3 1172.6 1788.4 1157.2 C1792.5 1141.8 1795.1 1117 1796.8 1102.7 C1798.5 1088.4 1798.2 1076.8 1798.5 1071.6" fill="none" stroke="#00f" stroke-width="0.8" />
<path d="M1744.8 1224.7 C1741.5 1228.2 1733.5 1239.4 1724.9 1245.7 C1716.3 1252 1707.9 1257.4 1693.4 1262.5 C1678.9 1267.6 1647.1 1273.8 1637.8 1276.1" fill="none" stroke="#00f" stroke-width="0.8" />
<path d="M1366.4 1264.4 C1365.2 1259.9 1361.2 1247.2 1359.1 1237.1 C1357 1227 1354.5 1214.8 1353.8 1203.6 C1353.1 1192.4 1353.4 1179.3 1354.9 1170 C1356.4 1160.7 1359.5 1155.7 1363 1148 C1366.5 1140.3 1369.4 1133.5 1375.9 1123.7 C1382.4 1113.9 1397.7 1094.8 1402 1089" fill="none" stroke="#00f" stroke-width="0.8" />
<path d="M1406.3 1083.8 L1403.8 1095.2 L1395.9 1089 Z" fill="#00f"/>
<path d="M1547.9 1073.3 C1550.3 1071.9 1559.2 1068.8 1562.5 1064.9 C1565.8 1061.1 1567.8 1055.3 1567.8 1050.2 C1567.8 1045.1 1564.5 1038.2 1562.5 1034.5 C1560.5 1030.8 1557.1 1029.1 1556 1028" fill="none" stroke="#00f" stroke-width="0.8" />
<path d="M1547.4 1022.6 L1558.9 1024.5 L1553.1 1032.7 Z" fill="#00f"/>
<path d="M1913.2 1113 L1923.7 1134.2 L1939.5 1137.9 L1933.5 1117" fill="none" stroke="#00f" stroke-width="0.8" />
<path d="M1913.2 1102.7 L1921.1 1111.3 L1911.5 1114.2 Z" fill="#00f"/>
<path d="M1931.1 1106.9 L1938.6 1115.7 L1929 1118.3 Z" fill="#00f"/>
<path d="M1817.2 1490.8 L1832.7 1454.2 L1812 1442.5" fill="none" stroke="#00f" stroke-width="0.8" />
<path d="M1801.5 1436.9 L1813.1 1437.6 L1808.3 1446.4 Z" fill="#00f"/>
<path d="M1589.4 918.5 L1763.7 911.8" stroke="#f00" stroke-width="0.9" fill="none"/><path d="M1774.2 911.4 L1763.9 916.8 L1763.5 906.8 Z" fill="#f00"/>
<path d="M1956.7 928.6 L1855.7 954.9" stroke="#f00" stroke-width="0.9" fill="none"/><path d="M1845.5 957.5 L1854.4 950 L1856.9 959.7 Z" fill="#f00"/>
<path d="M2183 1055.4 L1898.2 1052" stroke="#f00" stroke-width="0.9" fill="none"/><path d="M1887.7 1051.9 L1898.3 1047 L1898.1 1057 Z" fill="#f00"/>
<path d="M2183.7 1152.5 L1961.8 1135.9" stroke="#f00" stroke-width="0.9" fill="none"/><path d="M1951.3 1135.1 L1962.1 1130.9 L1961.4 1140.9 Z" fill="#f00"/>
<path d="M2125.8 1283.9 L2108.4 1297.7" stroke="#f00" stroke-width="0.9" fill="none"/><path d="M2100.2 1304.2 L2105.3 1293.8 L2111.5 1301.6 Z" fill="#f00"/>
<path d="M2053.6 1406 L1838.7 1219" stroke="#f00" stroke-width="0.9" fill="none"/><path d="M1830.8 1212.1 L1842 1215.2 L1835.4 1222.8 Z" fill="#f00"/>
<path d="M2039.4 1418.6 L1916.8 1357" stroke="#f00" stroke-width="0.9" fill="none"/><path d="M1907.4 1352.3 L1919 1352.5 L1914.5 1361.5 Z" fill="#f00"/>
<path d="M1351.1 1387.7 L1391.7 1314.5" stroke="#f00" stroke-width="0.9" fill="none"/><path d="M1396.8 1305.3 L1396.1 1316.9 L1387.3 1312.1 Z" fill="#f00"/>
<path d="M1371 1406 L1461.1 1382.5" stroke="#f00" stroke-width="0.9" fill="none"/><path d="M1471.3 1379.8 L1462.4 1387.3 L1459.9 1377.6 Z" fill="#f00"/>
<path d="M1547.4 1458.8 L1658.9 1411.1" stroke="#f00" stroke-width="0.9" fill="none"/><path d="M1668.6 1407 L1660.9 1415.7 L1657 1406.5 Z" fill="#f00"/>
<path d="M1555.2 1482.1 L1752.1 1477.6" stroke="#f00" stroke-width="0.9" fill="none"/><path d="M1762.6 1477.4 L1752.2 1482.6 L1752 1472.6 Z" fill="#f00"/>
<path d="M1891.9 1473.8 L1844.3 1479.7" stroke="#f00" stroke-width="0.9" fill="none"/><path d="M1833.9 1481 L1843.7 1474.7 L1844.9 1484.7 Z" fill="#f00"/>
<circle cx="1539.5" cy="919.8" r="36" fill="#fff" stroke="#0ff" stroke-width="2.2"/><text x="1539.5" y="939.8" font-size="56" fill="#00f" text-anchor="middle">7</text>
<circle cx="2239.3" cy="1053.5" r="36" fill="#fff" stroke="#0ff" stroke-width="2.2"/><text x="2239.3" y="1073.5" font-size="56" fill="#00f" text-anchor="middle">5</text>
<circle cx="2242.8" cy="1159.9" r="36" fill="#fff" stroke="#0ff" stroke-width="2.2"/><text x="2242.8" y="1179.9" font-size="56" fill="#00f" text-anchor="middle">4</text>
<circle cx="2163.7" cy="1255" r="36" fill="#fff" stroke="#0ff" stroke-width="2.2"/><text x="2163.7" y="1275" font-size="56" fill="#00f" text-anchor="middle">2</text>
<circle cx="2084" cy="1442.3" r="36" fill="#fff" stroke="#0ff" stroke-width="2.2"/><text x="2084" y="1462.3" font-size="56" fill="#00f" text-anchor="middle">3</text>
<circle cx="1943.9" cy="1469.5" r="36" fill="#fff" stroke="#0ff" stroke-width="2.2"/><text x="1943.9" y="1489.5" font-size="56" fill="#00f" text-anchor="middle">1</text>
<circle cx="1504.4" cy="1482.5" r="36" fill="#fff" stroke="#0ff" stroke-width="2.2"/><text x="1504.4" y="1502.5" font-size="56" fill="#00f" text-anchor="middle">6</text>
<circle cx="1326.6" cy="1431.8" r="36" fill="#fff" stroke="#0ff" stroke-width="2.2"/><text x="1326.6" y="1451.8" font-size="56" fill="#00f" text-anchor="middle">10</text>
</g>
<g id="sec_p3">
<rect x="1256.6" y="1643.5" width="1066" height="708.8" rx="26" ry="26" fill="#fff" stroke="#333" stroke-width="1.4"/>
<path d="M1265.7 1897.9 C1284.1 1898 1347.1 1898.1 1375.9 1898.6 C1404.8 1899.1 1423.1 1900.1 1438.8 1901.1 C1454.5 1902.1 1461.1 1902.7 1470.2 1904.8 C1479.3 1906.9 1489.5 1912.2 1493.3 1913.7 L1562.5 1978.7 L1600 2015 L1930.4 2352.3" fill="none" stroke="#000" stroke-width="1.1" />
<path d="M1723.8 1760.3 C1731.1 1757.4 1753.5 1748.2 1767.8 1742.9 C1782.1 1737.7 1798.4 1732.4 1809.8 1728.8 C1821.2 1725.2 1829.9 1722.9 1835.9 1721.6 C1841.9 1720.2 1842.5 1720.8 1845.8 1720.6 C1849.1 1720.4 1852.4 1720.2 1855.7 1720.1 C1859 1720.1 1862.3 1720.1 1865.6 1720.2 C1868.9 1720.3 1872.2 1720.5 1875.5 1720.7 C1878.8 1721 1882.1 1721.3 1885.4 1721.7 C1888.7 1722.2 1891.9 1722.7 1895.2 1723.3 C1898.4 1723.9 1901.7 1724.5 1904.9 1725.3 C1908.1 1726 1911.3 1726.9 1914.5 1727.8 C1917.7 1728.7 1920.8 1729.7 1923.9 1730.7 C1927.1 1731.8 1930.2 1733 1933.2 1734.2 C1936.3 1735.4 1939.4 1736.7 1942.4 1738.1 C1945.4 1739.5 1948.3 1740.9 1951.3 1742.5 C1954.2 1744 1957.1 1745.6 1959.9 1747.3 C1962.8 1748.9 1965.6 1750.7 1968.4 1752.5 C1971.1 1754.3 1973.8 1756.2 1976.5 1758.1 C1979.2 1760.1 1981.8 1762.1 1984.4 1764.2 C1986.9 1766.3 1989.4 1768.4 1991.9 1770.6 C1994.4 1772.8 1996.8 1775.1 1999.1 1777.4 C2001.4 1779.8 2003.7 1782.2 2006 1784.6 C2008.2 1787 2010.4 1789.5 2012.5 1792.1 C2014.5 1794.6 2016.6 1797.3 2018.6 1799.9 C2020.5 1802.6 2022.4 1805.3 2024.3 1808 C2026.1 1810.8 2027.9 1813.6 2029.5 1816.4 C2031.2 1819.2 2032.9 1822.1 2034.4 1825 C2036 1828 2037.4 1830.9 2038.8 1833.9 C2040.2 1836.9 2041.6 1839.9 2042.8 1843 C2044.1 1846.1 2045.2 1849.2 2046.3 1852.3 C2047.4 1855.4 2048.4 1858.5 2049.4 1861.7 C2050.3 1864.9 2051.1 1868.1 2051.9 1871.3 C2052.7 1874.5 2053.4 1877.7 2054 1881 C2054.6 1884.2 2055.1 1887.5 2055.6 1890.8 C2056 1894 2056.4 1897.3 2056.7 1900.6 C2057 1903.9 2057.2 1907.2 2057.3 1910.5 C2057.4 1913.8 2057.4 1917.1 2057.4 1920.4 C2057.3 1923.7 2057.2 1927 2057 1930.3 C2056.8 1933.6 2056.5 1936.9 2056.1 1940.2 C2055.7 1943.5 2055.2 1946.8 2054.7 1950 C2054.2 1953.3 2053.5 1956.5 2052.8 1959.8 C2052.1 1963 2051.3 1966.2 2050.5 1969.4 C2049.6 1972.6 2048.6 1975.8 2047.6 1978.9 C2046.6 1982 2045.5 1985.2 2044.3 1988.2 C2043.1 1991.3 2041.8 1994.4 2040.5 1997.4 C2039.2 2000.4 2037.8 2003.4 2036.3 2006.4 C2034.8 2009.3 2033.2 2012.2 2031.6 2015.1 C2030 2018 2028.2 2020.8 2026.5 2023.6 C2024.7 2026.4 2022.8 2029.1 2020.9 2031.8 C2019 2034.5 2017 2037.2 2015 2039.8 C2012.9 2042.3 2010.8 2044.9 2008.7 2047.4 C2006.5 2049.9 2004.2 2052.3 2001.9 2054.7 C1999.6 2057.1 1996.1 2060.5 1994.9 2061.6 L1875.9 2173 L1874.8 2166 L1990.9 2057.4 C1992.1 2056.3 1995.5 2053 1997.8 2050.6 C2000 2048.3 2002.2 2046 2004.3 2043.6 C2006.4 2041.1 2008.4 2038.7 2010.4 2036.2 C2012.4 2033.6 2014.3 2031.1 2016.2 2028.5 C2018.1 2025.8 2019.9 2023.2 2021.6 2020.5 C2023.3 2017.8 2025 2015 2026.5 2012.2 C2028.1 2009.4 2029.6 2006.6 2031.1 2003.8 C2032.5 2000.9 2033.9 1998 2035.2 1995.1 C2036.5 1992.1 2037.7 1989.2 2038.9 1986.2 C2040 1983.2 2041.1 1980.1 2042.1 1977.1 C2043.1 1974 2044 1971 2044.9 1967.9 C2045.7 1964.8 2046.5 1961.7 2047.2 1958.5 C2047.8 1955.4 2048.5 1952.2 2049 1949.1 C2049.5 1945.9 2050 1942.7 2050.3 1939.5 C2050.7 1936.4 2051 1933.2 2051.2 1930 C2051.4 1926.8 2051.5 1923.6 2051.6 1920.3 C2051.6 1917.1 2051.6 1913.9 2051.5 1910.7 C2051.4 1907.5 2051.2 1904.3 2050.9 1901.1 C2050.6 1897.9 2050.3 1894.7 2049.8 1891.6 C2049.4 1888.4 2048.9 1885.2 2048.3 1882.1 C2047.7 1878.9 2047 1875.8 2046.3 1872.6 C2045.5 1869.5 2044.7 1866.4 2043.8 1863.4 C2042.9 1860.3 2041.9 1857.2 2040.8 1854.2 C2039.8 1851.2 2038.6 1848.2 2037.4 1845.2 C2036.2 1842.2 2034.9 1839.3 2033.6 1836.4 C2032.2 1833.5 2030.8 1830.6 2029.3 1827.8 C2027.8 1824.9 2026.2 1822.1 2024.6 1819.4 C2022.9 1816.6 2021.2 1813.9 2019.4 1811.2 C2017.7 1808.6 2015.8 1805.9 2013.9 1803.4 C2012 1800.8 2010 1798.3 2008 1795.8 C2005.9 1793.3 2003.8 1790.9 2001.7 1788.5 C1999.5 1786.1 1997.3 1783.8 1995 1781.6 C1992.7 1779.3 1990.4 1777.1 1988 1774.9 C1985.6 1772.8 1983.2 1770.7 1980.7 1768.7 C1978.2 1766.7 1975.7 1764.7 1973.1 1762.8 C1970.5 1760.9 1967.9 1759.1 1965.2 1757.3 C1962.5 1755.6 1959.8 1753.9 1957 1752.3 C1954.2 1750.6 1951.4 1749.1 1948.6 1747.6 C1945.7 1746.1 1942.9 1744.7 1939.9 1743.4 C1937 1742 1934.1 1740.8 1931.1 1739.6 C1928.1 1738.4 1925.1 1737.3 1922.1 1736.2 C1919 1735.2 1916 1734.2 1912.9 1733.3 C1909.8 1732.5 1906.7 1731.7 1903.6 1730.9 C1900.5 1730.2 1897.3 1729.5 1894.2 1729 C1891 1728.4 1887.8 1727.9 1884.6 1727.5 C1881.5 1727.1 1878.3 1726.7 1875.1 1726.5 C1871.9 1726.2 1868.7 1726.1 1865.5 1726 C1862.3 1725.9 1859 1725.9 1855.8 1725.9 C1852.6 1726 1849.4 1726.2 1846.2 1726.4 C1843 1726.6 1842.7 1726.2 1836.6 1727.3 C1830.6 1728.5 1821.3 1730 1809.8 1733.4 C1798.3 1736.8 1781.1 1743.6 1767.8 1747.7 C1754.5 1751.8 1736.3 1756.5 1730 1758.2Z" fill="#ff0" stroke="#000" stroke-width="1.2" />
<path d="M1552 1964 C1562.2 1953.7 1606.8 1908 1620 1895.4 C1633.2 1882.8 1635.9 1882.9 1640.1 1880.3 C1644.3 1877.7 1645.4 1877.8 1647.7 1877.8 C1650 1877.8 1653.1 1878.9 1655.2 1880.3 C1657.3 1881.7 1660.4 1884.5 1661.9 1887 C1663.4 1889.5 1664.7 1892.7 1665.3 1897 C1665.9 1901.3 1665.4 1908.7 1665.7 1915.5 C1666 1922.3 1666.7 1937.1 1667.2 1942.7 C1667.6 1948.2 1668.2 1949.4 1668.8 1952.3 C1669.3 1955.2 1670.2 1959 1670.9 1961.8 C1671.6 1964.7 1672.6 1968.5 1673.4 1971.3 C1674.3 1974.1 1675.5 1977.8 1676.5 1980.5 C1677.5 1983.3 1678.9 1987 1680 1989.7 C1681.1 1992.4 1682.7 1995.9 1684 1998.6 C1685.2 2001.2 1687 2004.7 1688.4 2007.3 C1689.8 2009.9 1691.7 2013.3 1693.2 2015.8 C1694.7 2018.3 1696.8 2021.6 1698.5 2024 C1700.1 2026.4 1702.4 2029.6 1704.2 2032 C1705.9 2034.3 1708.4 2037.4 1710.2 2039.6 C1712.1 2041.8 1714.7 2044.8 1716.7 2046.9 C1718.7 2049.1 1721.4 2051.9 1723.5 2053.9 C1725.6 2056 1728.5 2058.6 1730.7 2060.6 C1732.9 2062.5 1735.9 2065 1738.2 2066.8 C1740.4 2068.7 1743.6 2071 1746 2072.7 C1748.3 2074.4 1751.6 2076.6 1754 2078.2 C1756.5 2079.8 1759.8 2081.8 1762.4 2083.3 C1764.9 2084.7 1768.4 2086.6 1771 2087.9 C1773.6 2089.2 1775.3 2089.7 1779.8 2092.1 C1784.3 2094.5 1793.9 2101.3 1801 2104 C1808.1 2106.7 1819.3 2109 1827.2 2110.3 C1835.1 2111.6 1846.3 2112 1853.4 2112.4 C1860.5 2112.8 1869 2112.7 1874.4 2113 C1879.8 2113.3 1885.8 2113.5 1889.1 2114.5 C1892.4 2115.5 1894.7 2117.6 1896.4 2119.8 C1898.1 2122 1900.3 2126.2 1900.6 2129.2 C1900.9 2132.2 1899.9 2136.4 1898.5 2139.7 C1897.1 2143 1895.6 2146 1891.2 2151.2 C1886.8 2156.4 1880.5 2162.7 1869.1 2174.3 C1857.7 2185.9 1823.2 2220.2 1815.1 2228.3 L1808.8 2223.1 L1808.8 2223.1 C1818.3 2212.8 1861.5 2165.8 1872.3 2154.4 C1883.1 2143 1878.3 2149.2 1880.7 2147 C1883.1 2144.8 1886.6 2141.7 1888 2139.7 C1889.4 2137.7 1890.1 2135.4 1890.1 2133.4 C1890.1 2131.4 1889.1 2127.8 1888 2126.1 C1886.9 2124.4 1884.8 2122.7 1882.8 2121.9 C1880.8 2121.1 1878.8 2120.9 1874.4 2120.8 C1870 2120.7 1860.5 2121.7 1853.4 2121.4 C1846.3 2121.1 1835.1 2120.2 1827.2 2118.7 C1819.3 2117.2 1808.1 2114.1 1801 2111.4 C1793.9 2108.7 1784.4 2103.1 1779.8 2100.8 C1775.2 2098.6 1773.1 2097.9 1770.3 2096.5 C1767.6 2095.2 1763.9 2093.3 1761.2 2091.8 C1758.4 2090.3 1754.9 2088.2 1752.2 2086.5 C1749.6 2084.9 1746.1 2082.6 1743.6 2080.9 C1741 2079.1 1737.7 2076.6 1735.2 2074.7 C1732.8 2072.8 1729.6 2070.2 1727.2 2068.2 C1724.9 2066.2 1721.8 2063.4 1719.6 2061.2 C1717.3 2059.1 1714.4 2056.2 1712.3 2053.9 C1710.1 2051.6 1707.4 2048.6 1705.3 2046.2 C1703.3 2043.8 1700.7 2040.6 1698.8 2038.2 C1696.9 2035.7 1694.5 2032.3 1692.8 2029.8 C1691 2027.2 1688.7 2023.8 1687.1 2021.1 C1685.5 2018.5 1683.4 2014.9 1681.9 2012.2 C1680.4 2009.4 1678.5 2005.8 1677.2 2003 C1675.8 2000.2 1674.1 1996.4 1672.9 1993.5 C1671.7 1990.7 1670.2 1986.8 1669.2 1983.9 C1668.1 1981 1666.8 1977 1665.9 1974.1 C1665 1971.1 1663.9 1967.1 1663.2 1964.1 C1662.4 1961.1 1661.5 1957 1661 1954 C1660.4 1950.9 1659.8 1949.5 1659.3 1943.8 C1658.7 1938 1657.5 1921.5 1657.3 1915.5 C1657.1 1909.5 1658.4 1907 1658.2 1903.8 C1658 1900.6 1657 1896.6 1656.1 1894.5 C1655.2 1892.4 1653.5 1890.6 1651.9 1889.5 C1650.3 1888.4 1647.1 1887.4 1645.2 1887.4 C1643.3 1887.4 1643.1 1886.4 1639.3 1889.5 C1635.5 1892.6 1632.2 1895.9 1620 1908 C1607.8 1920.1 1567.2 1960.6 1557.9 1969.9Z" fill="#ff0" stroke="#000" stroke-width="1.2" />
<circle cx="1860" cy="1917.5" r="190.8" fill="#ff0" stroke="#000" stroke-width="1"/>
<circle cx="1860" cy="1917.5" r="185.6" fill="#ff0" stroke="#000" stroke-width="0.9"/>
<circle cx="1860" cy="1917.5" r="177.2" fill="#ff0" stroke="#000" stroke-width="0.9"/>
<circle cx="1848" cy="1906.3" r="136.8" fill="none" stroke="#000" stroke-width="0.9"/>
<circle cx="1848" cy="1906.3" r="126.3" fill="none" stroke="#000" stroke-width="0.9"/>
<circle cx="1755.6" cy="1885.5" r="16.2" fill="none" stroke="#000" stroke-width="0.9"/>
<circle cx="1859.5" cy="1917.2" r="10.5" fill="#ff0" stroke="#000" stroke-width="0.9"/>
<path d="M1853.8 1911.7 L1865.3 1911.7 L1865.3 1928.9 L1867.4 1935.2 L1851.7 1935.2 L1853.8 1928.9Z" fill="#ff0" stroke="#000" stroke-width="0.9" />
<circle cx="1859.5" cy="1917.7" r="2.9" fill="#ff0" stroke="#000" stroke-width="0.8"/>
<path d="M1850.7 1933.3 L1869.5 1933.3 L1892.6 1980.9 L1891.6 1988.9 L1885.3 1992 L1832.8 1992 L1826.5 1988.3 L1826.1 1980.9Z" fill="#ff0" stroke="#000" stroke-width="0.9" stroke-linejoin="round"/>
<path d="M1852.3 1936.9 L1867.9 1936.9 L1889 1982 L1888.4 1987.2 L1884.2 1988.9 L1833.9 1988.9 L1830.1 1986.8 L1829.7 1982Z" fill="#ff0" stroke="#000" stroke-width="0.9" stroke-linejoin="round"/>
<circle cx="1782.9" cy="1987.2" r="23" fill="#ff0" stroke="#000" stroke-width="0.9"/>
<path d="M1767.8 1963.5 L1809.8 1995.6 L1806.6 2000.2 L1842.9 2025.4 L1833.5 2035.5 L1794 2008.2 L1796.1 2004 L1757.7 1977.1Z" fill="#ff0" stroke="#000" stroke-width="0.9" />
<path d="M1806.6 2000.2 L1796.1 2004M1809.8 1995.6 L1801.4 2008.2M1797.2 1986.2 L1787.7 1999.8" fill="none" stroke="#000" stroke-width="0.8" />
<circle cx="1769.1" cy="1975.3" r="2.8" fill="#ff0" stroke="#000" stroke-width="0.8"/>
<path d="M1559.4 1841.3 L1610.8 1890.6 L1543.7 1958.8 L1492.9 1911.1Z" fill="#ff0" stroke="#000" stroke-width="1.1" />
<path d="M1571.4 1877.3 L1655.3 1799.7 L1661.1 1808.1 L1580.3 1883.6Z" fill="#ff0" stroke="#000" stroke-width="1.2" />
<path d="M1557.3 1871.3 C1562.7 1871 1568.6 1872.4 1573 1874.9 C1577.4 1877.4 1581.5 1882 1583.5 1886.4 C1585.5 1890.8 1586.2 1896.2 1585.2 1901.1 C1584.2 1906 1581 1912.1 1577.2 1915.8 C1573.4 1919.5 1567.7 1922.8 1562.5 1923.1 C1557.3 1923.4 1550.5 1920.9 1545.8 1917.9 C1541.1 1914.9 1536.5 1909.8 1534.2 1905.3 C1531.9 1900.8 1531 1895.3 1532.1 1890.6 C1533.1 1885.9 1536.3 1880.1 1540.5 1876.9 C1544.7 1873.7 1551.9 1871.6 1557.3 1871.3Z" fill="#ff0" stroke="#000" stroke-width="1.1" />
<path d="M1572.1 1877.9 L1579.8 1883.1" fill="none" stroke="#ff0" stroke-width="2.6" />
<circle cx="1557.6" cy="1898" r="14" fill="#fff" stroke="#000" stroke-width="2.4"/>
<circle cx="1557.6" cy="1898" r="8.2" fill="#f06a0a"/>
<path d="M1557.9 1969.9 L1599.2 1928.3 L1604.9 1934.6 L1563.6 1976.6Z" fill="#ff0" stroke="#000" stroke-width="1.1" />
<path d="M1717.5 1739.3 L1724.8 1745 L1698.6 1771.2 L1692.3 1764.9Z" fill="#ff0" stroke="#000" stroke-width="1" />
<path d="M1672.4 1760.7 L1680.8 1766.6 L1676.6 1770.7 L1668.8 1764.9Z" fill="#ff0" stroke="#000" stroke-width="1" />
<circle cx="1672.4" cy="1789.6" r="11.5" fill="#a9b1b1" stroke="#000" stroke-width="1"/>
<g clip-path="url(#cPin)"><path d="M1659.5 1795.5 L1679.4 1777.2 L1687.8 1785.5 L1668.9 1803.9Z" fill="#fff" stroke="#000" stroke-width="1"/></g>
<circle cx="1672.4" cy="1789.6" r="11.5" fill="none" stroke="#000" stroke-width="1"/>
<path d="M1683.1 1770.3 L1687.8 1775.1 L1697.2 1784 L1692 1778.7" fill="none" stroke="#000" stroke-width="0.8" />
<path d="M1722.7 1764.9 C1718.7 1766.5 1705.8 1772.9 1698.6 1774.3 C1691.4 1775.7 1685.3 1772.9 1679.7 1773.3 C1674.1 1773.7 1668.8 1774 1665 1776.4 C1661.2 1778.8 1657.6 1783.9 1656.6 1787.9 C1655.5 1791.9 1656.6 1797.3 1658.7 1800.5 C1660.8 1803.7 1665.4 1806.1 1669.2 1806.8 C1673 1807.5 1678 1807.5 1681.8 1804.7 C1685.6 1801.9 1689.5 1794 1692.3 1790 C1695.1 1786 1695.8 1783.2 1698.6 1780.6 C1701.4 1778 1703.9 1778.6 1709.1 1774.3 C1714.3 1770 1726.5 1758 1730 1754.8" fill="none" stroke="#000" stroke-width="5.2" stroke-linecap="butt"/>
<path d="M1722.7 1764.9 C1718.7 1766.5 1705.8 1772.9 1698.6 1774.3 C1691.4 1775.7 1685.3 1772.9 1679.7 1773.3 C1674.1 1773.7 1668.8 1774 1665 1776.4 C1661.2 1778.8 1657.6 1783.9 1656.6 1787.9 C1655.5 1791.9 1656.6 1797.3 1658.7 1800.5 C1660.8 1803.7 1665.4 1806.1 1669.2 1806.8 C1673 1807.5 1678 1807.5 1681.8 1804.7 C1685.6 1801.9 1689.5 1794 1692.3 1790 C1695.1 1786 1695.8 1783.2 1698.6 1780.6 C1701.4 1778 1703.9 1778.6 1709.1 1774.3 C1714.3 1770 1726.5 1758 1730 1754.8" fill="none" stroke="#ff0" stroke-width="3.4" />
<path d="M1816.2 2228.6 L1844.2 2199.5 L1848.7 2204.2 L1824.9 2229.1 L1863.9 2268.2 L1859.2 2272.9Z" fill="#ff0" stroke="#000" stroke-width="1.2" />
<path d="M1834 2236.7 L1838.7 2232 L1862.9 2256.1 L1858.1 2260.8Z" fill="#ff0" stroke="#000" stroke-width="1.2" />
<path d="M1838.7 2241.4 L1842.9 2237.2 L1858.1 2252.4 L1853.9 2256.6Z" fill="#ff0" stroke="#000" stroke-width="1.2" />
<path d="M1954.5 1731.3 L1915.7 1810" stroke="#f00" stroke-width="0.9" fill="none"/><path d="M1911.1 1819.4 L1911.3 1807.8 L1920.2 1812.2 Z" fill="#f00"/>
<path d="M1589.4 1724.2 L1650 1754" stroke="#f00" stroke-width="0.9" fill="none"/><path d="M1659.4 1758.6 L1647.8 1758.5 L1652.2 1749.5 Z" fill="#f00"/>
<path d="M1462.9 1781.5 L1601.8 1825.5" stroke="#f00" stroke-width="0.9" fill="none"/><path d="M1611.8 1828.7 L1600.3 1830.3 L1603.3 1820.8 Z" fill="#f00"/>
<path d="M1454.5 1952.9 L1498.4 1938.9" stroke="#f00" stroke-width="0.9" fill="none"/><path d="M1508.4 1935.7 L1499.9 1943.7 L1496.9 1934.1 Z" fill="#f00"/>
<path d="M1536.3 2020 L1557.8 1987.8" stroke="#f00" stroke-width="0.9" fill="none"/><path d="M1563.6 1979.1 L1561.9 1990.6 L1553.6 1985.1 Z" fill="#f00"/>
<path d="M1645.1 2136.9 L1714.4 2073.5" stroke="#f00" stroke-width="0.9" fill="none"/><path d="M1722.1 2066.4 L1717.7 2077.2 L1711 2069.8 Z" fill="#f00"/>
<path d="M1747.9 2263.2 L1818.4 2247" stroke="#f00" stroke-width="0.9" fill="none"/><path d="M1828.6 2244.7 L1819.5 2251.9 L1817.2 2242.2 Z" fill="#f00"/>
<path d="M2068.7 1752.3 L1992.5 1815.4" stroke="#f00" stroke-width="0.9" fill="none"/><path d="M1984.4 1822.1 L1989.3 1811.6 L1995.7 1819.3 Z" fill="#f00"/>
<path d="M2143.8 1844.2 L2061.2 1862.3" stroke="#f00" stroke-width="0.9" fill="none"/><path d="M2050.9 1864.5 L2060.1 1857.4 L2062.2 1867.1 Z" fill="#f00"/>
<path d="M2146.8 1931.6 L1881.7 1918.9" stroke="#f00" stroke-width="0.9" fill="none"/><path d="M1871.2 1918.4 L1881.9 1913.9 L1881.4 1923.9 Z" fill="#f00"/>
<path d="M2148.4 2027.5 L1915.5 1984.9" stroke="#f00" stroke-width="0.9" fill="none"/><path d="M1905.2 1983 L1916.4 1980 L1914.6 1989.8 Z" fill="#f00"/>
<path d="M2090 2135 L1858.3 2035.8" stroke="#f00" stroke-width="0.9" fill="none"/><path d="M1848.6 2031.7 L1860.2 2031.2 L1856.3 2040.4 Z" fill="#f00"/>
<path d="M2024 2265 L1879 2253.5" stroke="#f00" stroke-width="0.9" fill="none"/><path d="M1868.5 2252.7 L1879.4 2248.5 L1878.6 2258.5 Z" fill="#f00"/>
<circle cx="1546.8" cy="1705.6" r="36" fill="#fff" stroke="#0ff" stroke-width="2.2"/><text x="1546.8" y="1725.6" font-size="56" fill="#00f" text-anchor="middle">7</text>
<circle cx="1420.3" cy="1759.9" r="36" fill="#fff" stroke="#0ff" stroke-width="2.2"/><text x="1420.3" y="1779.9" font-size="56" fill="#00f" text-anchor="middle">5</text>
<circle cx="1416.8" cy="1976" r="36" fill="#fff" stroke="#0ff" stroke-width="2.2"/><text x="1416.8" y="1996" font-size="56" fill="#00f" text-anchor="middle">4</text>
<circle cx="1502.6" cy="2063.4" r="36" fill="#fff" stroke="#0ff" stroke-width="2.2"/><text x="1502.6" y="2083.4" font-size="56" fill="#00f" text-anchor="middle">2</text>
<circle cx="1608.5" cy="2163.5" r="36" fill="#fff" stroke="#0ff" stroke-width="2.2"/><text x="1608.5" y="2183.5" font-size="56" fill="#00f" text-anchor="middle">3</text>
<circle cx="1708" cy="2274.3" r="36" fill="#fff" stroke="#0ff" stroke-width="2.2"/><text x="1708" y="2294.3" font-size="56" fill="#00f" text-anchor="middle">1</text>
<circle cx="2069.9" cy="2268" r="36" fill="#fff" stroke="#0ff" stroke-width="2.2"/><text x="2069.9" y="2288" font-size="56" fill="#00f" text-anchor="middle">6</text>
<circle cx="2135.5" cy="2157" r="36" fill="#fff" stroke="#0ff" stroke-width="2.2"/><text x="2135.5" y="2177" font-size="56" fill="#00f" text-anchor="middle">16</text>
<circle cx="1970.1" cy="1691.5" r="36" fill="#fff" stroke="#0ff" stroke-width="2.2"/><text x="1970.1" y="1711.5" font-size="56" fill="#00f" text-anchor="middle">11</text>
<circle cx="2108" cy="1721.5" r="36" fill="#fff" stroke="#0ff" stroke-width="2.2"/><text x="2108" y="1741.5" font-size="56" fill="#00f" text-anchor="middle">14</text>
<circle cx="2193.1" cy="1833" r="36" fill="#fff" stroke="#0ff" stroke-width="2.2"/><text x="2193.1" y="1853" font-size="56" fill="#00f" text-anchor="middle">10</text>
<circle cx="2195.6" cy="1934.8" r="36" fill="#fff" stroke="#0ff" stroke-width="2.2"/><text x="2195.6" y="1954.8" font-size="56" fill="#00f" text-anchor="middle">17</text>
<circle cx="2195.6" cy="2036.5" r="36" fill="#fff" stroke="#0ff" stroke-width="2.2"/><text x="2195.6" y="2056.5" font-size="56" fill="#00f" text-anchor="middle">18</text>
</g>
</svg>
</body></html>
